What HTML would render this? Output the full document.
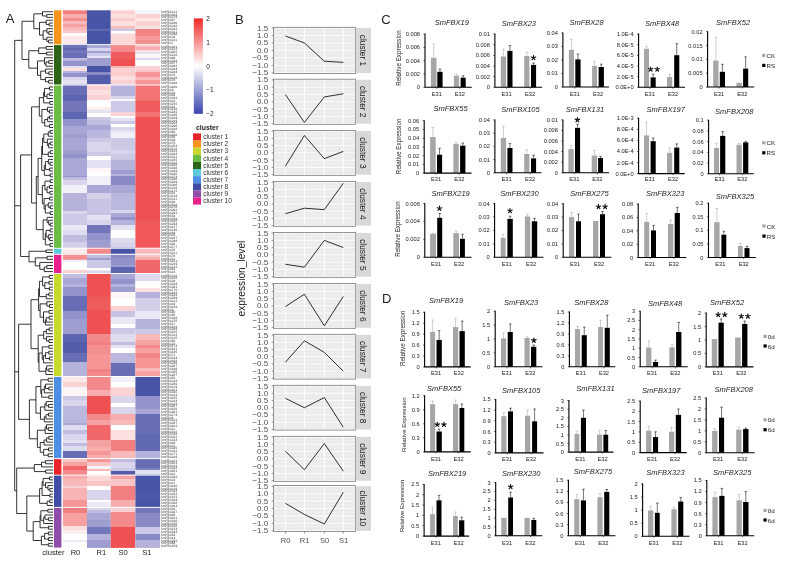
<!DOCTYPE html>
<html><head><meta charset="utf-8"><title>Figure</title>
<style>
html,body{margin:0;padding:0;background:#fff;}
body{width:785px;height:561px;overflow:hidden;position:relative;}
svg{position:absolute;left:0;top:0;font-family:"Liberation Sans", sans-serif;will-change:transform;filter:blur(0.3px);}
</style></head><body>
<svg width="785" height="561" viewBox="0 0 785 561">
<rect width="785" height="561" fill="#fff"/>
<rect x="62.9" y="10.3" width="24.1" height="4" fill="#f37e7f"/>
<rect x="62.9" y="14" width="24.1" height="4.3" fill="#f7adae"/>
<rect x="62.9" y="18" width="24.1" height="3.3" fill="#f48f90"/>
<rect x="62.9" y="21" width="24.1" height="3.3" fill="#f8b9ba"/>
<rect x="62.9" y="24" width="24.1" height="3.3" fill="#f6a1a2"/>
<rect x="62.9" y="27" width="24.1" height="3.3" fill="#f8b9ba"/>
<rect x="62.9" y="30" width="24.1" height="3.3" fill="#fac5c6"/>
<rect x="62.9" y="33" width="24.1" height="3.3" fill="#ffffff"/>
<rect x="62.9" y="36" width="24.1" height="8.6" fill="#fde7e7"/>
<rect x="62.9" y="44.3" width="24.1" height="3.5" fill="#686eb5"/>
<rect x="62.9" y="47.5" width="24.1" height="2.8" fill="#5d65b0"/>
<rect x="62.9" y="50" width="24.1" height="3.3" fill="#7376bb"/>
<rect x="62.9" y="53" width="24.1" height="5.3" fill="#686eb5"/>
<rect x="62.9" y="58" width="24.1" height="2.8" fill="#c0bde0"/>
<rect x="62.9" y="60.5" width="24.1" height="5.8" fill="#9393cb"/>
<rect x="62.9" y="66" width="24.1" height="2.3" fill="#e4e2f2"/>
<rect x="62.9" y="68" width="24.1" height="3.3" fill="#fce0e0"/>
<rect x="62.9" y="71" width="24.1" height="2.3" fill="#b5b2db"/>
<rect x="62.9" y="73" width="24.1" height="4.3" fill="#9393cb"/>
<rect x="62.9" y="77" width="24.1" height="3.3" fill="#d8d5ec"/>
<rect x="62.9" y="80" width="24.1" height="4.8" fill="#e4e2f2"/>
<rect x="62.9" y="84.5" width="24.1" height="10.8" fill="#686eb5"/>
<rect x="62.9" y="95" width="24.1" height="6.3" fill="#5d65b0"/>
<rect x="62.9" y="101" width="24.1" height="11.3" fill="#7376bb"/>
<rect x="62.9" y="112" width="24.1" height="7.3" fill="#5d65b0"/>
<rect x="62.9" y="119" width="24.1" height="7.3" fill="#9393cb"/>
<rect x="62.9" y="126" width="24.1" height="8.3" fill="#a9a7d5"/>
<rect x="62.9" y="134" width="24.1" height="4.3" fill="#9e9dd0"/>
<rect x="62.9" y="138" width="24.1" height="12.3" fill="#a9a7d5"/>
<rect x="62.9" y="150" width="24.1" height="4.3" fill="#9e9dd0"/>
<rect x="62.9" y="154" width="24.1" height="4.3" fill="#9393cb"/>
<rect x="62.9" y="158" width="24.1" height="18.3" fill="#a9a7d5"/>
<rect x="62.9" y="176" width="24.1" height="1.3" fill="#9393cb"/>
<rect x="62.9" y="177" width="24.1" height="3.3" fill="#c0bde0"/>
<rect x="62.9" y="180" width="24.1" height="5.3" fill="#d8d5ec"/>
<rect x="62.9" y="185" width="24.1" height="8.3" fill="#f1f0f8"/>
<rect x="62.9" y="193" width="24.1" height="18.3" fill="#b5b2db"/>
<rect x="62.9" y="211" width="24.1" height="3.3" fill="#d8d5ec"/>
<rect x="62.9" y="214" width="24.1" height="11.3" fill="#ccc9e6"/>
<rect x="62.9" y="225" width="24.1" height="5.3" fill="#eae9f5"/>
<rect x="62.9" y="230" width="24.1" height="5.3" fill="#dedcef"/>
<rect x="62.9" y="235" width="24.1" height="7.3" fill="#c0bde0"/>
<rect x="62.9" y="242" width="24.1" height="6.1" fill="#d2cfe9"/>
<rect x="62.9" y="247.8" width="24.1" height="6.3" fill="#fdeeee"/>
<rect x="62.9" y="253.8" width="24.1" height="6.3" fill="#f48f90"/>
<rect x="62.9" y="259.8" width="24.1" height="2.5" fill="#f1f0f8"/>
<rect x="62.9" y="262" width="24.1" height="8.3" fill="#ffffff"/>
<rect x="62.9" y="270" width="24.1" height="3.4" fill="#fbd2d3"/>
<rect x="62.9" y="273.1" width="24.1" height="5.2" fill="#c0bde0"/>
<rect x="62.9" y="278" width="24.1" height="6.3" fill="#a9a7d5"/>
<rect x="62.9" y="284" width="24.1" height="3.3" fill="#b5b2db"/>
<rect x="62.9" y="287" width="24.1" height="9.3" fill="#9393cb"/>
<rect x="62.9" y="296" width="24.1" height="15.3" fill="#686eb5"/>
<rect x="62.9" y="311" width="24.1" height="8.3" fill="#9393cb"/>
<rect x="62.9" y="319" width="24.1" height="15.3" fill="#9e9dd0"/>
<rect x="62.9" y="334" width="24.1" height="8.3" fill="#5d65b0"/>
<rect x="62.9" y="342" width="24.1" height="11.3" fill="#535cab"/>
<rect x="62.9" y="353" width="24.1" height="9.3" fill="#686eb5"/>
<rect x="62.9" y="362" width="24.1" height="14.3" fill="#b5b2db"/>
<rect x="62.9" y="376" width="24.1" height="6.3" fill="#fde7e7"/>
<rect x="62.9" y="382" width="24.1" height="5.3" fill="#fbd2d3"/>
<rect x="62.9" y="387" width="24.1" height="3.3" fill="#f7f7fb"/>
<rect x="62.9" y="390" width="24.1" height="6.3" fill="#fef6f6"/>
<rect x="62.9" y="396" width="24.1" height="4.3" fill="#ccc9e6"/>
<rect x="62.9" y="400" width="24.1" height="6.3" fill="#d8d5ec"/>
<rect x="62.9" y="406" width="24.1" height="17.3" fill="#bab8de"/>
<rect x="62.9" y="423" width="24.1" height="2.3" fill="#a9a7d5"/>
<rect x="62.9" y="425" width="24.1" height="5.3" fill="#dedcef"/>
<rect x="62.9" y="430" width="24.1" height="4.3" fill="#c0bde0"/>
<rect x="62.9" y="434" width="24.1" height="6.3" fill="#d8d5ec"/>
<rect x="62.9" y="440" width="24.1" height="3.3" fill="#e4e2f2"/>
<rect x="62.9" y="443" width="24.1" height="3.3" fill="#c0bde0"/>
<rect x="62.9" y="446" width="24.1" height="5.3" fill="#dedcef"/>
<rect x="62.9" y="451" width="24.1" height="7.3" fill="#686eb5"/>
<rect x="62.9" y="458" width="24.1" height="4.3" fill="#fac5c6"/>
<rect x="62.9" y="462" width="24.1" height="4.3" fill="#f6a1a2"/>
<rect x="62.9" y="466" width="24.1" height="4.3" fill="#f16769"/>
<rect x="62.9" y="470" width="24.1" height="5" fill="#f4898b"/>
<rect x="62.9" y="474.7" width="24.1" height="4.6" fill="#f7adae"/>
<rect x="62.9" y="479" width="24.1" height="7.3" fill="#f8b9ba"/>
<rect x="62.9" y="486" width="24.1" height="2.3" fill="#fbd2d3"/>
<rect x="62.9" y="488" width="24.1" height="12.3" fill="#f8b3b4"/>
<rect x="62.9" y="500" width="24.1" height="7.2" fill="#f59596"/>
<rect x="62.9" y="506.9" width="24.1" height="6.4" fill="#f37e7f"/>
<rect x="62.9" y="513" width="24.1" height="13.3" fill="#f6a1a2"/>
<rect x="62.9" y="526" width="24.1" height="4.3" fill="#fce0e0"/>
<rect x="62.9" y="530" width="24.1" height="4.3" fill="#fdeeee"/>
<rect x="62.9" y="534" width="24.1" height="6.3" fill="#ffffff"/>
<rect x="62.9" y="540" width="24.1" height="2.3" fill="#eae9f5"/>
<rect x="62.9" y="542" width="24.1" height="5.9" fill="#ffffff"/>
<rect x="87" y="10.3" width="23.8" height="19.4" fill="#4854a6"/>
<rect x="87" y="29.4" width="23.8" height="1.4" fill="#535cab"/>
<rect x="87" y="30.5" width="23.8" height="14.1" fill="#4854a6"/>
<rect x="87" y="44.3" width="23.8" height="4" fill="#a9a7d5"/>
<rect x="87" y="48" width="23.8" height="3.3" fill="#d8d5ec"/>
<rect x="87" y="51" width="23.8" height="2.3" fill="#9e9dd0"/>
<rect x="87" y="53" width="23.8" height="3.3" fill="#ccc9e6"/>
<rect x="87" y="56" width="23.8" height="2.3" fill="#e4e2f2"/>
<rect x="87" y="58" width="23.8" height="8.3" fill="#9e9dd0"/>
<rect x="87" y="66" width="23.8" height="6.3" fill="#4854a6"/>
<rect x="87" y="72" width="23.8" height="3.3" fill="#8889c5"/>
<rect x="87" y="75" width="23.8" height="9.8" fill="#535cab"/>
<rect x="87" y="84.5" width="23.8" height="5.8" fill="#fbd2d3"/>
<rect x="87" y="90" width="23.8" height="5.3" fill="#fce0e0"/>
<rect x="87" y="95" width="23.8" height="5.3" fill="#fbd2d3"/>
<rect x="87" y="100" width="23.8" height="7.3" fill="#ffffff"/>
<rect x="87" y="107" width="23.8" height="3.3" fill="#fdeeee"/>
<rect x="87" y="110" width="23.8" height="3.3" fill="#e4e2f2"/>
<rect x="87" y="113" width="23.8" height="4.3" fill="#ffffff"/>
<rect x="87" y="117" width="23.8" height="3.3" fill="#ccc9e6"/>
<rect x="87" y="120" width="23.8" height="5.3" fill="#c0bde0"/>
<rect x="87" y="125" width="23.8" height="5.3" fill="#a9a7d5"/>
<rect x="87" y="130" width="23.8" height="8.3" fill="#bab8de"/>
<rect x="87" y="138" width="23.8" height="4.3" fill="#ccc9e6"/>
<rect x="87" y="142" width="23.8" height="10.3" fill="#d8d5ec"/>
<rect x="87" y="152" width="23.8" height="4.3" fill="#ccc9e6"/>
<rect x="87" y="156" width="23.8" height="4.3" fill="#ffffff"/>
<rect x="87" y="160" width="23.8" height="8.3" fill="#e4e2f2"/>
<rect x="87" y="168" width="23.8" height="4.3" fill="#fef6f6"/>
<rect x="87" y="172" width="23.8" height="4.3" fill="#ffffff"/>
<rect x="87" y="176" width="23.8" height="9.3" fill="#f1f0f8"/>
<rect x="87" y="185" width="23.8" height="8.3" fill="#a9a7d5"/>
<rect x="87" y="193" width="23.8" height="6.3" fill="#d2cfe9"/>
<rect x="87" y="199" width="23.8" height="16.3" fill="#c6c3e3"/>
<rect x="87" y="215" width="23.8" height="5.3" fill="#e4e2f2"/>
<rect x="87" y="220" width="23.8" height="5.3" fill="#d8d5ec"/>
<rect x="87" y="225" width="23.8" height="8.3" fill="#7376bb"/>
<rect x="87" y="233" width="23.8" height="7.3" fill="#9393cb"/>
<rect x="87" y="240" width="23.8" height="8.1" fill="#9e9dd0"/>
<rect x="87" y="247.8" width="23.8" height="6.3" fill="#f4898b"/>
<rect x="87" y="253.8" width="23.8" height="4.5" fill="#c0bde0"/>
<rect x="87" y="258" width="23.8" height="2.3" fill="#9e9dd0"/>
<rect x="87" y="260" width="23.8" height="8.3" fill="#ccc9e6"/>
<rect x="87" y="268" width="23.8" height="2.8" fill="#ffffff"/>
<rect x="87" y="270.5" width="23.8" height="2.9" fill="#d8d5ec"/>
<rect x="87" y="273.1" width="23.8" height="23.2" fill="#ef5153"/>
<rect x="87" y="296" width="23.8" height="4.3" fill="#ef5759"/>
<rect x="87" y="300" width="23.8" height="10.3" fill="#f05c5e"/>
<rect x="87" y="310" width="23.8" height="24.3" fill="#ef5153"/>
<rect x="87" y="334" width="23.8" height="8.3" fill="#f4898b"/>
<rect x="87" y="342" width="23.8" height="3.3" fill="#f37e7f"/>
<rect x="87" y="345" width="23.8" height="9.3" fill="#f48f90"/>
<rect x="87" y="354" width="23.8" height="15.3" fill="#f59596"/>
<rect x="87" y="369" width="23.8" height="3.3" fill="#f37e7f"/>
<rect x="87" y="372" width="23.8" height="4.3" fill="#f4898b"/>
<rect x="87" y="376" width="23.8" height="14.3" fill="#f4898b"/>
<rect x="87" y="390" width="23.8" height="6.3" fill="#f7adae"/>
<rect x="87" y="396" width="23.8" height="18.3" fill="#ef5153"/>
<rect x="87" y="414" width="23.8" height="6.3" fill="#f4898b"/>
<rect x="87" y="420" width="23.8" height="5.3" fill="#f6a1a2"/>
<rect x="87" y="425" width="23.8" height="15.3" fill="#f16769"/>
<rect x="87" y="440" width="23.8" height="7.3" fill="#f6a1a2"/>
<rect x="87" y="447" width="23.8" height="4.3" fill="#f7adae"/>
<rect x="87" y="451" width="23.8" height="4.3" fill="#f59596"/>
<rect x="87" y="455" width="23.8" height="3.3" fill="#f7adae"/>
<rect x="87" y="458" width="23.8" height="4.3" fill="#f59596"/>
<rect x="87" y="462" width="23.8" height="4.3" fill="#fac5c6"/>
<rect x="87" y="466" width="23.8" height="3.3" fill="#f7f7fb"/>
<rect x="87" y="469" width="23.8" height="2.3" fill="#f8b9ba"/>
<rect x="87" y="471" width="23.8" height="4" fill="#ffffff"/>
<rect x="87" y="474.7" width="23.8" height="6.6" fill="#fbd9d9"/>
<rect x="87" y="481" width="23.8" height="5.3" fill="#fac5c6"/>
<rect x="87" y="486" width="23.8" height="4.3" fill="#ffffff"/>
<rect x="87" y="490" width="23.8" height="10.3" fill="#d8d5ec"/>
<rect x="87" y="500" width="23.8" height="2.3" fill="#ffffff"/>
<rect x="87" y="502" width="23.8" height="5.2" fill="#eae9f5"/>
<rect x="87" y="506.9" width="23.8" height="3.4" fill="#d8d5ec"/>
<rect x="87" y="510" width="23.8" height="3.3" fill="#c0bde0"/>
<rect x="87" y="513" width="23.8" height="7.3" fill="#a9a7d5"/>
<rect x="87" y="520" width="23.8" height="7.3" fill="#9e9dd0"/>
<rect x="87" y="527" width="23.8" height="7.3" fill="#7376bb"/>
<rect x="87" y="534" width="23.8" height="6.3" fill="#b5b2db"/>
<rect x="87" y="540" width="23.8" height="7.9" fill="#9e9dd0"/>
<rect x="110.8" y="10.3" width="24.6" height="4" fill="#fbd2d3"/>
<rect x="110.8" y="14" width="24.6" height="4.3" fill="#fce0e0"/>
<rect x="110.8" y="18" width="24.6" height="3.3" fill="#facccc"/>
<rect x="110.8" y="21" width="24.6" height="5.3" fill="#fce0e0"/>
<rect x="110.8" y="26" width="24.6" height="3.1" fill="#f9bfc0"/>
<rect x="110.8" y="28.8" width="24.6" height="2.6" fill="#ccc9e6"/>
<rect x="110.8" y="31.1" width="24.6" height="2.7" fill="#ffffff"/>
<rect x="110.8" y="33.5" width="24.6" height="11.1" fill="#fbd9d9"/>
<rect x="110.8" y="44.3" width="24.6" height="8" fill="#f4898b"/>
<rect x="110.8" y="52" width="24.6" height="7.3" fill="#f05c5e"/>
<rect x="110.8" y="59" width="24.6" height="7.3" fill="#ef5153"/>
<rect x="110.8" y="66" width="24.6" height="2.3" fill="#f8b9ba"/>
<rect x="110.8" y="68" width="24.6" height="4.3" fill="#fbd2d3"/>
<rect x="110.8" y="72" width="24.6" height="4.3" fill="#facccc"/>
<rect x="110.8" y="76" width="24.6" height="4.3" fill="#fce0e0"/>
<rect x="110.8" y="80" width="24.6" height="4.8" fill="#fbd2d3"/>
<rect x="110.8" y="84.5" width="24.6" height="11.8" fill="#b5b2db"/>
<rect x="110.8" y="96" width="24.6" height="3.3" fill="#d8d5ec"/>
<rect x="110.8" y="99" width="24.6" height="2.3" fill="#f7f7fb"/>
<rect x="110.8" y="101" width="24.6" height="11.3" fill="#ccc9e6"/>
<rect x="110.8" y="112" width="24.6" height="4.3" fill="#fbd2d3"/>
<rect x="110.8" y="116" width="24.6" height="2.3" fill="#ffffff"/>
<rect x="110.8" y="118" width="24.6" height="3.3" fill="#e4e2f2"/>
<rect x="110.8" y="121" width="24.6" height="3.3" fill="#ccc9e6"/>
<rect x="110.8" y="124" width="24.6" height="3.3" fill="#ffffff"/>
<rect x="110.8" y="127" width="24.6" height="3.3" fill="#d8d5ec"/>
<rect x="110.8" y="130" width="24.6" height="2.3" fill="#e4e2f2"/>
<rect x="110.8" y="132" width="24.6" height="6.3" fill="#f1f0f8"/>
<rect x="110.8" y="138" width="24.6" height="12.3" fill="#ccc9e6"/>
<rect x="110.8" y="150" width="24.6" height="4.3" fill="#d8d5ec"/>
<rect x="110.8" y="154" width="24.6" height="6.3" fill="#ccc9e6"/>
<rect x="110.8" y="160" width="24.6" height="10.3" fill="#b5b2db"/>
<rect x="110.8" y="170" width="24.6" height="4.3" fill="#9e9dd0"/>
<rect x="110.8" y="174" width="24.6" height="2.3" fill="#b5b2db"/>
<rect x="110.8" y="176" width="24.6" height="9.3" fill="#8889c5"/>
<rect x="110.8" y="185" width="24.6" height="8.3" fill="#a9a7d5"/>
<rect x="110.8" y="193" width="24.6" height="17.3" fill="#bab8de"/>
<rect x="110.8" y="210" width="24.6" height="3.3" fill="#d8d5ec"/>
<rect x="110.8" y="213" width="24.6" height="4.3" fill="#a9a7d5"/>
<rect x="110.8" y="217" width="24.6" height="3.3" fill="#9393cb"/>
<rect x="110.8" y="220" width="24.6" height="5.3" fill="#b5b2db"/>
<rect x="110.8" y="225" width="24.6" height="5.3" fill="#e4e2f2"/>
<rect x="110.8" y="230" width="24.6" height="8.3" fill="#ffffff"/>
<rect x="110.8" y="238" width="24.6" height="4.3" fill="#dedcef"/>
<rect x="110.8" y="242" width="24.6" height="6.1" fill="#d8d5ec"/>
<rect x="110.8" y="247.8" width="24.6" height="6.3" fill="#4854a6"/>
<rect x="110.8" y="253.8" width="24.6" height="4.5" fill="#8889c5"/>
<rect x="110.8" y="258" width="24.6" height="7.3" fill="#9393cb"/>
<rect x="110.8" y="265" width="24.6" height="2.3" fill="#9e9dd0"/>
<rect x="110.8" y="267" width="24.6" height="6.4" fill="#5d65b0"/>
<rect x="110.8" y="273.1" width="24.6" height="6.2" fill="#a9a7d5"/>
<rect x="110.8" y="279" width="24.6" height="5.3" fill="#9393cb"/>
<rect x="110.8" y="284" width="24.6" height="3.3" fill="#b5b2db"/>
<rect x="110.8" y="287" width="24.6" height="5.3" fill="#9e9dd0"/>
<rect x="110.8" y="292" width="24.6" height="6.3" fill="#fef6f6"/>
<rect x="110.8" y="298" width="24.6" height="8.3" fill="#ffffff"/>
<rect x="110.8" y="306" width="24.6" height="5.3" fill="#fbd2d3"/>
<rect x="110.8" y="311" width="24.6" height="6.3" fill="#c6c3e3"/>
<rect x="110.8" y="317" width="24.6" height="7.3" fill="#eae9f5"/>
<rect x="110.8" y="324" width="24.6" height="4.3" fill="#ffffff"/>
<rect x="110.8" y="328" width="24.6" height="6.3" fill="#ccc9e6"/>
<rect x="110.8" y="334" width="24.6" height="8.3" fill="#dedcef"/>
<rect x="110.8" y="342" width="24.6" height="3.3" fill="#c0bde0"/>
<rect x="110.8" y="345" width="24.6" height="3.3" fill="#e4e2f2"/>
<rect x="110.8" y="348" width="24.6" height="5.3" fill="#ffffff"/>
<rect x="110.8" y="353" width="24.6" height="10.3" fill="#bab8de"/>
<rect x="110.8" y="363" width="24.6" height="13.3" fill="#686eb5"/>
<rect x="110.8" y="376" width="24.6" height="6.3" fill="#f1f0f8"/>
<rect x="110.8" y="382" width="24.6" height="5.3" fill="#ffffff"/>
<rect x="110.8" y="387" width="24.6" height="1.3" fill="#fce0e0"/>
<rect x="110.8" y="388" width="24.6" height="8.3" fill="#fbd2d3"/>
<rect x="110.8" y="396" width="24.6" height="7.3" fill="#d8d5ec"/>
<rect x="110.8" y="403" width="24.6" height="4.3" fill="#ffffff"/>
<rect x="110.8" y="407" width="24.6" height="7.3" fill="#d8d5ec"/>
<rect x="110.8" y="414" width="24.6" height="6.3" fill="#f7adae"/>
<rect x="110.8" y="420" width="24.6" height="5.3" fill="#f8b9ba"/>
<rect x="110.8" y="425" width="24.6" height="5.3" fill="#ffffff"/>
<rect x="110.8" y="430" width="24.6" height="10.3" fill="#fce0e0"/>
<rect x="110.8" y="440" width="24.6" height="11.3" fill="#f37e7f"/>
<rect x="110.8" y="451" width="24.6" height="7.3" fill="#f8b9ba"/>
<rect x="110.8" y="458" width="24.6" height="4.3" fill="#c0bde0"/>
<rect x="110.8" y="462" width="24.6" height="6.3" fill="#d8d5ec"/>
<rect x="110.8" y="468" width="24.6" height="3.3" fill="#ccc9e6"/>
<rect x="110.8" y="471" width="24.6" height="4" fill="#535cab"/>
<rect x="110.8" y="474.7" width="24.6" height="4.6" fill="#f6a1a2"/>
<rect x="110.8" y="479" width="24.6" height="7.3" fill="#fac5c6"/>
<rect x="110.8" y="486" width="24.6" height="14.3" fill="#f37e7f"/>
<rect x="110.8" y="500" width="24.6" height="7.2" fill="#f7adae"/>
<rect x="110.8" y="506.9" width="24.6" height="5.4" fill="#fbd2d3"/>
<rect x="110.8" y="512" width="24.6" height="8.3" fill="#f4898b"/>
<rect x="110.8" y="520" width="24.6" height="7.3" fill="#f4898b"/>
<rect x="110.8" y="527" width="24.6" height="20.9" fill="#ef5153"/>
<rect x="135.4" y="10.3" width="24.7" height="4" fill="#f7f7fb"/>
<rect x="135.4" y="14" width="24.7" height="4.3" fill="#fbd2d3"/>
<rect x="135.4" y="18" width="24.7" height="3.3" fill="#fde7e7"/>
<rect x="135.4" y="21" width="24.7" height="5.3" fill="#fbd2d3"/>
<rect x="135.4" y="26" width="24.7" height="3.3" fill="#fce0e0"/>
<rect x="135.4" y="29" width="24.7" height="7.3" fill="#f38485"/>
<rect x="135.4" y="36" width="24.7" height="4.3" fill="#f59b9c"/>
<rect x="135.4" y="40" width="24.7" height="4.6" fill="#f48f90"/>
<rect x="135.4" y="44.3" width="24.7" height="3" fill="#fac5c6"/>
<rect x="135.4" y="47" width="24.7" height="3.3" fill="#f7adae"/>
<rect x="135.4" y="50" width="24.7" height="2.3" fill="#fce0e0"/>
<rect x="135.4" y="52" width="24.7" height="2.3" fill="#e4e2f2"/>
<rect x="135.4" y="54" width="24.7" height="4.3" fill="#fef6f6"/>
<rect x="135.4" y="58" width="24.7" height="2.3" fill="#d8d5ec"/>
<rect x="135.4" y="60" width="24.7" height="6.3" fill="#ffffff"/>
<rect x="135.4" y="66" width="24.7" height="4.3" fill="#fbd2d3"/>
<rect x="135.4" y="70" width="24.7" height="2.3" fill="#fac5c6"/>
<rect x="135.4" y="72" width="24.7" height="5.3" fill="#f59596"/>
<rect x="135.4" y="77" width="24.7" height="3.3" fill="#f8b9ba"/>
<rect x="135.4" y="80" width="24.7" height="4.8" fill="#f59596"/>
<rect x="135.4" y="84.5" width="24.7" height="16.8" fill="#f27374"/>
<rect x="135.4" y="101" width="24.7" height="11.3" fill="#f05c5e"/>
<rect x="135.4" y="112" width="24.7" height="5.3" fill="#f27374"/>
<rect x="135.4" y="117" width="24.7" height="103.3" fill="#ef5153"/>
<rect x="135.4" y="220" width="24.7" height="28.1" fill="#ef5759"/>
<rect x="135.4" y="247.8" width="24.7" height="6.3" fill="#f8b9ba"/>
<rect x="135.4" y="253.8" width="24.7" height="3.5" fill="#fac5c6"/>
<rect x="135.4" y="257" width="24.7" height="3.3" fill="#f7adae"/>
<rect x="135.4" y="260" width="24.7" height="13.4" fill="#f16769"/>
<rect x="135.4" y="273.1" width="24.7" height="8.2" fill="#dedcef"/>
<rect x="135.4" y="281" width="24.7" height="7.3" fill="#ffffff"/>
<rect x="135.4" y="288" width="24.7" height="4.3" fill="#fce0e0"/>
<rect x="135.4" y="292" width="24.7" height="6.3" fill="#b5b2db"/>
<rect x="135.4" y="298" width="24.7" height="13.3" fill="#d2cfe9"/>
<rect x="135.4" y="311" width="24.7" height="8.3" fill="#eae9f5"/>
<rect x="135.4" y="319" width="24.7" height="10.3" fill="#b5b2db"/>
<rect x="135.4" y="329" width="24.7" height="5.3" fill="#ccc9e6"/>
<rect x="135.4" y="334" width="24.7" height="6.3" fill="#f8b9ba"/>
<rect x="135.4" y="340" width="24.7" height="5.3" fill="#f6a1a2"/>
<rect x="135.4" y="345" width="24.7" height="3.3" fill="#f4898b"/>
<rect x="135.4" y="348" width="24.7" height="5.3" fill="#f6a1a2"/>
<rect x="135.4" y="353" width="24.7" height="5.3" fill="#f38485"/>
<rect x="135.4" y="358" width="24.7" height="10.3" fill="#f59596"/>
<rect x="135.4" y="368" width="24.7" height="3.3" fill="#f8b9ba"/>
<rect x="135.4" y="371" width="24.7" height="5.3" fill="#f6a1a2"/>
<rect x="135.4" y="376" width="24.7" height="20.3" fill="#4854a6"/>
<rect x="135.4" y="396" width="24.7" height="13.3" fill="#9393cb"/>
<rect x="135.4" y="409" width="24.7" height="5.3" fill="#a9a7d5"/>
<rect x="135.4" y="414" width="24.7" height="11.3" fill="#686eb5"/>
<rect x="135.4" y="425" width="24.7" height="9.3" fill="#686eb5"/>
<rect x="135.4" y="434" width="24.7" height="17.3" fill="#6269b3"/>
<rect x="135.4" y="451" width="24.7" height="7.3" fill="#b5b2db"/>
<rect x="135.4" y="458" width="24.7" height="10.3" fill="#686eb5"/>
<rect x="135.4" y="468" width="24.7" height="2.3" fill="#7d80c0"/>
<rect x="135.4" y="470" width="24.7" height="5" fill="#e4e2f2"/>
<rect x="135.4" y="474.7" width="24.7" height="15.6" fill="#4854a6"/>
<rect x="135.4" y="490" width="24.7" height="10.3" fill="#4d58a9"/>
<rect x="135.4" y="500" width="24.7" height="7.2" fill="#4854a6"/>
<rect x="135.4" y="506.9" width="24.7" height="6.4" fill="#7376bb"/>
<rect x="135.4" y="513" width="24.7" height="14.3" fill="#8889c5"/>
<rect x="135.4" y="527" width="24.7" height="7.3" fill="#ccc9e6"/>
<rect x="135.4" y="534" width="24.7" height="6.3" fill="#8889c5"/>
<rect x="135.4" y="540" width="24.7" height="7.9" fill="#b5b2db"/>
<rect x="54" y="44.3" width="107" height="0.8" fill="#fff"/>
<rect x="54" y="84.5" width="107" height="1" fill="#fff"/>
<rect x="54" y="247.8" width="107" height="0.9" fill="#fff"/>
<rect x="54" y="253.8" width="107" height="1" fill="#fff"/>
<rect x="54" y="273.1" width="107" height="0.9" fill="#fff"/>
<rect x="54" y="376" width="107" height="0.9" fill="#fff"/>
<rect x="54" y="458.1" width="107" height="1" fill="#fff"/>
<rect x="54" y="474.7" width="107" height="0.9" fill="#fff"/>
<rect x="54" y="506.9" width="107" height="1" fill="#fff"/>
<rect x="54" y="10.3" width="7.4" height="34" fill="#F7941D"/>
<rect x="54" y="45.1" width="7.4" height="39.4" fill="#2B6416"/>
<rect x="54" y="85.5" width="7.4" height="162.3" fill="#6CBD45"/>
<rect x="54" y="248.7" width="7.4" height="5.1" fill="#5DC9DD"/>
<rect x="54" y="254.8" width="7.4" height="18.3" fill="#E8208C"/>
<rect x="54" y="274" width="7.4" height="102" fill="#C8D92E"/>
<rect x="54" y="376.9" width="7.4" height="81.2" fill="#4E8FE5"/>
<rect x="54" y="459.1" width="7.4" height="15.6" fill="#E8242A"/>
<rect x="54" y="475.6" width="7.4" height="31.3" fill="#3F4DA6"/>
<rect x="54" y="507.9" width="7.4" height="39.7" fill="#8E4DA8"/>
<g transform="scale(0.1)" font-size="32" fill="#333" dominant-baseline="central" text-rendering="geometricPrecision"><text x="1608" y="117.17">SmFBX122</text><text x="1608" y="145.5">SmFBX304</text><text x="1608" y="173.83">SmFBX279</text><text x="1608" y="202.17">SmFBX67</text><text x="1608" y="230.5">SmFBX190</text><text x="1608" y="258.83">SmFBX310</text><text x="1608" y="287.17">SmFBX243</text><text x="1608" y="315.5">SmFBX321</text><text x="1608" y="343.83">SmFBX298</text><text x="1608" y="372.17">SmFBX34</text><text x="1608" y="400.5">SmFBX311</text><text x="1608" y="428.83">SmFBX7</text><text x="1608" y="465.07">SmFBX241</text><text x="1608" y="493.21">SmFBX133</text><text x="1608" y="521.36">SmFBX283</text><text x="1608" y="549.5">SmFBX120</text><text x="1608" y="577.64">SmFBX99</text><text x="1608" y="605.79">SmFBX241</text><text x="1608" y="633.93">SmFBX277</text><text x="1608" y="662.07">SmFBX282</text><text x="1608" y="690.21">SmFBX244</text><text x="1608" y="718.36">SmFBX204</text><text x="1608" y="746.5">SmFBX78</text><text x="1608" y="774.64">SmFBX119</text><text x="1608" y="802.79">SmFBX78</text><text x="1608" y="830.93">SmFBX268</text><text x="1608" y="868.99">SmFBX200</text><text x="1608" y="896.97">SmFBX8</text><text x="1608" y="924.96">SmFBX33</text><text x="1608" y="952.94">SmFBX82</text><text x="1608" y="980.92">SmFBX303</text><text x="1608" y="1008.91">SmFBX22</text><text x="1608" y="1036.89">SmFBX155</text><text x="1608" y="1064.87">SmFBX16</text><text x="1608" y="1092.85">SmFBX138</text><text x="1608" y="1120.84">SmFBX243</text><text x="1608" y="1148.82">SmFBX305</text><text x="1608" y="1176.8">SmFBX199</text><text x="1608" y="1204.78">SmFBX219</text><text x="1608" y="1232.77">SmFBX203</text><text x="1608" y="1260.75">SmFBX296</text><text x="1608" y="1288.73">SmFBX228</text><text x="1608" y="1316.72">SmFBX69</text><text x="1608" y="1344.7">SmFBX188</text><text x="1608" y="1372.68">SmFBX50</text><text x="1608" y="1400.66">SmFBX19</text><text x="1608" y="1428.65">SmFBX70</text><text x="1608" y="1456.63">SmFBX254</text><text x="1608" y="1484.61">SmFBX112</text><text x="1608" y="1512.59">SmFBX133</text><text x="1608" y="1540.58">SmFBX224</text><text x="1608" y="1568.56">SmFBX321</text><text x="1608" y="1596.54">SmFBX155</text><text x="1608" y="1624.53">SmFBX216</text><text x="1608" y="1652.51">SmFBX260</text><text x="1608" y="1680.49">SmFBX198</text><text x="1608" y="1708.47">SmFBX294</text><text x="1608" y="1736.46">SmFBX180</text><text x="1608" y="1764.44">SmFBX274</text><text x="1608" y="1792.42">SmFBX300</text><text x="1608" y="1820.41">SmFBX209</text><text x="1608" y="1848.39">SmFBX300</text><text x="1608" y="1876.37">SmFBX119</text><text x="1608" y="1904.35">SmFBX173</text><text x="1608" y="1932.34">SmFBX15</text><text x="1608" y="1960.32">SmFBX144</text><text x="1608" y="1988.3">SmFBX311</text><text x="1608" y="2016.28">SmFBX84</text><text x="1608" y="2044.27">SmFBX168</text><text x="1608" y="2072.25">SmFBX278</text><text x="1608" y="2100.23">SmFBX293</text><text x="1608" y="2128.22">SmFBX292</text><text x="1608" y="2156.2">SmFBX54</text><text x="1608" y="2184.18">SmFBX109</text><text x="1608" y="2212.16">SmFBX325</text><text x="1608" y="2240.15">SmFBX294</text><text x="1608" y="2268.13">SmFBX137</text><text x="1608" y="2296.11">SmFBX146</text><text x="1608" y="2324.09">SmFBX64</text><text x="1608" y="2352.08">SmFBX33</text><text x="1608" y="2380.06">SmFBX247</text><text x="1608" y="2408.04">SmFBX248</text><text x="1608" y="2436.03">SmFBX46</text><text x="1608" y="2464.01">SmFBX177</text><text x="1608" y="2499.75">SmFBX35</text><text x="1608" y="2525.25">SmFBX211</text><text x="1608" y="2561.07">SmFBX78</text><text x="1608" y="2587.21">SmFBX11</text><text x="1608" y="2613.36">SmFBX151</text><text x="1608" y="2639.5">SmFBX219</text><text x="1608" y="2665.64">SmFBX213</text><text x="1608" y="2691.79">SmFBX61</text><text x="1608" y="2717.93">SmFBX23</text><text x="1608" y="2754.17">SmFBX310</text><text x="1608" y="2782.5">SmFBX315</text><text x="1608" y="2810.83">SmFBX24</text><text x="1608" y="2839.17">SmFBX194</text><text x="1608" y="2867.5">SmFBX301</text><text x="1608" y="2895.83">SmFBX170</text><text x="1608" y="2924.17">SmFBX283</text><text x="1608" y="2952.5">SmFBX143</text><text x="1608" y="2980.83">SmFBX259</text><text x="1608" y="3009.17">SmFBX121</text><text x="1608" y="3037.5">SmFBX19</text><text x="1608" y="3065.83">SmFBX159</text><text x="1608" y="3094.17">SmFBX4</text><text x="1608" y="3122.5">SmFBX40</text><text x="1608" y="3150.83">SmFBX56</text><text x="1608" y="3179.17">SmFBX308</text><text x="1608" y="3207.5">SmFBX275</text><text x="1608" y="3235.83">SmFBX17</text><text x="1608" y="3264.17">SmFBX102</text><text x="1608" y="3292.5">SmFBX209</text><text x="1608" y="3320.83">SmFBX150</text><text x="1608" y="3349.17">SmFBX313</text><text x="1608" y="3377.5">SmFBX135</text><text x="1608" y="3405.83">SmFBX80</text><text x="1608" y="3434.17">SmFBX22</text><text x="1608" y="3462.5">SmFBX174</text><text x="1608" y="3490.83">SmFBX161</text><text x="1608" y="3519.17">SmFBX185</text><text x="1608" y="3547.5">SmFBX71</text><text x="1608" y="3575.83">SmFBX194</text><text x="1608" y="3604.17">SmFBX193</text><text x="1608" y="3632.5">SmFBX236</text><text x="1608" y="3660.83">SmFBX267</text><text x="1608" y="3689.17">SmFBX198</text><text x="1608" y="3717.5">SmFBX305</text><text x="1608" y="3745.83">SmFBX287</text><text x="1608" y="3783">SmFBX53</text><text x="1608" y="3811">SmFBX318</text><text x="1608" y="3839">SmFBX260</text><text x="1608" y="3867">SmFBX139</text><text x="1608" y="3895">SmFBX221</text><text x="1608" y="3923">SmFBX325</text><text x="1608" y="3951">SmFBX122</text><text x="1608" y="3979">SmFBX155</text><text x="1608" y="4007">SmFBX224</text><text x="1608" y="4035">SmFBX133</text><text x="1608" y="4063">SmFBX267</text><text x="1608" y="4091">SmFBX156</text><text x="1608" y="4119">SmFBX281</text><text x="1608" y="4147">SmFBX174</text><text x="1608" y="4175">SmFBX6</text><text x="1608" y="4203">SmFBX213</text><text x="1608" y="4231">SmFBX297</text><text x="1608" y="4259">SmFBX162</text><text x="1608" y="4287">SmFBX11</text><text x="1608" y="4315">SmFBX193</text><text x="1608" y="4343">SmFBX316</text><text x="1608" y="4371">SmFBX302</text><text x="1608" y="4399">SmFBX324</text><text x="1608" y="4427">SmFBX69</text><text x="1608" y="4455">SmFBX31</text><text x="1608" y="4483">SmFBX325</text><text x="1608" y="4511">SmFBX322</text><text x="1608" y="4539">SmFBX171</text><text x="1608" y="4567">SmFBX239</text><text x="1608" y="4604">SmFBX181</text><text x="1608" y="4630">SmFBX181</text><text x="1608" y="4656">SmFBX312</text><text x="1608" y="4682">SmFBX143</text><text x="1608" y="4708">SmFBX251</text><text x="1608" y="4734">SmFBX12</text><text x="1608" y="4770.23">SmFBX302</text><text x="1608" y="4798.68">SmFBX32</text><text x="1608" y="4827.14">SmFBX11</text><text x="1608" y="4855.59">SmFBX190</text><text x="1608" y="4884.05">SmFBX129</text><text x="1608" y="4912.5">SmFBX322</text><text x="1608" y="4940.95">SmFBX234</text><text x="1608" y="4969.41">SmFBX153</text><text x="1608" y="4997.86">SmFBX304</text><text x="1608" y="5026.32">SmFBX308</text><text x="1608" y="5054.77">SmFBX164</text><text x="1608" y="5093.18">SmFBX91</text><text x="1608" y="5121.54">SmFBX187</text><text x="1608" y="5149.89">SmFBX95</text><text x="1608" y="5178.25">SmFBX161</text><text x="1608" y="5206.61">SmFBX190</text><text x="1608" y="5234.96">SmFBX305</text><text x="1608" y="5263.32">SmFBX136</text><text x="1608" y="5291.68">SmFBX154</text><text x="1608" y="5320.04">SmFBX194</text><text x="1608" y="5348.39">SmFBX54</text><text x="1608" y="5376.75">SmFBX14</text><text x="1608" y="5405.11">SmFBX292</text><text x="1608" y="5433.46">SmFBX68</text><text x="1608" y="5461.82">SmFBX159</text></g>
<line x1="168.2" x2="168.2" y1="11" y2="547" stroke="#999" stroke-width="0.5"/>
<path d="M46.71 14.55V17.38 M46.71 14.55H53 M46.71 17.38H53 M42.5 11.72V15.97 M42.5 11.72H53 M42.5 15.97H46.71 M49.16 23.05V25.88 M49.16 23.05H53 M49.16 25.88H53 M46.2 20.22V24.47 M46.2 20.22H53 M46.2 24.47H49.16 M48.81 31.55V34.38 M48.81 31.55H53 M48.81 34.38H53 M46.9 28.72V32.97 M46.9 28.72H53 M46.9 32.97H48.81 M48.62 40.05V42.88 M48.62 40.05H53 M48.62 42.88H53 M46.81 37.22V41.47 M46.81 37.22H53 M46.81 41.47H48.62 M43.12 30.84V39.34 M43.12 30.84H46.9 M43.12 39.34H46.81 M39.5 22.34V35.09 M39.5 22.34H46.2 M39.5 35.09H43.12 M33.8 13.84V28.72 M33.8 13.84H42.5 M33.8 28.72H39.5 M46.05 46.51V49.32 M46.05 46.51H53 M46.05 49.32H53 M46.61 52.14V54.95 M46.61 52.14H53 M46.61 54.95H53 M38.7 47.91V53.54 M38.7 47.91H46.05 M38.7 53.54H46.61 M48.72 60.58V63.39 M48.72 60.58H53 M48.72 63.39H53 M46.01 61.99V66.21 M46.01 61.99H48.72 M46.01 66.21H53 M44.52 57.76V64.1 M44.52 57.76H53 M44.52 64.1H46.01 M48.84 71.84V74.65 M48.84 71.84H53 M48.84 74.65H53 M45.62 69.02V73.24 M45.62 69.02H53 M45.62 73.24H48.84 M48.58 80.28V83.09 M48.58 80.28H53 M48.58 83.09H53 M45.41 77.46V81.69 M45.41 77.46H53 M45.41 81.69H48.58 M40.73 71.13V79.58 M40.73 71.13H45.62 M40.73 79.58H45.41 M37.5 60.93V75.35 M37.5 60.93H44.52 M37.5 75.35H40.73 M28.8 50.73V68.14 M28.8 50.73H38.7 M28.8 68.14H37.5 M49.44 86.95V89.85 M49.44 86.95H53 M49.44 89.85H53 M49.66 92.75V95.64 M49.66 92.75H53 M49.66 95.64H53 M46.99 94.19V98.54 M46.99 94.19H49.66 M46.99 98.54H53 M44.51 88.4V96.37 M44.51 88.4H49.44 M44.51 96.37H46.99 M49.8 101.44V104.34 M49.8 101.44H53 M49.8 104.34H53 M43.61 92.38V102.89 M43.61 92.38H44.51 M43.61 102.89H49.8 M49.37 110.13V113.03 M49.37 110.13H53 M49.37 113.03H53 M47.46 107.24V111.58 M47.46 107.24H53 M47.46 111.58H49.37 M49.43 115.93V118.83 M49.43 115.93H53 M49.43 118.83H53 M47.68 117.38V121.73 M47.68 117.38H49.43 M47.68 121.73H53 M49.53 124.63V127.52 M49.53 124.63H53 M49.53 127.52H53 M44.74 119.55V126.08 M44.74 119.55H47.68 M44.74 126.08H49.53 M41.9 109.41V122.81 M41.9 109.41H47.46 M41.9 122.81H44.74 M39.3 97.64V116.11 M39.3 97.64H43.61 M39.3 116.11H41.9 M50.27 130.42V133.32 M50.27 130.42H53 M50.27 133.32H53 M48.28 131.87V136.22 M48.28 131.87H50.27 M48.28 136.22H53 M50.19 142.02V144.91 M50.19 142.02H53 M50.19 144.91H53 M48.63 143.46V147.81 M48.63 143.46H50.19 M48.63 147.81H53 M47.34 139.12V145.64 M47.34 139.12H53 M47.34 145.64H48.63 M43.8 134.05V142.38 M43.8 134.05H48.28 M43.8 142.38H47.34 M50.23 150.71V153.61 M50.23 150.71H53 M50.23 153.61H53 M48.27 152.16V156.51 M48.27 152.16H50.23 M48.27 156.51H53 M42.52 138.21V154.33 M42.52 138.21H43.8 M42.52 154.33H48.27 M50.04 162.3V165.2 M50.04 162.3H53 M50.04 165.2H53 M48.39 159.4V163.75 M48.39 159.4H53 M48.39 163.75H50.04 M49.63 168.1V171 M49.63 168.1H53 M49.63 171H53 M45.4 161.58V169.55 M45.4 161.58H48.39 M45.4 169.55H49.63 M50.16 173.9V176.79 M50.16 173.9H53 M50.16 176.79H53 M44.32 165.56V175.34 M44.32 165.56H45.4 M44.32 175.34H50.16 M41.72 146.27V170.45 M41.72 146.27H42.52 M41.72 170.45H44.32 M50.28 179.69V182.59 M50.28 179.69H53 M50.28 182.59H53 M49.63 185.49V188.39 M49.63 185.49H53 M49.63 188.39H53 M49.93 191.28V194.18 M49.93 191.28H53 M49.93 194.18H53 M47.06 186.94V192.73 M47.06 186.94H49.63 M47.06 192.73H49.93 M44.94 181.14V189.84 M44.94 181.14H50.28 M44.94 189.84H47.06 M49.67 197.08V199.98 M49.67 197.08H53 M49.67 199.98H53 M50.21 205.78V208.67 M50.21 205.78H53 M50.21 208.67H53 M48.27 202.88V207.23 M48.27 202.88H53 M48.27 207.23H50.21 M50.24 211.57V214.47 M50.24 211.57H53 M50.24 214.47H53 M45.31 205.05V213.02 M45.31 205.05H48.27 M45.31 213.02H50.24 M44.08 198.53V209.04 M44.08 198.53H49.67 M44.08 209.04H45.31 M42.36 185.49V203.78 M42.36 185.49H44.94 M42.36 203.78H44.08 M38.08 158.36V194.64 M38.08 158.36H41.72 M38.08 194.64H42.36 M50.21 223.17V226.06 M50.21 223.17H53 M50.21 226.06H53 M48.69 220.27V224.61 M48.69 220.27H53 M48.69 224.61H50.21 M47.1 217.37V222.44 M47.1 217.37H53 M47.1 222.44H48.69 M50.11 228.96V231.86 M50.11 228.96H53 M50.11 231.86H53 M49.71 237.66V240.55 M49.71 237.66H53 M49.71 240.55H53 M48.3 234.76V239.11 M48.3 234.76H53 M48.3 239.11H49.71 M46.12 230.41V236.93 M46.12 230.41H50.11 M46.12 236.93H48.3 M49.97 243.45V246.35 M49.97 243.45H53 M49.97 246.35H53 M45.32 233.67V244.9 M45.32 233.67H46.12 M45.32 244.9H49.97 M43.11 219.9V239.29 M43.11 219.9H47.1 M43.11 239.29H45.32 M36.3 176.5V229.6 M36.3 176.5H38.08 M36.3 229.6H43.11 M31.6 106.87V203.05 M31.6 106.87H39.3 M31.6 203.05H36.3 M46 249.97V252.53 M46 249.97H53 M46 252.53H53 M47.05 256.32V259.38 M47.05 256.32H53 M47.05 259.38H53 M46.8 265.48V268.53 M46.8 265.48H53 M46.8 268.53H53 M44.27 267V271.58 M44.27 267H46.8 M44.27 271.58H53 M39.77 262.43V269.29 M39.77 262.43H53 M39.77 269.29H44.27 M35.3 257.85V265.86 M35.3 257.85H47.05 M35.3 265.86H39.77 M49.25 275.46V278.37 M49.25 275.46H53 M49.25 278.37H53 M48.9 281.29V284.2 M48.9 281.29H53 M48.9 284.2H53 M49.38 287.11V290.03 M49.38 287.11H53 M49.38 290.03H53 M44.81 282.74V288.57 M44.81 282.74H48.9 M44.81 288.57H49.38 M42.59 276.91V285.66 M42.59 276.91H49.25 M42.59 285.66H44.81 M48.88 292.94V295.86 M48.88 292.94H53 M48.88 295.86H53 M46.22 294.4V298.77 M46.22 294.4H48.88 M46.22 298.77H53 M39.46 281.29V296.59 M39.46 281.29H42.59 M39.46 296.59H46.22 M49.54 304.6V307.51 M49.54 304.6H53 M49.54 307.51H53 M46.86 301.69V306.06 M46.86 301.69H53 M46.86 306.06H49.54 M48.97 310.43V313.34 M48.97 310.43H53 M48.97 313.34H53 M49.26 316.26V319.17 M49.26 316.26H53 M49.26 319.17H53 M46.22 317.71V322.09 M46.22 317.71H49.26 M46.22 322.09H53 M45.37 319.9V325 M45.37 319.9H46.22 M45.37 325H53 M43.51 311.89V322.45 M43.51 311.89H48.97 M43.51 322.45H45.37 M40.11 303.87V317.17 M40.11 303.87H46.86 M40.11 317.17H43.51 M38.6 288.94V310.52 M38.6 288.94H39.46 M38.6 310.52H40.11 M49.16 327.91V330.83 M49.16 327.91H53 M49.16 330.83H53 M46.34 329.37V333.74 M46.34 329.37H49.16 M46.34 333.74H53 M49 339.57V342.49 M49 339.57H53 M49 342.49H53 M46.47 336.66V341.03 M46.47 336.66H53 M46.47 341.03H49 M43.68 331.56V338.84 M43.68 331.56H46.34 M43.68 338.84H46.47 M48.89 345.4V348.31 M48.89 345.4H53 M48.89 348.31H53 M48.76 351.23V354.14 M48.76 351.23H53 M48.76 354.14H53 M49.42 357.06V359.97 M49.42 357.06H53 M49.42 359.97H53 M45.46 352.69V358.51 M45.46 352.69H48.76 M45.46 358.51H49.42 M43.44 355.6V362.89 M43.44 355.6H45.46 M43.44 362.89H53 M42.22 346.86V359.24 M42.22 346.86H48.89 M42.22 359.24H43.44 M48.86 368.71V371.63 M48.86 368.71H53 M48.86 371.63H53 M46.68 365.8V370.17 M46.68 365.8H53 M46.68 370.17H48.86 M45.88 367.99V374.54 M45.88 367.99H46.68 M45.88 374.54H53 M38.98 353.05V371.26 M38.98 353.05H42.22 M38.98 371.26H45.88 M38.18 335.2V362.16 M38.18 335.2H43.68 M38.18 362.16H38.98 M31 299.73V348.68 M31 299.73H38.6 M31 348.68H38.18 M48.12 378.35V381.25 M48.12 378.35H53 M48.12 381.25H53 M48.83 387.05V389.95 M48.83 387.05H53 M48.83 389.95H53 M45.49 384.15V388.5 M45.49 384.15H53 M45.49 388.5H48.83 M44.29 386.32V392.85 M44.29 386.32H45.49 M44.29 392.85H53 M48.84 395.75V398.65 M48.84 395.75H53 M48.84 398.65H53 M41.63 389.59V397.2 M41.63 389.59H44.29 M41.63 397.2H48.84 M40.83 379.8V393.39 M40.83 379.8H48.12 M40.83 393.39H41.63 M48.5 404.45V407.35 M48.5 404.45H53 M48.5 407.35H53 M46.22 401.55V405.9 M46.22 401.55H53 M46.22 405.9H48.5 M44.89 403.73V410.25 M44.89 403.73H46.22 M44.89 410.25H53 M48.56 413.15V416.05 M48.56 413.15H53 M48.56 416.05H53 M45.99 414.6V418.95 M45.99 414.6H48.56 M45.99 418.95H53 M44.32 416.77V421.85 M44.32 416.77H45.99 M44.32 421.85H53 M40.45 406.99V419.31 M40.45 406.99H44.89 M40.45 419.31H44.32 M35.91 386.6V413.15 M35.91 386.6H40.83 M35.91 413.15H40.45 M48.36 427.65V430.55 M48.36 427.65H53 M48.36 430.55H53 M46.51 424.75V429.1 M46.51 424.75H53 M46.51 429.1H48.36 M45.14 426.93V433.45 M45.14 426.93H46.51 M45.14 433.45H53 M48.83 436.35V439.25 M48.83 436.35H53 M48.83 439.25H53 M46.61 437.8V442.15 M46.61 437.8H48.83 M46.61 442.15H53 M44.05 439.98V445.05 M44.05 439.98H46.61 M44.05 445.05H53 M48.52 447.95V450.85 M48.52 447.95H53 M48.52 450.85H53 M48.18 453.75V456.65 M48.18 453.75H53 M48.18 456.65H53 M43.63 449.4V455.2 M43.63 449.4H48.52 M43.63 455.2H48.18 M40.26 442.51V452.3 M40.26 442.51H44.05 M40.26 452.3H43.63 M37.37 430.19V447.41 M37.37 430.19H45.14 M37.37 447.41H40.26 M29.4 399.87V438.8 M29.4 399.87H35.91 M29.4 438.8H37.37 M45.44 460.66V463.78 M45.44 460.66H53 M45.44 463.78H53 M41.5 462.22V466.9 M41.5 462.22H45.44 M41.5 466.9H53 M45.7 470.02V473.14 M45.7 470.02H53 M45.7 473.14H53 M34.3 464.56V471.58 M34.3 464.56H41.5 M34.3 471.58H45.7 M49.47 477.02V479.87 M49.47 477.02H53 M49.47 479.87H53 M49.85 488.4V491.25 M49.85 488.4H53 M49.85 491.25H53 M47.94 485.56V489.83 M47.94 485.56H53 M47.94 489.83H49.85 M45.5 482.71V487.69 M45.5 482.71H53 M45.5 487.69H47.94 M43.1 478.45V485.2 M43.1 478.45H49.47 M43.1 485.2H45.5 M49.84 494.1V496.94 M49.84 494.1H53 M49.84 496.94H53 M42.08 481.82V495.52 M42.08 481.82H43.1 M42.08 495.52H49.84 M49.78 499.79V502.63 M49.78 499.79H53 M49.78 502.63H53 M47.13 501.21V505.48 M47.13 501.21H49.78 M47.13 505.48H53 M39.6 488.67V503.34 M39.6 488.67H42.08 M39.6 503.34H47.13 M47.85 509.32V512.15 M47.85 509.32H53 M47.85 512.15H53 M48.39 517.83V520.66 M48.39 517.83H53 M48.39 520.66H53 M45.03 514.99V519.24 M45.03 514.99H53 M45.03 519.24H48.39 M43.67 517.12V523.5 M43.67 517.12H45.03 M43.67 523.5H53 M40.87 510.74V520.31 M40.87 510.74H47.85 M40.87 520.31H43.67 M48.49 526.33V529.17 M48.49 526.33H53 M48.49 529.17H53 M40.07 515.52V527.75 M40.07 515.52H40.87 M40.07 527.75H48.49 M48.38 532V534.84 M48.38 532H53 M48.38 534.84H53 M48.49 537.67V540.51 M48.49 537.67H53 M48.49 540.51H53 M44.64 533.42V539.09 M44.64 533.42H48.38 M44.64 539.09H48.49 M48.31 543.35V546.18 M48.31 543.35H53 M48.31 546.18H53 M41.39 536.26V544.76 M41.39 536.26H44.64 M41.39 544.76H48.31 M33.2 521.64V540.51 M33.2 521.64H40.07 M33.2 540.51H41.39 M22 21.28V59.44 M22 21.28H33.8 M22 59.44H28.8 M29 251.25V261.85 M29 251.25H46 M29 261.85H35.3 M20.6 154.96V256.55 M20.6 154.96H31.6 M20.6 256.55H29 M18.6 324.2V419.34 M18.6 324.2H31 M18.6 419.34H29.4 M26.8 496.01V531.07 M26.8 496.01H39.6 M26.8 531.07H33.2 M16.7 468.07V513.54 M16.7 468.07H34.3 M16.7 513.54H26.8 M14.7 40.36V490.81 M14.7 40.36H22 M14.7 205.76H20.6 M14.7 371.77H18.6 M14.7 490.81H16.7" stroke="#111" stroke-width="0.85" fill="none"/>
<text x="53.4" y="552.9" font-size="7.6" text-anchor="middle" fill="#222" dominant-baseline="central" >cluster</text>
<text x="75.5" y="552.9" font-size="7.6" text-anchor="middle" fill="#222" dominant-baseline="central" >R0</text>
<text x="101.3" y="552.9" font-size="7.6" text-anchor="middle" fill="#222" dominant-baseline="central" >R1</text>
<text x="123.1" y="552.9" font-size="7.6" text-anchor="middle" fill="#222" dominant-baseline="central" >S0</text>
<text x="146.9" y="552.9" font-size="7.6" text-anchor="middle" fill="#222" dominant-baseline="central" >S1</text>
<defs><linearGradient id="cb" x1="0" y1="0" x2="0" y2="1"><stop offset="0" stop-color="#ee2a2a"/><stop offset="0.5" stop-color="#ffffff"/><stop offset="1" stop-color="#3a44ae"/></linearGradient></defs>
<rect x="193.8" y="18.4" width="9.1" height="95.4" fill="url(#cb)"/>
<text x="206.3" y="18.6" font-size="6.5" text-anchor="start" fill="#222" dominant-baseline="central" >2</text>
<text x="206.3" y="42.3" font-size="6.5" text-anchor="start" fill="#222" dominant-baseline="central" >1</text>
<text x="206.3" y="66" font-size="6.5" text-anchor="start" fill="#222" dominant-baseline="central" >0</text>
<text x="206.3" y="89.7" font-size="6.5" text-anchor="start" fill="#222" dominant-baseline="central" >−1</text>
<text x="206.3" y="113.3" font-size="6.5" text-anchor="start" fill="#222" dominant-baseline="central" >−2</text>
<text x="196" y="127.5" font-size="6.9" text-anchor="start" fill="#222" dominant-baseline="central" font-weight="bold">cluster</text>
<rect x="193" y="133.4" width="8" height="7.12" fill="#E8242A"/>
<text x="203.3" y="136.7" font-size="6.6" text-anchor="start" fill="#333" dominant-baseline="central" >cluster 1</text>
<rect x="193" y="140.52" width="8" height="7.12" fill="#F7941D"/>
<text x="203.3" y="143.82" font-size="6.6" text-anchor="start" fill="#333" dominant-baseline="central" >cluster 2</text>
<rect x="193" y="147.64" width="8" height="7.12" fill="#C8D92E"/>
<text x="203.3" y="150.94" font-size="6.6" text-anchor="start" fill="#333" dominant-baseline="central" >cluster 3</text>
<rect x="193" y="154.76" width="8" height="7.12" fill="#6CBD45"/>
<text x="203.3" y="158.06" font-size="6.6" text-anchor="start" fill="#333" dominant-baseline="central" >cluster 4</text>
<rect x="193" y="161.88" width="8" height="7.12" fill="#2B6416"/>
<text x="203.3" y="165.18" font-size="6.6" text-anchor="start" fill="#333" dominant-baseline="central" >cluster 5</text>
<rect x="193" y="169" width="8" height="7.12" fill="#5DC9DD"/>
<text x="203.3" y="172.3" font-size="6.6" text-anchor="start" fill="#333" dominant-baseline="central" >cluster 6</text>
<rect x="193" y="176.12" width="8" height="7.12" fill="#4E8FE5"/>
<text x="203.3" y="179.42" font-size="6.6" text-anchor="start" fill="#333" dominant-baseline="central" >cluster 7</text>
<rect x="193" y="183.24" width="8" height="7.12" fill="#3F4DA6"/>
<text x="203.3" y="186.54" font-size="6.6" text-anchor="start" fill="#333" dominant-baseline="central" >cluster 8</text>
<rect x="193" y="190.36" width="8" height="7.12" fill="#8E4DA8"/>
<text x="203.3" y="193.66" font-size="6.6" text-anchor="start" fill="#333" dominant-baseline="central" >cluster 9</text>
<rect x="193" y="197.48" width="8" height="7.12" fill="#E8208C"/>
<text x="203.3" y="200.78" font-size="6.6" text-anchor="start" fill="#333" dominant-baseline="central" >cluster 10</text>
<rect x="273.4" y="27.3" width="82" height="46.3" fill="#ebebeb"/>
<line x1="273.4" x2="355.4" y1="31.78" y2="31.78" stroke="#f6f6f6" stroke-width="0.5"/>
<line x1="273.4" x2="355.4" y1="39.25" y2="39.25" stroke="#f6f6f6" stroke-width="0.5"/>
<line x1="273.4" x2="355.4" y1="46.72" y2="46.72" stroke="#f6f6f6" stroke-width="0.5"/>
<line x1="273.4" x2="355.4" y1="54.18" y2="54.18" stroke="#f6f6f6" stroke-width="0.5"/>
<line x1="273.4" x2="355.4" y1="61.65" y2="61.65" stroke="#f6f6f6" stroke-width="0.5"/>
<line x1="273.4" x2="355.4" y1="69.12" y2="69.12" stroke="#f6f6f6" stroke-width="0.5"/>
<line x1="273.4" x2="355.4" y1="28.05" y2="28.05" stroke="#fff" stroke-width="0.9"/>
<line x1="273.4" x2="355.4" y1="35.51" y2="35.51" stroke="#fff" stroke-width="0.9"/>
<line x1="273.4" x2="355.4" y1="42.98" y2="42.98" stroke="#fff" stroke-width="0.9"/>
<line x1="273.4" x2="355.4" y1="50.45" y2="50.45" stroke="#fff" stroke-width="0.9"/>
<line x1="273.4" x2="355.4" y1="57.92" y2="57.92" stroke="#fff" stroke-width="0.9"/>
<line x1="273.4" x2="355.4" y1="65.39" y2="65.39" stroke="#fff" stroke-width="0.9"/>
<line x1="273.4" x2="355.4" y1="72.85" y2="72.85" stroke="#fff" stroke-width="0.9"/>
<line x1="285.4" x2="285.4" y1="27.3" y2="73.6" stroke="#fff" stroke-width="0.9"/>
<line x1="304.4" x2="304.4" y1="27.3" y2="73.6" stroke="#fff" stroke-width="0.9"/>
<line x1="324.3" x2="324.3" y1="27.3" y2="73.6" stroke="#fff" stroke-width="0.9"/>
<line x1="343.3" x2="343.3" y1="27.3" y2="73.6" stroke="#fff" stroke-width="0.9"/>
<rect x="273.4" y="27.3" width="82" height="46.3" fill="none" stroke="#7a7a7a" stroke-width="0.8"/>
<polyline points="285.4,35.96 304.4,42.98 324.3,61.2 343.3,62.4" fill="none" stroke="#1a1a1a" stroke-width="0.9"/>
<rect x="355.8" y="27.9" width="15.2" height="45.1" fill="#d9d9d9"/>
<text x="0" y="0" font-size="8.3" fill="#1a1a1a" text-anchor="middle" dominant-baseline="central" transform="translate(363,50.45) rotate(90)">cluster 1</text>
<line x1="271.6" x2="273.4" y1="28.05" y2="28.05" stroke="#555" stroke-width="0.6"/>
<text x="268.2" y="28.05" font-size="8.0" text-anchor="end" fill="#4d4d4d" dominant-baseline="central" >1.5</text>
<line x1="271.6" x2="273.4" y1="35.51" y2="35.51" stroke="#555" stroke-width="0.6"/>
<text x="268.2" y="35.51" font-size="8.0" text-anchor="end" fill="#4d4d4d" dominant-baseline="central" >1.0</text>
<line x1="271.6" x2="273.4" y1="42.98" y2="42.98" stroke="#555" stroke-width="0.6"/>
<text x="268.2" y="42.98" font-size="8.0" text-anchor="end" fill="#4d4d4d" dominant-baseline="central" >0.5</text>
<line x1="271.6" x2="273.4" y1="50.45" y2="50.45" stroke="#555" stroke-width="0.6"/>
<text x="268.2" y="50.45" font-size="8.0" text-anchor="end" fill="#4d4d4d" dominant-baseline="central" >0.0</text>
<line x1="271.6" x2="273.4" y1="57.92" y2="57.92" stroke="#555" stroke-width="0.6"/>
<text x="268.2" y="57.92" font-size="8.0" text-anchor="end" fill="#4d4d4d" dominant-baseline="central" >−0.5</text>
<line x1="271.6" x2="273.4" y1="65.39" y2="65.39" stroke="#555" stroke-width="0.6"/>
<text x="268.2" y="65.39" font-size="8.0" text-anchor="end" fill="#4d4d4d" dominant-baseline="central" >−1.0</text>
<line x1="271.6" x2="273.4" y1="72.85" y2="72.85" stroke="#555" stroke-width="0.6"/>
<text x="268.2" y="72.85" font-size="8.0" text-anchor="end" fill="#4d4d4d" dominant-baseline="central" >−1.5</text>
<rect x="273.4" y="79.2" width="82" height="45.1" fill="#ebebeb"/>
<line x1="273.4" x2="355.4" y1="83.56" y2="83.56" stroke="#f6f6f6" stroke-width="0.5"/>
<line x1="273.4" x2="355.4" y1="90.84" y2="90.84" stroke="#f6f6f6" stroke-width="0.5"/>
<line x1="273.4" x2="355.4" y1="98.11" y2="98.11" stroke="#f6f6f6" stroke-width="0.5"/>
<line x1="273.4" x2="355.4" y1="105.39" y2="105.39" stroke="#f6f6f6" stroke-width="0.5"/>
<line x1="273.4" x2="355.4" y1="112.66" y2="112.66" stroke="#f6f6f6" stroke-width="0.5"/>
<line x1="273.4" x2="355.4" y1="119.94" y2="119.94" stroke="#f6f6f6" stroke-width="0.5"/>
<line x1="273.4" x2="355.4" y1="79.93" y2="79.93" stroke="#fff" stroke-width="0.9"/>
<line x1="273.4" x2="355.4" y1="87.2" y2="87.2" stroke="#fff" stroke-width="0.9"/>
<line x1="273.4" x2="355.4" y1="94.48" y2="94.48" stroke="#fff" stroke-width="0.9"/>
<line x1="273.4" x2="355.4" y1="101.75" y2="101.75" stroke="#fff" stroke-width="0.9"/>
<line x1="273.4" x2="355.4" y1="109.02" y2="109.02" stroke="#fff" stroke-width="0.9"/>
<line x1="273.4" x2="355.4" y1="116.3" y2="116.3" stroke="#fff" stroke-width="0.9"/>
<line x1="273.4" x2="355.4" y1="123.57" y2="123.57" stroke="#fff" stroke-width="0.9"/>
<line x1="285.4" x2="285.4" y1="79.2" y2="124.3" stroke="#fff" stroke-width="0.9"/>
<line x1="304.4" x2="304.4" y1="79.2" y2="124.3" stroke="#fff" stroke-width="0.9"/>
<line x1="324.3" x2="324.3" y1="79.2" y2="124.3" stroke="#fff" stroke-width="0.9"/>
<line x1="343.3" x2="343.3" y1="79.2" y2="124.3" stroke="#fff" stroke-width="0.9"/>
<rect x="273.4" y="79.2" width="82" height="45.1" fill="none" stroke="#7a7a7a" stroke-width="0.8"/>
<polyline points="285.4,94.48 304.4,122.41 324.3,96.95 343.3,93.75" fill="none" stroke="#1a1a1a" stroke-width="0.9"/>
<rect x="355.8" y="79.8" width="15.2" height="43.9" fill="#d9d9d9"/>
<text x="0" y="0" font-size="8.3" fill="#1a1a1a" text-anchor="middle" dominant-baseline="central" transform="translate(363,101.75) rotate(90)">cluster 2</text>
<line x1="271.6" x2="273.4" y1="79.93" y2="79.93" stroke="#555" stroke-width="0.6"/>
<text x="268.2" y="79.93" font-size="8.0" text-anchor="end" fill="#4d4d4d" dominant-baseline="central" >1.5</text>
<line x1="271.6" x2="273.4" y1="87.2" y2="87.2" stroke="#555" stroke-width="0.6"/>
<text x="268.2" y="87.2" font-size="8.0" text-anchor="end" fill="#4d4d4d" dominant-baseline="central" >1.0</text>
<line x1="271.6" x2="273.4" y1="94.48" y2="94.48" stroke="#555" stroke-width="0.6"/>
<text x="268.2" y="94.48" font-size="8.0" text-anchor="end" fill="#4d4d4d" dominant-baseline="central" >0.5</text>
<line x1="271.6" x2="273.4" y1="101.75" y2="101.75" stroke="#555" stroke-width="0.6"/>
<text x="268.2" y="101.75" font-size="8.0" text-anchor="end" fill="#4d4d4d" dominant-baseline="central" >0.0</text>
<line x1="271.6" x2="273.4" y1="109.02" y2="109.02" stroke="#555" stroke-width="0.6"/>
<text x="268.2" y="109.02" font-size="8.0" text-anchor="end" fill="#4d4d4d" dominant-baseline="central" >−0.5</text>
<line x1="271.6" x2="273.4" y1="116.3" y2="116.3" stroke="#555" stroke-width="0.6"/>
<text x="268.2" y="116.3" font-size="8.0" text-anchor="end" fill="#4d4d4d" dominant-baseline="central" >−1.0</text>
<line x1="271.6" x2="273.4" y1="123.57" y2="123.57" stroke="#555" stroke-width="0.6"/>
<text x="268.2" y="123.57" font-size="8.0" text-anchor="end" fill="#4d4d4d" dominant-baseline="central" >−1.5</text>
<rect x="273.4" y="130.4" width="82" height="44.9" fill="#ebebeb"/>
<line x1="273.4" x2="355.4" y1="134.75" y2="134.75" stroke="#f6f6f6" stroke-width="0.5"/>
<line x1="273.4" x2="355.4" y1="141.99" y2="141.99" stroke="#f6f6f6" stroke-width="0.5"/>
<line x1="273.4" x2="355.4" y1="149.23" y2="149.23" stroke="#f6f6f6" stroke-width="0.5"/>
<line x1="273.4" x2="355.4" y1="156.47" y2="156.47" stroke="#f6f6f6" stroke-width="0.5"/>
<line x1="273.4" x2="355.4" y1="163.71" y2="163.71" stroke="#f6f6f6" stroke-width="0.5"/>
<line x1="273.4" x2="355.4" y1="170.95" y2="170.95" stroke="#f6f6f6" stroke-width="0.5"/>
<line x1="273.4" x2="355.4" y1="131.12" y2="131.12" stroke="#fff" stroke-width="0.9"/>
<line x1="273.4" x2="355.4" y1="138.37" y2="138.37" stroke="#fff" stroke-width="0.9"/>
<line x1="273.4" x2="355.4" y1="145.61" y2="145.61" stroke="#fff" stroke-width="0.9"/>
<line x1="273.4" x2="355.4" y1="152.85" y2="152.85" stroke="#fff" stroke-width="0.9"/>
<line x1="273.4" x2="355.4" y1="160.09" y2="160.09" stroke="#fff" stroke-width="0.9"/>
<line x1="273.4" x2="355.4" y1="167.33" y2="167.33" stroke="#fff" stroke-width="0.9"/>
<line x1="273.4" x2="355.4" y1="174.58" y2="174.58" stroke="#fff" stroke-width="0.9"/>
<line x1="285.4" x2="285.4" y1="130.4" y2="175.3" stroke="#fff" stroke-width="0.9"/>
<line x1="304.4" x2="304.4" y1="130.4" y2="175.3" stroke="#fff" stroke-width="0.9"/>
<line x1="324.3" x2="324.3" y1="130.4" y2="175.3" stroke="#fff" stroke-width="0.9"/>
<line x1="343.3" x2="343.3" y1="130.4" y2="175.3" stroke="#fff" stroke-width="0.9"/>
<rect x="273.4" y="130.4" width="82" height="44.9" fill="none" stroke="#7a7a7a" stroke-width="0.8"/>
<polyline points="285.4,166.18 304.4,135.47 324.3,158.64 343.3,151.4" fill="none" stroke="#1a1a1a" stroke-width="0.9"/>
<rect x="355.8" y="131" width="15.2" height="43.7" fill="#d9d9d9"/>
<text x="0" y="0" font-size="8.3" fill="#1a1a1a" text-anchor="middle" dominant-baseline="central" transform="translate(363,152.85) rotate(90)">cluster 3</text>
<line x1="271.6" x2="273.4" y1="131.12" y2="131.12" stroke="#555" stroke-width="0.6"/>
<text x="268.2" y="131.12" font-size="8.0" text-anchor="end" fill="#4d4d4d" dominant-baseline="central" >1.5</text>
<line x1="271.6" x2="273.4" y1="138.37" y2="138.37" stroke="#555" stroke-width="0.6"/>
<text x="268.2" y="138.37" font-size="8.0" text-anchor="end" fill="#4d4d4d" dominant-baseline="central" >1.0</text>
<line x1="271.6" x2="273.4" y1="145.61" y2="145.61" stroke="#555" stroke-width="0.6"/>
<text x="268.2" y="145.61" font-size="8.0" text-anchor="end" fill="#4d4d4d" dominant-baseline="central" >0.5</text>
<line x1="271.6" x2="273.4" y1="152.85" y2="152.85" stroke="#555" stroke-width="0.6"/>
<text x="268.2" y="152.85" font-size="8.0" text-anchor="end" fill="#4d4d4d" dominant-baseline="central" >0.0</text>
<line x1="271.6" x2="273.4" y1="160.09" y2="160.09" stroke="#555" stroke-width="0.6"/>
<text x="268.2" y="160.09" font-size="8.0" text-anchor="end" fill="#4d4d4d" dominant-baseline="central" >−0.5</text>
<line x1="271.6" x2="273.4" y1="167.33" y2="167.33" stroke="#555" stroke-width="0.6"/>
<text x="268.2" y="167.33" font-size="8.0" text-anchor="end" fill="#4d4d4d" dominant-baseline="central" >−1.0</text>
<line x1="271.6" x2="273.4" y1="174.58" y2="174.58" stroke="#555" stroke-width="0.6"/>
<text x="268.2" y="174.58" font-size="8.0" text-anchor="end" fill="#4d4d4d" dominant-baseline="central" >−1.5</text>
<rect x="273.4" y="181.4" width="82" height="44.9" fill="#ebebeb"/>
<line x1="273.4" x2="355.4" y1="185.75" y2="185.75" stroke="#f6f6f6" stroke-width="0.5"/>
<line x1="273.4" x2="355.4" y1="192.99" y2="192.99" stroke="#f6f6f6" stroke-width="0.5"/>
<line x1="273.4" x2="355.4" y1="200.23" y2="200.23" stroke="#f6f6f6" stroke-width="0.5"/>
<line x1="273.4" x2="355.4" y1="207.47" y2="207.47" stroke="#f6f6f6" stroke-width="0.5"/>
<line x1="273.4" x2="355.4" y1="214.71" y2="214.71" stroke="#f6f6f6" stroke-width="0.5"/>
<line x1="273.4" x2="355.4" y1="221.95" y2="221.95" stroke="#f6f6f6" stroke-width="0.5"/>
<line x1="273.4" x2="355.4" y1="182.12" y2="182.12" stroke="#fff" stroke-width="0.9"/>
<line x1="273.4" x2="355.4" y1="189.37" y2="189.37" stroke="#fff" stroke-width="0.9"/>
<line x1="273.4" x2="355.4" y1="196.61" y2="196.61" stroke="#fff" stroke-width="0.9"/>
<line x1="273.4" x2="355.4" y1="203.85" y2="203.85" stroke="#fff" stroke-width="0.9"/>
<line x1="273.4" x2="355.4" y1="211.09" y2="211.09" stroke="#fff" stroke-width="0.9"/>
<line x1="273.4" x2="355.4" y1="218.33" y2="218.33" stroke="#fff" stroke-width="0.9"/>
<line x1="273.4" x2="355.4" y1="225.58" y2="225.58" stroke="#fff" stroke-width="0.9"/>
<line x1="285.4" x2="285.4" y1="181.4" y2="226.3" stroke="#fff" stroke-width="0.9"/>
<line x1="304.4" x2="304.4" y1="181.4" y2="226.3" stroke="#fff" stroke-width="0.9"/>
<line x1="324.3" x2="324.3" y1="181.4" y2="226.3" stroke="#fff" stroke-width="0.9"/>
<line x1="343.3" x2="343.3" y1="181.4" y2="226.3" stroke="#fff" stroke-width="0.9"/>
<rect x="273.4" y="181.4" width="82" height="44.9" fill="none" stroke="#7a7a7a" stroke-width="0.8"/>
<polyline points="285.4,213.7 304.4,208.2 324.3,209.64 343.3,183.28" fill="none" stroke="#1a1a1a" stroke-width="0.9"/>
<rect x="355.8" y="182" width="15.2" height="43.7" fill="#d9d9d9"/>
<text x="0" y="0" font-size="8.3" fill="#1a1a1a" text-anchor="middle" dominant-baseline="central" transform="translate(363,203.85) rotate(90)">cluster 4</text>
<line x1="271.6" x2="273.4" y1="182.12" y2="182.12" stroke="#555" stroke-width="0.6"/>
<text x="268.2" y="182.12" font-size="8.0" text-anchor="end" fill="#4d4d4d" dominant-baseline="central" >1.5</text>
<line x1="271.6" x2="273.4" y1="189.37" y2="189.37" stroke="#555" stroke-width="0.6"/>
<text x="268.2" y="189.37" font-size="8.0" text-anchor="end" fill="#4d4d4d" dominant-baseline="central" >1.0</text>
<line x1="271.6" x2="273.4" y1="196.61" y2="196.61" stroke="#555" stroke-width="0.6"/>
<text x="268.2" y="196.61" font-size="8.0" text-anchor="end" fill="#4d4d4d" dominant-baseline="central" >0.5</text>
<line x1="271.6" x2="273.4" y1="203.85" y2="203.85" stroke="#555" stroke-width="0.6"/>
<text x="268.2" y="203.85" font-size="8.0" text-anchor="end" fill="#4d4d4d" dominant-baseline="central" >0.0</text>
<line x1="271.6" x2="273.4" y1="211.09" y2="211.09" stroke="#555" stroke-width="0.6"/>
<text x="268.2" y="211.09" font-size="8.0" text-anchor="end" fill="#4d4d4d" dominant-baseline="central" >−0.5</text>
<line x1="271.6" x2="273.4" y1="218.33" y2="218.33" stroke="#555" stroke-width="0.6"/>
<text x="268.2" y="218.33" font-size="8.0" text-anchor="end" fill="#4d4d4d" dominant-baseline="central" >−1.0</text>
<line x1="271.6" x2="273.4" y1="225.58" y2="225.58" stroke="#555" stroke-width="0.6"/>
<text x="268.2" y="225.58" font-size="8.0" text-anchor="end" fill="#4d4d4d" dominant-baseline="central" >−1.5</text>
<rect x="273.4" y="232.4" width="82" height="44.9" fill="#ebebeb"/>
<line x1="273.4" x2="355.4" y1="236.75" y2="236.75" stroke="#f6f6f6" stroke-width="0.5"/>
<line x1="273.4" x2="355.4" y1="243.99" y2="243.99" stroke="#f6f6f6" stroke-width="0.5"/>
<line x1="273.4" x2="355.4" y1="251.23" y2="251.23" stroke="#f6f6f6" stroke-width="0.5"/>
<line x1="273.4" x2="355.4" y1="258.47" y2="258.47" stroke="#f6f6f6" stroke-width="0.5"/>
<line x1="273.4" x2="355.4" y1="265.71" y2="265.71" stroke="#f6f6f6" stroke-width="0.5"/>
<line x1="273.4" x2="355.4" y1="272.95" y2="272.95" stroke="#f6f6f6" stroke-width="0.5"/>
<line x1="273.4" x2="355.4" y1="233.12" y2="233.12" stroke="#fff" stroke-width="0.9"/>
<line x1="273.4" x2="355.4" y1="240.37" y2="240.37" stroke="#fff" stroke-width="0.9"/>
<line x1="273.4" x2="355.4" y1="247.61" y2="247.61" stroke="#fff" stroke-width="0.9"/>
<line x1="273.4" x2="355.4" y1="254.85" y2="254.85" stroke="#fff" stroke-width="0.9"/>
<line x1="273.4" x2="355.4" y1="262.09" y2="262.09" stroke="#fff" stroke-width="0.9"/>
<line x1="273.4" x2="355.4" y1="269.33" y2="269.33" stroke="#fff" stroke-width="0.9"/>
<line x1="273.4" x2="355.4" y1="276.58" y2="276.58" stroke="#fff" stroke-width="0.9"/>
<line x1="285.4" x2="285.4" y1="232.4" y2="277.3" stroke="#fff" stroke-width="0.9"/>
<line x1="304.4" x2="304.4" y1="232.4" y2="277.3" stroke="#fff" stroke-width="0.9"/>
<line x1="324.3" x2="324.3" y1="232.4" y2="277.3" stroke="#fff" stroke-width="0.9"/>
<line x1="343.3" x2="343.3" y1="232.4" y2="277.3" stroke="#fff" stroke-width="0.9"/>
<rect x="273.4" y="232.4" width="82" height="44.9" fill="none" stroke="#7a7a7a" stroke-width="0.8"/>
<polyline points="285.4,264.26 304.4,267.16 324.3,240.37 343.3,247.61" fill="none" stroke="#1a1a1a" stroke-width="0.9"/>
<rect x="355.8" y="233" width="15.2" height="43.7" fill="#d9d9d9"/>
<text x="0" y="0" font-size="8.3" fill="#1a1a1a" text-anchor="middle" dominant-baseline="central" transform="translate(363,254.85) rotate(90)">cluster 5</text>
<line x1="271.6" x2="273.4" y1="233.12" y2="233.12" stroke="#555" stroke-width="0.6"/>
<text x="268.2" y="233.12" font-size="8.0" text-anchor="end" fill="#4d4d4d" dominant-baseline="central" >1.5</text>
<line x1="271.6" x2="273.4" y1="240.37" y2="240.37" stroke="#555" stroke-width="0.6"/>
<text x="268.2" y="240.37" font-size="8.0" text-anchor="end" fill="#4d4d4d" dominant-baseline="central" >1.0</text>
<line x1="271.6" x2="273.4" y1="247.61" y2="247.61" stroke="#555" stroke-width="0.6"/>
<text x="268.2" y="247.61" font-size="8.0" text-anchor="end" fill="#4d4d4d" dominant-baseline="central" >0.5</text>
<line x1="271.6" x2="273.4" y1="254.85" y2="254.85" stroke="#555" stroke-width="0.6"/>
<text x="268.2" y="254.85" font-size="8.0" text-anchor="end" fill="#4d4d4d" dominant-baseline="central" >0.0</text>
<line x1="271.6" x2="273.4" y1="262.09" y2="262.09" stroke="#555" stroke-width="0.6"/>
<text x="268.2" y="262.09" font-size="8.0" text-anchor="end" fill="#4d4d4d" dominant-baseline="central" >−0.5</text>
<line x1="271.6" x2="273.4" y1="269.33" y2="269.33" stroke="#555" stroke-width="0.6"/>
<text x="268.2" y="269.33" font-size="8.0" text-anchor="end" fill="#4d4d4d" dominant-baseline="central" >−1.0</text>
<line x1="271.6" x2="273.4" y1="276.58" y2="276.58" stroke="#555" stroke-width="0.6"/>
<text x="268.2" y="276.58" font-size="8.0" text-anchor="end" fill="#4d4d4d" dominant-baseline="central" >−1.5</text>
<rect x="273.4" y="283.4" width="82" height="44.9" fill="#ebebeb"/>
<line x1="273.4" x2="355.4" y1="287.75" y2="287.75" stroke="#f6f6f6" stroke-width="0.5"/>
<line x1="273.4" x2="355.4" y1="294.99" y2="294.99" stroke="#f6f6f6" stroke-width="0.5"/>
<line x1="273.4" x2="355.4" y1="302.23" y2="302.23" stroke="#f6f6f6" stroke-width="0.5"/>
<line x1="273.4" x2="355.4" y1="309.47" y2="309.47" stroke="#f6f6f6" stroke-width="0.5"/>
<line x1="273.4" x2="355.4" y1="316.71" y2="316.71" stroke="#f6f6f6" stroke-width="0.5"/>
<line x1="273.4" x2="355.4" y1="323.95" y2="323.95" stroke="#f6f6f6" stroke-width="0.5"/>
<line x1="273.4" x2="355.4" y1="284.12" y2="284.12" stroke="#fff" stroke-width="0.9"/>
<line x1="273.4" x2="355.4" y1="291.37" y2="291.37" stroke="#fff" stroke-width="0.9"/>
<line x1="273.4" x2="355.4" y1="298.61" y2="298.61" stroke="#fff" stroke-width="0.9"/>
<line x1="273.4" x2="355.4" y1="305.85" y2="305.85" stroke="#fff" stroke-width="0.9"/>
<line x1="273.4" x2="355.4" y1="313.09" y2="313.09" stroke="#fff" stroke-width="0.9"/>
<line x1="273.4" x2="355.4" y1="320.33" y2="320.33" stroke="#fff" stroke-width="0.9"/>
<line x1="273.4" x2="355.4" y1="327.58" y2="327.58" stroke="#fff" stroke-width="0.9"/>
<line x1="285.4" x2="285.4" y1="283.4" y2="328.3" stroke="#fff" stroke-width="0.9"/>
<line x1="304.4" x2="304.4" y1="283.4" y2="328.3" stroke="#fff" stroke-width="0.9"/>
<line x1="324.3" x2="324.3" y1="283.4" y2="328.3" stroke="#fff" stroke-width="0.9"/>
<line x1="343.3" x2="343.3" y1="283.4" y2="328.3" stroke="#fff" stroke-width="0.9"/>
<rect x="273.4" y="283.4" width="82" height="44.9" fill="none" stroke="#7a7a7a" stroke-width="0.8"/>
<polyline points="285.4,306.57 304.4,294.26 324.3,325.84 343.3,296.44" fill="none" stroke="#1a1a1a" stroke-width="0.9"/>
<rect x="355.8" y="284" width="15.2" height="43.7" fill="#d9d9d9"/>
<text x="0" y="0" font-size="8.3" fill="#1a1a1a" text-anchor="middle" dominant-baseline="central" transform="translate(363,305.85) rotate(90)">cluster 6</text>
<line x1="271.6" x2="273.4" y1="284.12" y2="284.12" stroke="#555" stroke-width="0.6"/>
<text x="268.2" y="284.12" font-size="8.0" text-anchor="end" fill="#4d4d4d" dominant-baseline="central" >1.5</text>
<line x1="271.6" x2="273.4" y1="291.37" y2="291.37" stroke="#555" stroke-width="0.6"/>
<text x="268.2" y="291.37" font-size="8.0" text-anchor="end" fill="#4d4d4d" dominant-baseline="central" >1.0</text>
<line x1="271.6" x2="273.4" y1="298.61" y2="298.61" stroke="#555" stroke-width="0.6"/>
<text x="268.2" y="298.61" font-size="8.0" text-anchor="end" fill="#4d4d4d" dominant-baseline="central" >0.5</text>
<line x1="271.6" x2="273.4" y1="305.85" y2="305.85" stroke="#555" stroke-width="0.6"/>
<text x="268.2" y="305.85" font-size="8.0" text-anchor="end" fill="#4d4d4d" dominant-baseline="central" >0.0</text>
<line x1="271.6" x2="273.4" y1="313.09" y2="313.09" stroke="#555" stroke-width="0.6"/>
<text x="268.2" y="313.09" font-size="8.0" text-anchor="end" fill="#4d4d4d" dominant-baseline="central" >−0.5</text>
<line x1="271.6" x2="273.4" y1="320.33" y2="320.33" stroke="#555" stroke-width="0.6"/>
<text x="268.2" y="320.33" font-size="8.0" text-anchor="end" fill="#4d4d4d" dominant-baseline="central" >−1.0</text>
<line x1="271.6" x2="273.4" y1="327.58" y2="327.58" stroke="#555" stroke-width="0.6"/>
<text x="268.2" y="327.58" font-size="8.0" text-anchor="end" fill="#4d4d4d" dominant-baseline="central" >−1.5</text>
<rect x="273.4" y="334.3" width="82" height="44.8" fill="#ebebeb"/>
<line x1="273.4" x2="355.4" y1="338.64" y2="338.64" stroke="#f6f6f6" stroke-width="0.5"/>
<line x1="273.4" x2="355.4" y1="345.86" y2="345.86" stroke="#f6f6f6" stroke-width="0.5"/>
<line x1="273.4" x2="355.4" y1="353.09" y2="353.09" stroke="#f6f6f6" stroke-width="0.5"/>
<line x1="273.4" x2="355.4" y1="360.31" y2="360.31" stroke="#f6f6f6" stroke-width="0.5"/>
<line x1="273.4" x2="355.4" y1="367.54" y2="367.54" stroke="#f6f6f6" stroke-width="0.5"/>
<line x1="273.4" x2="355.4" y1="374.76" y2="374.76" stroke="#f6f6f6" stroke-width="0.5"/>
<line x1="273.4" x2="355.4" y1="335.02" y2="335.02" stroke="#fff" stroke-width="0.9"/>
<line x1="273.4" x2="355.4" y1="342.25" y2="342.25" stroke="#fff" stroke-width="0.9"/>
<line x1="273.4" x2="355.4" y1="349.47" y2="349.47" stroke="#fff" stroke-width="0.9"/>
<line x1="273.4" x2="355.4" y1="356.7" y2="356.7" stroke="#fff" stroke-width="0.9"/>
<line x1="273.4" x2="355.4" y1="363.93" y2="363.93" stroke="#fff" stroke-width="0.9"/>
<line x1="273.4" x2="355.4" y1="371.15" y2="371.15" stroke="#fff" stroke-width="0.9"/>
<line x1="273.4" x2="355.4" y1="378.38" y2="378.38" stroke="#fff" stroke-width="0.9"/>
<line x1="285.4" x2="285.4" y1="334.3" y2="379.1" stroke="#fff" stroke-width="0.9"/>
<line x1="304.4" x2="304.4" y1="334.3" y2="379.1" stroke="#fff" stroke-width="0.9"/>
<line x1="324.3" x2="324.3" y1="334.3" y2="379.1" stroke="#fff" stroke-width="0.9"/>
<line x1="343.3" x2="343.3" y1="334.3" y2="379.1" stroke="#fff" stroke-width="0.9"/>
<rect x="273.4" y="334.3" width="82" height="44.8" fill="none" stroke="#7a7a7a" stroke-width="0.8"/>
<polyline points="285.4,362.19 304.4,340.8 324.3,352.36 343.3,371.15" fill="none" stroke="#1a1a1a" stroke-width="0.9"/>
<rect x="355.8" y="334.9" width="15.2" height="43.6" fill="#d9d9d9"/>
<text x="0" y="0" font-size="8.3" fill="#1a1a1a" text-anchor="middle" dominant-baseline="central" transform="translate(363,356.7) rotate(90)">cluster 7</text>
<line x1="271.6" x2="273.4" y1="335.02" y2="335.02" stroke="#555" stroke-width="0.6"/>
<text x="268.2" y="335.02" font-size="8.0" text-anchor="end" fill="#4d4d4d" dominant-baseline="central" >1.5</text>
<line x1="271.6" x2="273.4" y1="342.25" y2="342.25" stroke="#555" stroke-width="0.6"/>
<text x="268.2" y="342.25" font-size="8.0" text-anchor="end" fill="#4d4d4d" dominant-baseline="central" >1.0</text>
<line x1="271.6" x2="273.4" y1="349.47" y2="349.47" stroke="#555" stroke-width="0.6"/>
<text x="268.2" y="349.47" font-size="8.0" text-anchor="end" fill="#4d4d4d" dominant-baseline="central" >0.5</text>
<line x1="271.6" x2="273.4" y1="356.7" y2="356.7" stroke="#555" stroke-width="0.6"/>
<text x="268.2" y="356.7" font-size="8.0" text-anchor="end" fill="#4d4d4d" dominant-baseline="central" >0.0</text>
<line x1="271.6" x2="273.4" y1="363.93" y2="363.93" stroke="#555" stroke-width="0.6"/>
<text x="268.2" y="363.93" font-size="8.0" text-anchor="end" fill="#4d4d4d" dominant-baseline="central" >−0.5</text>
<line x1="271.6" x2="273.4" y1="371.15" y2="371.15" stroke="#555" stroke-width="0.6"/>
<text x="268.2" y="371.15" font-size="8.0" text-anchor="end" fill="#4d4d4d" dominant-baseline="central" >−1.0</text>
<line x1="271.6" x2="273.4" y1="378.38" y2="378.38" stroke="#555" stroke-width="0.6"/>
<text x="268.2" y="378.38" font-size="8.0" text-anchor="end" fill="#4d4d4d" dominant-baseline="central" >−1.5</text>
<rect x="273.4" y="385.3" width="82" height="44.8" fill="#ebebeb"/>
<line x1="273.4" x2="355.4" y1="389.64" y2="389.64" stroke="#f6f6f6" stroke-width="0.5"/>
<line x1="273.4" x2="355.4" y1="396.86" y2="396.86" stroke="#f6f6f6" stroke-width="0.5"/>
<line x1="273.4" x2="355.4" y1="404.09" y2="404.09" stroke="#f6f6f6" stroke-width="0.5"/>
<line x1="273.4" x2="355.4" y1="411.31" y2="411.31" stroke="#f6f6f6" stroke-width="0.5"/>
<line x1="273.4" x2="355.4" y1="418.54" y2="418.54" stroke="#f6f6f6" stroke-width="0.5"/>
<line x1="273.4" x2="355.4" y1="425.76" y2="425.76" stroke="#f6f6f6" stroke-width="0.5"/>
<line x1="273.4" x2="355.4" y1="386.02" y2="386.02" stroke="#fff" stroke-width="0.9"/>
<line x1="273.4" x2="355.4" y1="393.25" y2="393.25" stroke="#fff" stroke-width="0.9"/>
<line x1="273.4" x2="355.4" y1="400.47" y2="400.47" stroke="#fff" stroke-width="0.9"/>
<line x1="273.4" x2="355.4" y1="407.7" y2="407.7" stroke="#fff" stroke-width="0.9"/>
<line x1="273.4" x2="355.4" y1="414.93" y2="414.93" stroke="#fff" stroke-width="0.9"/>
<line x1="273.4" x2="355.4" y1="422.15" y2="422.15" stroke="#fff" stroke-width="0.9"/>
<line x1="273.4" x2="355.4" y1="429.38" y2="429.38" stroke="#fff" stroke-width="0.9"/>
<line x1="285.4" x2="285.4" y1="385.3" y2="430.1" stroke="#fff" stroke-width="0.9"/>
<line x1="304.4" x2="304.4" y1="385.3" y2="430.1" stroke="#fff" stroke-width="0.9"/>
<line x1="324.3" x2="324.3" y1="385.3" y2="430.1" stroke="#fff" stroke-width="0.9"/>
<line x1="343.3" x2="343.3" y1="385.3" y2="430.1" stroke="#fff" stroke-width="0.9"/>
<rect x="273.4" y="385.3" width="82" height="44.8" fill="none" stroke="#7a7a7a" stroke-width="0.8"/>
<polyline points="285.4,398.31 304.4,407.7 324.3,397.58 343.3,427.21" fill="none" stroke="#1a1a1a" stroke-width="0.9"/>
<rect x="355.8" y="385.9" width="15.2" height="43.6" fill="#d9d9d9"/>
<text x="0" y="0" font-size="8.3" fill="#1a1a1a" text-anchor="middle" dominant-baseline="central" transform="translate(363,407.7) rotate(90)">cluster 8</text>
<line x1="271.6" x2="273.4" y1="386.02" y2="386.02" stroke="#555" stroke-width="0.6"/>
<text x="268.2" y="386.02" font-size="8.0" text-anchor="end" fill="#4d4d4d" dominant-baseline="central" >1.5</text>
<line x1="271.6" x2="273.4" y1="393.25" y2="393.25" stroke="#555" stroke-width="0.6"/>
<text x="268.2" y="393.25" font-size="8.0" text-anchor="end" fill="#4d4d4d" dominant-baseline="central" >1.0</text>
<line x1="271.6" x2="273.4" y1="400.47" y2="400.47" stroke="#555" stroke-width="0.6"/>
<text x="268.2" y="400.47" font-size="8.0" text-anchor="end" fill="#4d4d4d" dominant-baseline="central" >0.5</text>
<line x1="271.6" x2="273.4" y1="407.7" y2="407.7" stroke="#555" stroke-width="0.6"/>
<text x="268.2" y="407.7" font-size="8.0" text-anchor="end" fill="#4d4d4d" dominant-baseline="central" >0.0</text>
<line x1="271.6" x2="273.4" y1="414.93" y2="414.93" stroke="#555" stroke-width="0.6"/>
<text x="268.2" y="414.93" font-size="8.0" text-anchor="end" fill="#4d4d4d" dominant-baseline="central" >−0.5</text>
<line x1="271.6" x2="273.4" y1="422.15" y2="422.15" stroke="#555" stroke-width="0.6"/>
<text x="268.2" y="422.15" font-size="8.0" text-anchor="end" fill="#4d4d4d" dominant-baseline="central" >−1.0</text>
<line x1="271.6" x2="273.4" y1="429.38" y2="429.38" stroke="#555" stroke-width="0.6"/>
<text x="268.2" y="429.38" font-size="8.0" text-anchor="end" fill="#4d4d4d" dominant-baseline="central" >−1.5</text>
<rect x="273.4" y="436.3" width="82" height="45" fill="#ebebeb"/>
<line x1="273.4" x2="355.4" y1="440.65" y2="440.65" stroke="#f6f6f6" stroke-width="0.5"/>
<line x1="273.4" x2="355.4" y1="447.91" y2="447.91" stroke="#f6f6f6" stroke-width="0.5"/>
<line x1="273.4" x2="355.4" y1="455.17" y2="455.17" stroke="#f6f6f6" stroke-width="0.5"/>
<line x1="273.4" x2="355.4" y1="462.43" y2="462.43" stroke="#f6f6f6" stroke-width="0.5"/>
<line x1="273.4" x2="355.4" y1="469.69" y2="469.69" stroke="#f6f6f6" stroke-width="0.5"/>
<line x1="273.4" x2="355.4" y1="476.95" y2="476.95" stroke="#f6f6f6" stroke-width="0.5"/>
<line x1="273.4" x2="355.4" y1="437.03" y2="437.03" stroke="#fff" stroke-width="0.9"/>
<line x1="273.4" x2="355.4" y1="444.28" y2="444.28" stroke="#fff" stroke-width="0.9"/>
<line x1="273.4" x2="355.4" y1="451.54" y2="451.54" stroke="#fff" stroke-width="0.9"/>
<line x1="273.4" x2="355.4" y1="458.8" y2="458.8" stroke="#fff" stroke-width="0.9"/>
<line x1="273.4" x2="355.4" y1="466.06" y2="466.06" stroke="#fff" stroke-width="0.9"/>
<line x1="273.4" x2="355.4" y1="473.32" y2="473.32" stroke="#fff" stroke-width="0.9"/>
<line x1="273.4" x2="355.4" y1="480.57" y2="480.57" stroke="#fff" stroke-width="0.9"/>
<line x1="285.4" x2="285.4" y1="436.3" y2="481.3" stroke="#fff" stroke-width="0.9"/>
<line x1="304.4" x2="304.4" y1="436.3" y2="481.3" stroke="#fff" stroke-width="0.9"/>
<line x1="324.3" x2="324.3" y1="436.3" y2="481.3" stroke="#fff" stroke-width="0.9"/>
<line x1="343.3" x2="343.3" y1="436.3" y2="481.3" stroke="#fff" stroke-width="0.9"/>
<rect x="273.4" y="436.3" width="82" height="45" fill="none" stroke="#7a7a7a" stroke-width="0.8"/>
<polyline points="285.4,451.25 304.4,469.69 324.3,443.56 343.3,471.14" fill="none" stroke="#1a1a1a" stroke-width="0.9"/>
<rect x="355.8" y="436.9" width="15.2" height="43.8" fill="#d9d9d9"/>
<text x="0" y="0" font-size="8.3" fill="#1a1a1a" text-anchor="middle" dominant-baseline="central" transform="translate(363,458.8) rotate(90)">cluster 9</text>
<line x1="271.6" x2="273.4" y1="437.03" y2="437.03" stroke="#555" stroke-width="0.6"/>
<text x="268.2" y="437.03" font-size="8.0" text-anchor="end" fill="#4d4d4d" dominant-baseline="central" >1.5</text>
<line x1="271.6" x2="273.4" y1="444.28" y2="444.28" stroke="#555" stroke-width="0.6"/>
<text x="268.2" y="444.28" font-size="8.0" text-anchor="end" fill="#4d4d4d" dominant-baseline="central" >1.0</text>
<line x1="271.6" x2="273.4" y1="451.54" y2="451.54" stroke="#555" stroke-width="0.6"/>
<text x="268.2" y="451.54" font-size="8.0" text-anchor="end" fill="#4d4d4d" dominant-baseline="central" >0.5</text>
<line x1="271.6" x2="273.4" y1="458.8" y2="458.8" stroke="#555" stroke-width="0.6"/>
<text x="268.2" y="458.8" font-size="8.0" text-anchor="end" fill="#4d4d4d" dominant-baseline="central" >0.0</text>
<line x1="271.6" x2="273.4" y1="466.06" y2="466.06" stroke="#555" stroke-width="0.6"/>
<text x="268.2" y="466.06" font-size="8.0" text-anchor="end" fill="#4d4d4d" dominant-baseline="central" >−0.5</text>
<line x1="271.6" x2="273.4" y1="473.32" y2="473.32" stroke="#555" stroke-width="0.6"/>
<text x="268.2" y="473.32" font-size="8.0" text-anchor="end" fill="#4d4d4d" dominant-baseline="central" >−1.0</text>
<line x1="271.6" x2="273.4" y1="480.57" y2="480.57" stroke="#555" stroke-width="0.6"/>
<text x="268.2" y="480.57" font-size="8.0" text-anchor="end" fill="#4d4d4d" dominant-baseline="central" >−1.5</text>
<rect x="273.4" y="485.6" width="82" height="45.8" fill="#ebebeb"/>
<line x1="273.4" x2="355.4" y1="490.03" y2="490.03" stroke="#f6f6f6" stroke-width="0.5"/>
<line x1="273.4" x2="355.4" y1="497.42" y2="497.42" stroke="#f6f6f6" stroke-width="0.5"/>
<line x1="273.4" x2="355.4" y1="504.81" y2="504.81" stroke="#f6f6f6" stroke-width="0.5"/>
<line x1="273.4" x2="355.4" y1="512.19" y2="512.19" stroke="#f6f6f6" stroke-width="0.5"/>
<line x1="273.4" x2="355.4" y1="519.58" y2="519.58" stroke="#f6f6f6" stroke-width="0.5"/>
<line x1="273.4" x2="355.4" y1="526.97" y2="526.97" stroke="#f6f6f6" stroke-width="0.5"/>
<line x1="273.4" x2="355.4" y1="486.34" y2="486.34" stroke="#fff" stroke-width="0.9"/>
<line x1="273.4" x2="355.4" y1="493.73" y2="493.73" stroke="#fff" stroke-width="0.9"/>
<line x1="273.4" x2="355.4" y1="501.11" y2="501.11" stroke="#fff" stroke-width="0.9"/>
<line x1="273.4" x2="355.4" y1="508.5" y2="508.5" stroke="#fff" stroke-width="0.9"/>
<line x1="273.4" x2="355.4" y1="515.89" y2="515.89" stroke="#fff" stroke-width="0.9"/>
<line x1="273.4" x2="355.4" y1="523.27" y2="523.27" stroke="#fff" stroke-width="0.9"/>
<line x1="273.4" x2="355.4" y1="530.66" y2="530.66" stroke="#fff" stroke-width="0.9"/>
<line x1="285.4" x2="285.4" y1="485.6" y2="531.4" stroke="#fff" stroke-width="0.9"/>
<line x1="304.4" x2="304.4" y1="485.6" y2="531.4" stroke="#fff" stroke-width="0.9"/>
<line x1="324.3" x2="324.3" y1="485.6" y2="531.4" stroke="#fff" stroke-width="0.9"/>
<line x1="343.3" x2="343.3" y1="485.6" y2="531.4" stroke="#fff" stroke-width="0.9"/>
<rect x="273.4" y="485.6" width="82" height="45.8" fill="none" stroke="#7a7a7a" stroke-width="0.8"/>
<polyline points="285.4,503.33 304.4,514.41 324.3,524.01 343.3,492.25" fill="none" stroke="#1a1a1a" stroke-width="0.9"/>
<rect x="355.8" y="486.2" width="15.2" height="44.6" fill="#d9d9d9"/>
<text x="0" y="0" font-size="8.3" fill="#1a1a1a" text-anchor="middle" dominant-baseline="central" transform="translate(363,508.5) rotate(90)">cluster 10</text>
<line x1="271.6" x2="273.4" y1="486.34" y2="486.34" stroke="#555" stroke-width="0.6"/>
<text x="268.2" y="486.34" font-size="8.0" text-anchor="end" fill="#4d4d4d" dominant-baseline="central" >1.5</text>
<line x1="271.6" x2="273.4" y1="493.73" y2="493.73" stroke="#555" stroke-width="0.6"/>
<text x="268.2" y="493.73" font-size="8.0" text-anchor="end" fill="#4d4d4d" dominant-baseline="central" >1.0</text>
<line x1="271.6" x2="273.4" y1="501.11" y2="501.11" stroke="#555" stroke-width="0.6"/>
<text x="268.2" y="501.11" font-size="8.0" text-anchor="end" fill="#4d4d4d" dominant-baseline="central" >0.5</text>
<line x1="271.6" x2="273.4" y1="508.5" y2="508.5" stroke="#555" stroke-width="0.6"/>
<text x="268.2" y="508.5" font-size="8.0" text-anchor="end" fill="#4d4d4d" dominant-baseline="central" >0.0</text>
<line x1="271.6" x2="273.4" y1="515.89" y2="515.89" stroke="#555" stroke-width="0.6"/>
<text x="268.2" y="515.89" font-size="8.0" text-anchor="end" fill="#4d4d4d" dominant-baseline="central" >−0.5</text>
<line x1="271.6" x2="273.4" y1="523.27" y2="523.27" stroke="#555" stroke-width="0.6"/>
<text x="268.2" y="523.27" font-size="8.0" text-anchor="end" fill="#4d4d4d" dominant-baseline="central" >−1.0</text>
<line x1="271.6" x2="273.4" y1="530.66" y2="530.66" stroke="#555" stroke-width="0.6"/>
<text x="268.2" y="530.66" font-size="8.0" text-anchor="end" fill="#4d4d4d" dominant-baseline="central" >−1.5</text>
<line x1="285.4" x2="285.4" y1="531.4" y2="533.6" stroke="#555" stroke-width="0.6"/>
<text x="285.7" y="540.5" font-size="7.6" text-anchor="middle" fill="#4d4d4d" dominant-baseline="central" >R0</text>
<line x1="304.4" x2="304.4" y1="531.4" y2="533.6" stroke="#555" stroke-width="0.6"/>
<text x="304.7" y="540.5" font-size="7.6" text-anchor="middle" fill="#4d4d4d" dominant-baseline="central" >R1</text>
<line x1="324.3" x2="324.3" y1="531.4" y2="533.6" stroke="#555" stroke-width="0.6"/>
<text x="324.6" y="540.5" font-size="7.6" text-anchor="middle" fill="#4d4d4d" dominant-baseline="central" >S0</text>
<line x1="343.3" x2="343.3" y1="531.4" y2="533.6" stroke="#555" stroke-width="0.6"/>
<text x="343.6" y="540.5" font-size="7.6" text-anchor="middle" fill="#4d4d4d" dominant-baseline="central" >S1</text>
<text x="0" y="0" font-size="10.2" fill="#1a1a1a" text-anchor="middle" dominant-baseline="central" transform="translate(241.2,278.6) rotate(-90)">expression_level</text>
<text x="5.8" y="18.6" font-size="13" text-anchor="start" fill="#222" dominant-baseline="central" >A</text>
<text x="235.1" y="19.5" font-size="13" text-anchor="start" fill="#222" dominant-baseline="central" >B</text>
<text x="381.2" y="19.6" font-size="13" text-anchor="start" fill="#222" dominant-baseline="central" >C</text>
<text x="382" y="298.9" font-size="13" text-anchor="start" fill="#222" dominant-baseline="central" >D</text>
<line x1="423.4" x2="425" y1="87.3" y2="87.3" stroke="#000" stroke-width="0.6"/>
<text x="420" y="87.3" font-size="5.7" text-anchor="end" fill="#222" dominant-baseline="central" >0</text>
<line x1="423.4" x2="425" y1="74" y2="74" stroke="#000" stroke-width="0.6"/>
<text x="420" y="74" font-size="5.7" text-anchor="end" fill="#222" dominant-baseline="central" >0.002</text>
<line x1="423.4" x2="425" y1="60.7" y2="60.7" stroke="#000" stroke-width="0.6"/>
<text x="420" y="60.7" font-size="5.7" text-anchor="end" fill="#222" dominant-baseline="central" >0.004</text>
<line x1="423.4" x2="425" y1="47.4" y2="47.4" stroke="#000" stroke-width="0.6"/>
<text x="420" y="47.4" font-size="5.7" text-anchor="end" fill="#222" dominant-baseline="central" >0.006</text>
<line x1="423.4" x2="425" y1="34.1" y2="34.1" stroke="#000" stroke-width="0.6"/>
<text x="420" y="34.1" font-size="5.7" text-anchor="end" fill="#222" dominant-baseline="central" >0.008</text>
<rect x="430.9" y="57.8" width="5.6" height="29.5" fill="#a6a6a6"/>
<path d="M433.7 57.8V44M432.4 44H435" stroke="#a6a6a6" stroke-width="0.55" fill="none"/>
<rect x="437.3" y="71.8" width="5.3" height="15.5" fill="#000"/>
<path d="M439.95 71.8V69M438.65 69H441.25" stroke="#000" stroke-width="0.55" fill="none"/>
<rect x="453.9" y="75.8" width="5.1" height="11.5" fill="#a6a6a6"/>
<path d="M456.45 75.8V74.2M455.15 74.2H457.75" stroke="#a6a6a6" stroke-width="0.55" fill="none"/>
<rect x="460.6" y="77.7" width="5.1" height="9.6" fill="#000"/>
<path d="M463.15 77.7V75.8M461.85 75.8H464.45" stroke="#000" stroke-width="0.55" fill="none"/>
<path d="M425 33.6V87.3H471.8" stroke="#000" stroke-width="1.1" fill="none"/>
<line x1="436.75" x2="436.75" y1="87.3" y2="88.8" stroke="#000" stroke-width="0.6"/>
<line x1="459.8" x2="459.8" y1="87.3" y2="88.8" stroke="#000" stroke-width="0.6"/>
<text x="436.75" y="93.7" font-size="5.7" text-anchor="middle" fill="#222" dominant-baseline="central" >E31</text>
<text x="459.8" y="93.7" font-size="5.7" text-anchor="middle" fill="#222" dominant-baseline="central" >E32</text>
<text x="451.8" y="22.8" font-size="7.5" text-anchor="middle" dominant-baseline="central" font-style="italic" fill="#222">SmFBX19</text>
<line x1="493.3" x2="494.9" y1="87.3" y2="87.3" stroke="#000" stroke-width="0.6"/>
<text x="489.9" y="87.3" font-size="5.7" text-anchor="end" fill="#222" dominant-baseline="central" >0</text>
<line x1="493.3" x2="494.9" y1="76.66" y2="76.66" stroke="#000" stroke-width="0.6"/>
<text x="489.9" y="76.66" font-size="5.7" text-anchor="end" fill="#222" dominant-baseline="central" >0.002</text>
<line x1="493.3" x2="494.9" y1="66.02" y2="66.02" stroke="#000" stroke-width="0.6"/>
<text x="489.9" y="66.02" font-size="5.7" text-anchor="end" fill="#222" dominant-baseline="central" >0.004</text>
<line x1="493.3" x2="494.9" y1="55.38" y2="55.38" stroke="#000" stroke-width="0.6"/>
<text x="489.9" y="55.38" font-size="5.7" text-anchor="end" fill="#222" dominant-baseline="central" >0.006</text>
<line x1="493.3" x2="494.9" y1="44.74" y2="44.74" stroke="#000" stroke-width="0.6"/>
<text x="489.9" y="44.74" font-size="5.7" text-anchor="end" fill="#222" dominant-baseline="central" >0.008</text>
<line x1="493.3" x2="494.9" y1="34.1" y2="34.1" stroke="#000" stroke-width="0.6"/>
<text x="489.9" y="34.1" font-size="5.7" text-anchor="end" fill="#222" dominant-baseline="central" >0.01</text>
<rect x="500.8" y="56.5" width="5.3" height="30.8" fill="#a6a6a6"/>
<path d="M503.45 56.5V49.3M502.15 49.3H504.75" stroke="#a6a6a6" stroke-width="0.55" fill="none"/>
<rect x="507.4" y="50.9" width="5.1" height="36.4" fill="#000"/>
<path d="M509.95 50.9V45.6M508.65 45.6H511.25" stroke="#000" stroke-width="0.55" fill="none"/>
<rect x="524.2" y="56" width="5.2" height="31.3" fill="#a6a6a6"/>
<path d="M526.8 56V52.2M525.5 52.2H528.1" stroke="#a6a6a6" stroke-width="0.55" fill="none"/>
<rect x="531" y="64.9" width="5.1" height="22.4" fill="#000"/>
<path d="M533.55 64.9V63M532.25 63H534.85" stroke="#000" stroke-width="0.55" fill="none"/>
<path d="M494.9 33.6V87.3H542.2" stroke="#000" stroke-width="1.1" fill="none"/>
<line x1="506.65" x2="506.65" y1="87.3" y2="88.8" stroke="#000" stroke-width="0.6"/>
<line x1="530.15" x2="530.15" y1="87.3" y2="88.8" stroke="#000" stroke-width="0.6"/>
<text x="506.65" y="93.7" font-size="5.7" text-anchor="middle" fill="#222" dominant-baseline="central" >E31</text>
<text x="530.15" y="93.7" font-size="5.7" text-anchor="middle" fill="#222" dominant-baseline="central" >E32</text>
<text x="518.9" y="23.5" font-size="7.5" text-anchor="middle" dominant-baseline="central" font-style="italic" fill="#222">SmFBX23</text>
<path d="M533.5 57.8L533.5 55.45M533.5 57.8L535.73 57.07M533.5 57.8L534.88 59.7M533.5 57.8L532.12 59.7M533.5 57.8L531.27 57.07" stroke="#111" stroke-width="1.15" stroke-linecap="round" fill="none"/>
<line x1="561.3" x2="562.9" y1="87" y2="87" stroke="#000" stroke-width="0.6"/>
<text x="557.9" y="87" font-size="5.7" text-anchor="end" fill="#222" dominant-baseline="central" >0</text>
<line x1="561.3" x2="562.9" y1="73.47" y2="73.47" stroke="#000" stroke-width="0.6"/>
<text x="557.9" y="73.47" font-size="5.7" text-anchor="end" fill="#222" dominant-baseline="central" >0.01</text>
<line x1="561.3" x2="562.9" y1="59.95" y2="59.95" stroke="#000" stroke-width="0.6"/>
<text x="557.9" y="59.95" font-size="5.7" text-anchor="end" fill="#222" dominant-baseline="central" >0.02</text>
<line x1="561.3" x2="562.9" y1="46.42" y2="46.42" stroke="#000" stroke-width="0.6"/>
<text x="557.9" y="46.42" font-size="5.7" text-anchor="end" fill="#222" dominant-baseline="central" >0.03</text>
<line x1="561.3" x2="562.9" y1="32.9" y2="32.9" stroke="#000" stroke-width="0.6"/>
<text x="557.9" y="32.9" font-size="5.7" text-anchor="end" fill="#222" dominant-baseline="central" >0.04</text>
<rect x="568.9" y="49.8" width="5.1" height="37.2" fill="#a6a6a6"/>
<path d="M571.45 49.8V39.4M570.15 39.4H572.75" stroke="#a6a6a6" stroke-width="0.55" fill="none"/>
<rect x="575.3" y="59.4" width="5.3" height="27.6" fill="#000"/>
<path d="M577.95 59.4V54.1M576.65 54.1H579.25" stroke="#000" stroke-width="0.55" fill="none"/>
<rect x="592.1" y="65.8" width="4.9" height="21.2" fill="#a6a6a6"/>
<path d="M594.55 65.8V61.3M593.25 61.3H595.85" stroke="#a6a6a6" stroke-width="0.55" fill="none"/>
<rect x="598.6" y="67" width="5.3" height="20" fill="#000"/>
<path d="M601.25 67V64.2M599.95 64.2H602.55" stroke="#000" stroke-width="0.55" fill="none"/>
<path d="M562.9 32.4V87H609" stroke="#000" stroke-width="1.1" fill="none"/>
<line x1="574.75" x2="574.75" y1="87" y2="88.5" stroke="#000" stroke-width="0.6"/>
<line x1="598" x2="598" y1="87" y2="88.5" stroke="#000" stroke-width="0.6"/>
<text x="574.75" y="93.7" font-size="5.7" text-anchor="middle" fill="#222" dominant-baseline="central" >E31</text>
<text x="598" y="93.7" font-size="5.7" text-anchor="middle" fill="#222" dominant-baseline="central" >E32</text>
<text x="586.5" y="22.8" font-size="7.5" text-anchor="middle" dominant-baseline="central" font-style="italic" fill="#222">SmFBX28</text>
<line x1="637" x2="638.6" y1="87.3" y2="87.3" stroke="#000" stroke-width="0.6"/>
<text x="633.6" y="87.3" font-size="5.7" text-anchor="end" fill="#222" dominant-baseline="central" >0.0E+0</text>
<line x1="637" x2="638.6" y1="76.66" y2="76.66" stroke="#000" stroke-width="0.6"/>
<text x="633.6" y="76.66" font-size="5.7" text-anchor="end" fill="#222" dominant-baseline="central" >2.0E-5</text>
<line x1="637" x2="638.6" y1="66.02" y2="66.02" stroke="#000" stroke-width="0.6"/>
<text x="633.6" y="66.02" font-size="5.7" text-anchor="end" fill="#222" dominant-baseline="central" >4.0E-5</text>
<line x1="637" x2="638.6" y1="55.38" y2="55.38" stroke="#000" stroke-width="0.6"/>
<text x="633.6" y="55.38" font-size="5.7" text-anchor="end" fill="#222" dominant-baseline="central" >6.0E-5</text>
<line x1="637" x2="638.6" y1="44.74" y2="44.74" stroke="#000" stroke-width="0.6"/>
<text x="633.6" y="44.74" font-size="5.7" text-anchor="end" fill="#222" dominant-baseline="central" >8.0E-5</text>
<line x1="637" x2="638.6" y1="34.1" y2="34.1" stroke="#000" stroke-width="0.6"/>
<text x="633.6" y="34.1" font-size="5.7" text-anchor="end" fill="#222" dominant-baseline="central" >1.0E-4</text>
<rect x="644" y="48.8" width="5" height="38.5" fill="#a6a6a6"/>
<path d="M646.5 48.8V46.6M645.2 46.6H647.8" stroke="#a6a6a6" stroke-width="0.55" fill="none"/>
<rect x="650.6" y="77.4" width="5.1" height="9.9" fill="#000"/>
<path d="M653.15 77.4V74.2M651.85 74.2H654.45" stroke="#000" stroke-width="0.55" fill="none"/>
<rect x="667" y="77" width="5.2" height="10.3" fill="#a6a6a6"/>
<path d="M669.6 77V74.2M668.3 74.2H670.9" stroke="#a6a6a6" stroke-width="0.55" fill="none"/>
<rect x="674.2" y="55.2" width="5.1" height="32.1" fill="#000"/>
<path d="M676.75 55.2V43.7M675.45 43.7H678.05" stroke="#000" stroke-width="0.55" fill="none"/>
<path d="M638.6 33.6V87.3H685" stroke="#000" stroke-width="1.1" fill="none"/>
<line x1="649.85" x2="649.85" y1="87.3" y2="88.8" stroke="#000" stroke-width="0.6"/>
<line x1="673.15" x2="673.15" y1="87.3" y2="88.8" stroke="#000" stroke-width="0.6"/>
<text x="649.85" y="93.7" font-size="5.7" text-anchor="middle" fill="#222" dominant-baseline="central" >E31</text>
<text x="673.15" y="93.7" font-size="5.7" text-anchor="middle" fill="#222" dominant-baseline="central" >E32</text>
<text x="662.1" y="23.5" font-size="7.5" text-anchor="middle" dominant-baseline="central" font-style="italic" fill="#222">SmFBX48</text>
<path d="M650.65 69.3L650.65 66.95M650.65 69.3L652.88 68.57M650.65 69.3L652.03 71.2M650.65 69.3L649.27 71.2M650.65 69.3L648.42 68.57" stroke="#111" stroke-width="1.15" stroke-linecap="round" fill="none"/>
<path d="M657.25 69.3L657.25 66.95M657.25 69.3L659.48 68.57M657.25 69.3L658.63 71.2M657.25 69.3L655.87 71.2M657.25 69.3L655.02 68.57" stroke="#111" stroke-width="1.15" stroke-linecap="round" fill="none"/>
<line x1="706" x2="707.6" y1="87" y2="87" stroke="#000" stroke-width="0.6"/>
<text x="702.6" y="87" font-size="5.7" text-anchor="end" fill="#222" dominant-baseline="central" >0</text>
<line x1="706" x2="707.6" y1="73.17" y2="73.17" stroke="#000" stroke-width="0.6"/>
<text x="702.6" y="73.17" font-size="5.7" text-anchor="end" fill="#222" dominant-baseline="central" >0.005</text>
<line x1="706" x2="707.6" y1="59.35" y2="59.35" stroke="#000" stroke-width="0.6"/>
<text x="702.6" y="59.35" font-size="5.7" text-anchor="end" fill="#222" dominant-baseline="central" >0.01</text>
<line x1="706" x2="707.6" y1="45.53" y2="45.53" stroke="#000" stroke-width="0.6"/>
<text x="702.6" y="45.53" font-size="5.7" text-anchor="end" fill="#222" dominant-baseline="central" >0.015</text>
<line x1="706" x2="707.6" y1="31.7" y2="31.7" stroke="#000" stroke-width="0.6"/>
<text x="702.6" y="31.7" font-size="5.7" text-anchor="end" fill="#222" dominant-baseline="central" >0.02</text>
<rect x="713.2" y="60.6" width="5.3" height="26.4" fill="#a6a6a6"/>
<path d="M715.85 60.6V37.3M714.55 37.3H717.15" stroke="#a6a6a6" stroke-width="0.55" fill="none"/>
<rect x="719.8" y="71.8" width="5.2" height="15.2" fill="#000"/>
<path d="M722.4 71.8V64.3M721.1 64.3H723.7" stroke="#000" stroke-width="0.55" fill="none"/>
<rect x="736.5" y="82.7" width="5.3" height="4.3" fill="#a6a6a6"/>
<rect x="743.1" y="68.6" width="5.1" height="18.4" fill="#000"/>
<path d="M745.65 68.6V56.9M744.35 56.9H746.95" stroke="#000" stroke-width="0.55" fill="none"/>
<path d="M707.6 31.2V87H754.2" stroke="#000" stroke-width="1.1" fill="none"/>
<line x1="719.1" x2="719.1" y1="87" y2="88.5" stroke="#000" stroke-width="0.6"/>
<line x1="742.35" x2="742.35" y1="87" y2="88.5" stroke="#000" stroke-width="0.6"/>
<text x="719.1" y="93.7" font-size="5.7" text-anchor="middle" fill="#222" dominant-baseline="central" >E31</text>
<text x="742.35" y="93.7" font-size="5.7" text-anchor="middle" fill="#222" dominant-baseline="central" >E32</text>
<text x="733" y="22.5" font-size="7.5" text-anchor="middle" dominant-baseline="central" font-style="italic" fill="#222">SmFBX52</text>
<rect x="762.2" y="53.8" width="3.2" height="3.2" fill="#a6a6a6"/>
<rect x="762.2" y="63.8" width="3.2" height="3.2" fill="#000"/>
<text x="766.5" y="55.4" font-size="6.2" text-anchor="start" fill="#222" dominant-baseline="central" >CK</text>
<text x="766.5" y="65.4" font-size="6.2" text-anchor="start" fill="#222" dominant-baseline="central" >RS</text>
<text x="0" y="0" font-size="6.3" fill="#222" text-anchor="middle" dominant-baseline="central" transform="translate(398.2,58) rotate(-90)">Relative Expression</text>
<line x1="422.6" x2="424.2" y1="173.1" y2="173.1" stroke="#000" stroke-width="0.6"/>
<text x="419.2" y="173.1" font-size="5.7" text-anchor="end" fill="#222" dominant-baseline="central" >0</text>
<line x1="422.6" x2="424.2" y1="164.37" y2="164.37" stroke="#000" stroke-width="0.6"/>
<text x="419.2" y="164.37" font-size="5.7" text-anchor="end" fill="#222" dominant-baseline="central" >0.01</text>
<line x1="422.6" x2="424.2" y1="155.63" y2="155.63" stroke="#000" stroke-width="0.6"/>
<text x="419.2" y="155.63" font-size="5.7" text-anchor="end" fill="#222" dominant-baseline="central" >0.02</text>
<line x1="422.6" x2="424.2" y1="146.9" y2="146.9" stroke="#000" stroke-width="0.6"/>
<text x="419.2" y="146.9" font-size="5.7" text-anchor="end" fill="#222" dominant-baseline="central" >0.03</text>
<line x1="422.6" x2="424.2" y1="138.17" y2="138.17" stroke="#000" stroke-width="0.6"/>
<text x="419.2" y="138.17" font-size="5.7" text-anchor="end" fill="#222" dominant-baseline="central" >0.04</text>
<line x1="422.6" x2="424.2" y1="129.43" y2="129.43" stroke="#000" stroke-width="0.6"/>
<text x="419.2" y="129.43" font-size="5.7" text-anchor="end" fill="#222" dominant-baseline="central" >0.05</text>
<line x1="422.6" x2="424.2" y1="120.7" y2="120.7" stroke="#000" stroke-width="0.6"/>
<text x="419.2" y="120.7" font-size="5.7" text-anchor="end" fill="#222" dominant-baseline="central" >0.06</text>
<rect x="430.1" y="137" width="5.6" height="36.1" fill="#a6a6a6"/>
<path d="M432.9 137V127.4M431.6 127.4H434.2" stroke="#a6a6a6" stroke-width="0.55" fill="none"/>
<rect x="437" y="154.7" width="5.1" height="18.4" fill="#000"/>
<path d="M439.55 154.7V148.3M438.25 148.3H440.85" stroke="#000" stroke-width="0.55" fill="none"/>
<rect x="453.4" y="143.9" width="5.3" height="29.2" fill="#a6a6a6"/>
<path d="M456.05 143.9V142.5M454.75 142.5H457.35" stroke="#a6a6a6" stroke-width="0.55" fill="none"/>
<rect x="460.1" y="145.7" width="5.3" height="27.4" fill="#000"/>
<path d="M462.75 145.7V143.1M461.45 143.1H464.05" stroke="#000" stroke-width="0.55" fill="none"/>
<path d="M424.2 120.2V173.1H471.5" stroke="#000" stroke-width="1.1" fill="none"/>
<line x1="436.1" x2="436.1" y1="173.1" y2="174.6" stroke="#000" stroke-width="0.6"/>
<line x1="459.4" x2="459.4" y1="173.1" y2="174.6" stroke="#000" stroke-width="0.6"/>
<text x="436.1" y="179.2" font-size="5.7" text-anchor="middle" fill="#222" dominant-baseline="central" >E31</text>
<text x="459.4" y="179.2" font-size="5.7" text-anchor="middle" fill="#222" dominant-baseline="central" >E32</text>
<text x="450.6" y="108.6" font-size="7.5" text-anchor="middle" dominant-baseline="central" font-style="italic" fill="#222">SmFBX55</text>
<line x1="493.3" x2="494.9" y1="172.8" y2="172.8" stroke="#000" stroke-width="0.6"/>
<text x="489.9" y="172.8" font-size="5.7" text-anchor="end" fill="#222" dominant-baseline="central" >0</text>
<line x1="493.3" x2="494.9" y1="159.58" y2="159.58" stroke="#000" stroke-width="0.6"/>
<text x="489.9" y="159.58" font-size="5.7" text-anchor="end" fill="#222" dominant-baseline="central" >0.01</text>
<line x1="493.3" x2="494.9" y1="146.35" y2="146.35" stroke="#000" stroke-width="0.6"/>
<text x="489.9" y="146.35" font-size="5.7" text-anchor="end" fill="#222" dominant-baseline="central" >0.02</text>
<line x1="493.3" x2="494.9" y1="133.12" y2="133.12" stroke="#000" stroke-width="0.6"/>
<text x="489.9" y="133.12" font-size="5.7" text-anchor="end" fill="#222" dominant-baseline="central" >0.03</text>
<line x1="493.3" x2="494.9" y1="119.9" y2="119.9" stroke="#000" stroke-width="0.6"/>
<text x="489.9" y="119.9" font-size="5.7" text-anchor="end" fill="#222" dominant-baseline="central" >0.04</text>
<rect x="500.8" y="138" width="5.3" height="34.8" fill="#a6a6a6"/>
<path d="M503.45 138V126.3M502.15 126.3H504.75" stroke="#a6a6a6" stroke-width="0.55" fill="none"/>
<rect x="507.4" y="148" width="5.1" height="24.8" fill="#000"/>
<path d="M509.95 148V143.6M508.65 143.6H511.25" stroke="#000" stroke-width="0.55" fill="none"/>
<rect x="524.2" y="154" width="5.2" height="18.8" fill="#a6a6a6"/>
<path d="M526.8 154V149.9M525.5 149.9H528.1" stroke="#a6a6a6" stroke-width="0.55" fill="none"/>
<rect x="531" y="158.4" width="5.1" height="14.4" fill="#000"/>
<path d="M533.55 158.4V155.2M532.25 155.2H534.85" stroke="#000" stroke-width="0.55" fill="none"/>
<path d="M494.9 119.4V172.8H541.4" stroke="#000" stroke-width="1.1" fill="none"/>
<line x1="506.65" x2="506.65" y1="172.8" y2="174.3" stroke="#000" stroke-width="0.6"/>
<line x1="530.15" x2="530.15" y1="172.8" y2="174.3" stroke="#000" stroke-width="0.6"/>
<text x="506.65" y="179.2" font-size="5.7" text-anchor="middle" fill="#222" dominant-baseline="central" >E31</text>
<text x="530.15" y="179.2" font-size="5.7" text-anchor="middle" fill="#222" dominant-baseline="central" >E32</text>
<text x="520.5" y="109.5" font-size="7.5" text-anchor="middle" dominant-baseline="central" font-style="italic" fill="#222">SmFBX105</text>
<line x1="561.3" x2="562.9" y1="172.8" y2="172.8" stroke="#000" stroke-width="0.6"/>
<text x="557.9" y="172.8" font-size="5.7" text-anchor="end" fill="#222" dominant-baseline="central" >0</text>
<line x1="561.3" x2="562.9" y1="162.22" y2="162.22" stroke="#000" stroke-width="0.6"/>
<text x="557.9" y="162.22" font-size="5.7" text-anchor="end" fill="#222" dominant-baseline="central" >0.002</text>
<line x1="561.3" x2="562.9" y1="151.64" y2="151.64" stroke="#000" stroke-width="0.6"/>
<text x="557.9" y="151.64" font-size="5.7" text-anchor="end" fill="#222" dominant-baseline="central" >0.004</text>
<line x1="561.3" x2="562.9" y1="141.06" y2="141.06" stroke="#000" stroke-width="0.6"/>
<text x="557.9" y="141.06" font-size="5.7" text-anchor="end" fill="#222" dominant-baseline="central" >0.006</text>
<line x1="561.3" x2="562.9" y1="130.48" y2="130.48" stroke="#000" stroke-width="0.6"/>
<text x="557.9" y="130.48" font-size="5.7" text-anchor="end" fill="#222" dominant-baseline="central" >0.008</text>
<line x1="561.3" x2="562.9" y1="119.9" y2="119.9" stroke="#000" stroke-width="0.6"/>
<text x="557.9" y="119.9" font-size="5.7" text-anchor="end" fill="#222" dominant-baseline="central" >0.01</text>
<rect x="568.4" y="149.1" width="5.3" height="23.7" fill="#a6a6a6"/>
<path d="M571.05 149.1V145.5M569.75 145.5H572.35" stroke="#a6a6a6" stroke-width="0.55" fill="none"/>
<rect x="575" y="127.9" width="5.1" height="44.9" fill="#000"/>
<path d="M577.55 127.9V124.4M576.25 124.4H578.85" stroke="#000" stroke-width="0.55" fill="none"/>
<rect x="591.7" y="155.6" width="5.3" height="17.2" fill="#a6a6a6"/>
<path d="M594.35 155.6V150.4M593.05 150.4H595.65" stroke="#a6a6a6" stroke-width="0.55" fill="none"/>
<rect x="598.1" y="158" width="4.9" height="14.8" fill="#000"/>
<path d="M600.55 158V156.4M599.25 156.4H601.85" stroke="#000" stroke-width="0.55" fill="none"/>
<path d="M562.9 119.4V172.8H609" stroke="#000" stroke-width="1.1" fill="none"/>
<line x1="574.25" x2="574.25" y1="172.8" y2="174.3" stroke="#000" stroke-width="0.6"/>
<line x1="597.35" x2="597.35" y1="172.8" y2="174.3" stroke="#000" stroke-width="0.6"/>
<text x="574.25" y="179.2" font-size="5.7" text-anchor="middle" fill="#222" dominant-baseline="central" >E31</text>
<text x="597.35" y="179.2" font-size="5.7" text-anchor="middle" fill="#222" dominant-baseline="central" >E32</text>
<text x="584.9" y="109" font-size="7.5" text-anchor="middle" dominant-baseline="central" font-style="italic" fill="#222">SmFBX131</text>
<path d="M577.4 119.9L577.4 117.55M577.4 119.9L579.63 119.17M577.4 119.9L578.78 121.8M577.4 119.9L576.02 121.8M577.4 119.9L575.17 119.17" stroke="#111" stroke-width="1.15" stroke-linecap="round" fill="none"/>
<line x1="637" x2="638.6" y1="173.6" y2="173.6" stroke="#000" stroke-width="0.6"/>
<text x="633.6" y="173.6" font-size="5.7" text-anchor="end" fill="#222" dominant-baseline="central" >0.0E+0</text>
<line x1="637" x2="638.6" y1="162.54" y2="162.54" stroke="#000" stroke-width="0.6"/>
<text x="633.6" y="162.54" font-size="5.7" text-anchor="end" fill="#222" dominant-baseline="central" >2.0E-4</text>
<line x1="637" x2="638.6" y1="151.48" y2="151.48" stroke="#000" stroke-width="0.6"/>
<text x="633.6" y="151.48" font-size="5.7" text-anchor="end" fill="#222" dominant-baseline="central" >4.0E-4</text>
<line x1="637" x2="638.6" y1="140.42" y2="140.42" stroke="#000" stroke-width="0.6"/>
<text x="633.6" y="140.42" font-size="5.7" text-anchor="end" fill="#222" dominant-baseline="central" >6.0E-4</text>
<line x1="637" x2="638.6" y1="129.36" y2="129.36" stroke="#000" stroke-width="0.6"/>
<text x="633.6" y="129.36" font-size="5.7" text-anchor="end" fill="#222" dominant-baseline="central" >8.0E-4</text>
<line x1="637" x2="638.6" y1="118.3" y2="118.3" stroke="#000" stroke-width="0.6"/>
<text x="633.6" y="118.3" font-size="5.7" text-anchor="end" fill="#222" dominant-baseline="central" >1.0E-3</text>
<rect x="644" y="135.4" width="5" height="38.2" fill="#a6a6a6"/>
<path d="M646.5 135.4V122.3M645.2 122.3H647.8" stroke="#a6a6a6" stroke-width="0.55" fill="none"/>
<rect x="650.6" y="141.2" width="5.1" height="32.4" fill="#000"/>
<path d="M653.15 141.2V138M651.85 138H654.45" stroke="#000" stroke-width="0.55" fill="none"/>
<rect x="667" y="152.8" width="5.2" height="20.8" fill="#a6a6a6"/>
<path d="M669.6 152.8V148M668.3 148H670.9" stroke="#a6a6a6" stroke-width="0.55" fill="none"/>
<rect x="674.2" y="147.6" width="5.1" height="26" fill="#000"/>
<path d="M676.75 147.6V143.9M675.45 143.9H678.05" stroke="#000" stroke-width="0.55" fill="none"/>
<path d="M638.6 117.8V173.6H684.6" stroke="#000" stroke-width="1.1" fill="none"/>
<line x1="649.85" x2="649.85" y1="173.6" y2="175.1" stroke="#000" stroke-width="0.6"/>
<line x1="673.15" x2="673.15" y1="173.6" y2="175.1" stroke="#000" stroke-width="0.6"/>
<text x="649.85" y="179.2" font-size="5.7" text-anchor="middle" fill="#222" dominant-baseline="central" >E31</text>
<text x="673.15" y="179.2" font-size="5.7" text-anchor="middle" fill="#222" dominant-baseline="central" >E32</text>
<text x="665.8" y="109" font-size="7.5" text-anchor="middle" dominant-baseline="central" font-style="italic" fill="#222">SmFBX197</text>
<line x1="707" x2="708.6" y1="173.7" y2="173.7" stroke="#000" stroke-width="0.6"/>
<text x="703.6" y="173.7" font-size="5.7" text-anchor="end" fill="#222" dominant-baseline="central" >0</text>
<line x1="707" x2="708.6" y1="163" y2="163" stroke="#000" stroke-width="0.6"/>
<text x="703.6" y="163" font-size="5.7" text-anchor="end" fill="#222" dominant-baseline="central" >0.02</text>
<line x1="707" x2="708.6" y1="152.3" y2="152.3" stroke="#000" stroke-width="0.6"/>
<text x="703.6" y="152.3" font-size="5.7" text-anchor="end" fill="#222" dominant-baseline="central" >0.04</text>
<line x1="707" x2="708.6" y1="141.6" y2="141.6" stroke="#000" stroke-width="0.6"/>
<text x="703.6" y="141.6" font-size="5.7" text-anchor="end" fill="#222" dominant-baseline="central" >0.06</text>
<line x1="707" x2="708.6" y1="130.9" y2="130.9" stroke="#000" stroke-width="0.6"/>
<text x="703.6" y="130.9" font-size="5.7" text-anchor="end" fill="#222" dominant-baseline="central" >0.08</text>
<line x1="707" x2="708.6" y1="120.2" y2="120.2" stroke="#000" stroke-width="0.6"/>
<text x="703.6" y="120.2" font-size="5.7" text-anchor="end" fill="#222" dominant-baseline="central" >0.1</text>
<rect x="714" y="148" width="5" height="25.7" fill="#a6a6a6"/>
<path d="M716.5 148V143.2M715.2 143.2H717.8" stroke="#a6a6a6" stroke-width="0.55" fill="none"/>
<rect x="720.1" y="135.9" width="5.2" height="37.8" fill="#000"/>
<path d="M722.7 135.9V131.6M721.4 131.6H724" stroke="#000" stroke-width="0.55" fill="none"/>
<rect x="736.5" y="144.8" width="5.3" height="28.9" fill="#a6a6a6"/>
<path d="M739.15 144.8V143.5M737.85 143.5H740.45" stroke="#a6a6a6" stroke-width="0.55" fill="none"/>
<rect x="743.1" y="142.4" width="5.2" height="31.3" fill="#000"/>
<path d="M745.7 142.4V141.6M744.4 141.6H747" stroke="#000" stroke-width="0.55" fill="none"/>
<path d="M708.6 119.7V173.7H753.8" stroke="#000" stroke-width="1.1" fill="none"/>
<line x1="719.65" x2="719.65" y1="173.7" y2="175.2" stroke="#000" stroke-width="0.6"/>
<line x1="742.4" x2="742.4" y1="173.7" y2="175.2" stroke="#000" stroke-width="0.6"/>
<text x="719.65" y="179.2" font-size="5.7" text-anchor="middle" fill="#222" dominant-baseline="central" >E31</text>
<text x="742.4" y="179.2" font-size="5.7" text-anchor="middle" fill="#222" dominant-baseline="central" >E32</text>
<text x="734.3" y="111" font-size="7.5" text-anchor="middle" dominant-baseline="central" font-style="italic" fill="#222">SmFBX208</text>
<rect x="762.2" y="141.2" width="3.2" height="3.2" fill="#a6a6a6"/>
<rect x="762.2" y="151.2" width="3.2" height="3.2" fill="#000"/>
<text x="766.5" y="142.8" font-size="6.2" text-anchor="start" fill="#222" dominant-baseline="central" >CK</text>
<text x="766.5" y="152.8" font-size="6.2" text-anchor="start" fill="#222" dominant-baseline="central" >RS</text>
<text x="0" y="0" font-size="6.3" fill="#222" text-anchor="middle" dominant-baseline="central" transform="translate(398.5,146.3) rotate(-90)">Relative Expression</text>
<line x1="423.2" x2="424.8" y1="257.2" y2="257.2" stroke="#000" stroke-width="0.6"/>
<text x="419.8" y="257.2" font-size="5.7" text-anchor="end" fill="#222" dominant-baseline="central" >0</text>
<line x1="423.2" x2="424.8" y1="239.3" y2="239.3" stroke="#000" stroke-width="0.6"/>
<text x="419.8" y="239.3" font-size="5.7" text-anchor="end" fill="#222" dominant-baseline="central" >0.002</text>
<line x1="423.2" x2="424.8" y1="221.4" y2="221.4" stroke="#000" stroke-width="0.6"/>
<text x="419.8" y="221.4" font-size="5.7" text-anchor="end" fill="#222" dominant-baseline="central" >0.004</text>
<line x1="423.2" x2="424.8" y1="203.5" y2="203.5" stroke="#000" stroke-width="0.6"/>
<text x="419.8" y="203.5" font-size="5.7" text-anchor="end" fill="#222" dominant-baseline="central" >0.006</text>
<rect x="430.1" y="233.8" width="5.9" height="23.4" fill="#a6a6a6"/>
<path d="M433.05 233.8V233.1M431.75 233.1H434.35" stroke="#a6a6a6" stroke-width="0.55" fill="none"/>
<rect x="437.2" y="217.8" width="5" height="39.4" fill="#000"/>
<path d="M439.7 217.8V213.5M438.4 213.5H441" stroke="#000" stroke-width="0.55" fill="none"/>
<rect x="453.3" y="233.1" width="5.7" height="24.1" fill="#a6a6a6"/>
<path d="M456.15 233.1V231.1M454.85 231.1H457.45" stroke="#a6a6a6" stroke-width="0.55" fill="none"/>
<rect x="460" y="238.8" width="4.9" height="18.4" fill="#000"/>
<path d="M462.45 238.8V234.4M461.15 234.4H463.75" stroke="#000" stroke-width="0.55" fill="none"/>
<path d="M424.8 203V257.2H471.6" stroke="#000" stroke-width="1.1" fill="none"/>
<line x1="436.15" x2="436.15" y1="257.2" y2="258.7" stroke="#000" stroke-width="0.6"/>
<line x1="459.1" x2="459.1" y1="257.2" y2="258.7" stroke="#000" stroke-width="0.6"/>
<text x="436.15" y="263.8" font-size="5.7" text-anchor="middle" fill="#222" dominant-baseline="central" >E31</text>
<text x="459.1" y="263.8" font-size="5.7" text-anchor="middle" fill="#222" dominant-baseline="central" >E32</text>
<text x="450.6" y="193.9" font-size="7.5" text-anchor="middle" dominant-baseline="central" font-style="italic" fill="#222">SmFBX219</text>
<path d="M439.5 208.5L439.5 206.15M439.5 208.5L441.73 207.77M439.5 208.5L440.88 210.4M439.5 208.5L438.12 210.4M439.5 208.5L437.27 207.77" stroke="#111" stroke-width="1.15" stroke-linecap="round" fill="none"/>
<line x1="493" x2="494.6" y1="257.2" y2="257.2" stroke="#000" stroke-width="0.6"/>
<text x="489.6" y="257.2" font-size="5.7" text-anchor="end" fill="#222" dominant-baseline="central" >0</text>
<line x1="493" x2="494.6" y1="243.77" y2="243.77" stroke="#000" stroke-width="0.6"/>
<text x="489.6" y="243.77" font-size="5.7" text-anchor="end" fill="#222" dominant-baseline="central" >0.01</text>
<line x1="493" x2="494.6" y1="230.35" y2="230.35" stroke="#000" stroke-width="0.6"/>
<text x="489.6" y="230.35" font-size="5.7" text-anchor="end" fill="#222" dominant-baseline="central" >0.02</text>
<line x1="493" x2="494.6" y1="216.93" y2="216.93" stroke="#000" stroke-width="0.6"/>
<text x="489.6" y="216.93" font-size="5.7" text-anchor="end" fill="#222" dominant-baseline="central" >0.03</text>
<line x1="493" x2="494.6" y1="203.5" y2="203.5" stroke="#000" stroke-width="0.6"/>
<text x="489.6" y="203.5" font-size="5.7" text-anchor="end" fill="#222" dominant-baseline="central" >0.04</text>
<rect x="500.7" y="237.9" width="4.9" height="19.3" fill="#a6a6a6"/>
<path d="M503.15 237.9V234.4M501.85 234.4H504.45" stroke="#a6a6a6" stroke-width="0.55" fill="none"/>
<rect x="507.4" y="218.9" width="5.4" height="38.3" fill="#000"/>
<path d="M510.1 218.9V216.2M508.8 216.2H511.4" stroke="#000" stroke-width="0.55" fill="none"/>
<rect x="524.9" y="216.5" width="5.3" height="40.7" fill="#a6a6a6"/>
<path d="M527.55 216.5V214.2M526.25 214.2H528.85" stroke="#a6a6a6" stroke-width="0.55" fill="none"/>
<rect x="531.8" y="221.3" width="5.4" height="35.9" fill="#000"/>
<path d="M534.5 221.3V218.3M533.2 218.3H535.8" stroke="#000" stroke-width="0.55" fill="none"/>
<path d="M494.6 203V257.2H543.4" stroke="#000" stroke-width="1.1" fill="none"/>
<line x1="506.75" x2="506.75" y1="257.2" y2="258.7" stroke="#000" stroke-width="0.6"/>
<line x1="531.05" x2="531.05" y1="257.2" y2="258.7" stroke="#000" stroke-width="0.6"/>
<text x="506.75" y="263.8" font-size="5.7" text-anchor="middle" fill="#222" dominant-baseline="central" >E31</text>
<text x="531.05" y="263.8" font-size="5.7" text-anchor="middle" fill="#222" dominant-baseline="central" >E32</text>
<text x="519.5" y="193.9" font-size="7.5" text-anchor="middle" dominant-baseline="central" font-style="italic" fill="#222">SmFBX230</text>
<path d="M510 210.8L510 208.45M510 210.8L512.23 210.07M510 210.8L511.38 212.7M510 210.8L508.62 212.7M510 210.8L507.77 210.07" stroke="#111" stroke-width="1.15" stroke-linecap="round" fill="none"/>
<line x1="561.6" x2="563.2" y1="257.2" y2="257.2" stroke="#000" stroke-width="0.6"/>
<text x="558.2" y="257.2" font-size="5.7" text-anchor="end" fill="#222" dominant-baseline="central" >0</text>
<line x1="561.6" x2="563.2" y1="243.82" y2="243.82" stroke="#000" stroke-width="0.6"/>
<text x="558.2" y="243.82" font-size="5.7" text-anchor="end" fill="#222" dominant-baseline="central" >0.01</text>
<line x1="561.6" x2="563.2" y1="230.45" y2="230.45" stroke="#000" stroke-width="0.6"/>
<text x="558.2" y="230.45" font-size="5.7" text-anchor="end" fill="#222" dominant-baseline="central" >0.02</text>
<line x1="561.6" x2="563.2" y1="217.07" y2="217.07" stroke="#000" stroke-width="0.6"/>
<text x="558.2" y="217.07" font-size="5.7" text-anchor="end" fill="#222" dominant-baseline="central" >0.03</text>
<line x1="561.6" x2="563.2" y1="203.7" y2="203.7" stroke="#000" stroke-width="0.6"/>
<text x="558.2" y="203.7" font-size="5.7" text-anchor="end" fill="#222" dominant-baseline="central" >0.04</text>
<rect x="569" y="217.1" width="5.2" height="40.1" fill="#a6a6a6"/>
<path d="M571.6 217.1V212.4M570.3 212.4H572.9" stroke="#a6a6a6" stroke-width="0.55" fill="none"/>
<rect x="576" y="221.3" width="5" height="35.9" fill="#000"/>
<path d="M578.5 221.3V214.2M577.2 214.2H579.8" stroke="#000" stroke-width="0.55" fill="none"/>
<rect x="593.1" y="221" width="5.2" height="36.2" fill="#a6a6a6"/>
<rect x="600" y="214.2" width="5" height="43" fill="#000"/>
<path d="M602.5 214.2V211.5M601.2 211.5H603.8" stroke="#000" stroke-width="0.55" fill="none"/>
<path d="M563.2 203.2V257.2H611.3" stroke="#000" stroke-width="1.1" fill="none"/>
<line x1="575" x2="575" y1="257.2" y2="258.7" stroke="#000" stroke-width="0.6"/>
<line x1="599.05" x2="599.05" y1="257.2" y2="258.7" stroke="#000" stroke-width="0.6"/>
<text x="575" y="263.8" font-size="5.7" text-anchor="middle" fill="#222" dominant-baseline="central" >E31</text>
<text x="599.05" y="263.8" font-size="5.7" text-anchor="middle" fill="#222" dominant-baseline="central" >E32</text>
<text x="589.5" y="193.9" font-size="7.5" text-anchor="middle" dominant-baseline="central" font-style="italic" fill="#222">SmFBX275</text>
<path d="M598.5 206.7L598.5 204.35M598.5 206.7L600.73 205.97M598.5 206.7L599.88 208.6M598.5 206.7L597.12 208.6M598.5 206.7L596.27 205.97" stroke="#111" stroke-width="1.15" stroke-linecap="round" fill="none"/>
<path d="M605.1 206.7L605.1 204.35M605.1 206.7L607.33 205.97M605.1 206.7L606.48 208.6M605.1 206.7L603.72 208.6M605.1 206.7L602.87 205.97" stroke="#111" stroke-width="1.15" stroke-linecap="round" fill="none"/>
<line x1="636.6" x2="638.2" y1="257.5" y2="257.5" stroke="#000" stroke-width="0.6"/>
<text x="633.2" y="257.5" font-size="5.7" text-anchor="end" fill="#222" dominant-baseline="central" >0</text>
<line x1="636.6" x2="638.2" y1="244.15" y2="244.15" stroke="#000" stroke-width="0.6"/>
<text x="633.2" y="244.15" font-size="5.7" text-anchor="end" fill="#222" dominant-baseline="central" >0.02</text>
<line x1="636.6" x2="638.2" y1="230.8" y2="230.8" stroke="#000" stroke-width="0.6"/>
<text x="633.2" y="230.8" font-size="5.7" text-anchor="end" fill="#222" dominant-baseline="central" >0.04</text>
<line x1="636.6" x2="638.2" y1="217.45" y2="217.45" stroke="#000" stroke-width="0.6"/>
<text x="633.2" y="217.45" font-size="5.7" text-anchor="end" fill="#222" dominant-baseline="central" >0.06</text>
<line x1="636.6" x2="638.2" y1="204.1" y2="204.1" stroke="#000" stroke-width="0.6"/>
<text x="633.2" y="204.1" font-size="5.7" text-anchor="end" fill="#222" dominant-baseline="central" >0.08</text>
<rect x="644.2" y="221.9" width="5" height="35.6" fill="#a6a6a6"/>
<path d="M646.7 221.9V213.3M645.4 213.3H648" stroke="#a6a6a6" stroke-width="0.55" fill="none"/>
<rect x="651" y="230.4" width="5" height="27.1" fill="#000"/>
<path d="M653.5 230.4V225.4M652.2 225.4H654.8" stroke="#000" stroke-width="0.55" fill="none"/>
<rect x="667.9" y="224" width="5.4" height="33.5" fill="#a6a6a6"/>
<path d="M670.6 224V220.1M669.3 220.1H671.9" stroke="#a6a6a6" stroke-width="0.55" fill="none"/>
<rect x="674.7" y="213" width="5.2" height="44.5" fill="#000"/>
<path d="M677.3 213V207.3M676 207.3H678.6" stroke="#000" stroke-width="0.55" fill="none"/>
<path d="M638.2 203.6V257.5H686.3" stroke="#000" stroke-width="1.1" fill="none"/>
<line x1="650.1" x2="650.1" y1="257.5" y2="259" stroke="#000" stroke-width="0.6"/>
<line x1="673.9" x2="673.9" y1="257.5" y2="259" stroke="#000" stroke-width="0.6"/>
<text x="650.1" y="263.8" font-size="5.7" text-anchor="middle" fill="#222" dominant-baseline="central" >E31</text>
<text x="673.9" y="263.8" font-size="5.7" text-anchor="middle" fill="#222" dominant-baseline="central" >E32</text>
<text x="665.2" y="193.9" font-size="7.5" text-anchor="middle" dominant-baseline="central" font-style="italic" fill="#222">SmFBX323</text>
<line x1="706.9" x2="708.5" y1="257.5" y2="257.5" stroke="#000" stroke-width="0.6"/>
<text x="703.5" y="257.5" font-size="5.7" text-anchor="end" fill="#222" dominant-baseline="central" >0</text>
<line x1="706.9" x2="708.5" y1="243.93" y2="243.93" stroke="#000" stroke-width="0.6"/>
<text x="703.5" y="243.93" font-size="5.7" text-anchor="end" fill="#222" dominant-baseline="central" >0.05</text>
<line x1="706.9" x2="708.5" y1="230.35" y2="230.35" stroke="#000" stroke-width="0.6"/>
<text x="703.5" y="230.35" font-size="5.7" text-anchor="end" fill="#222" dominant-baseline="central" >0.1</text>
<line x1="706.9" x2="708.5" y1="216.77" y2="216.77" stroke="#000" stroke-width="0.6"/>
<text x="703.5" y="216.77" font-size="5.7" text-anchor="end" fill="#222" dominant-baseline="central" >0.15</text>
<line x1="706.9" x2="708.5" y1="203.2" y2="203.2" stroke="#000" stroke-width="0.6"/>
<text x="703.5" y="203.2" font-size="5.7" text-anchor="end" fill="#222" dominant-baseline="central" >0.2</text>
<rect x="714.2" y="222.2" width="5.4" height="35.3" fill="#a6a6a6"/>
<path d="M716.9 222.2V208.5M715.6 208.5H718.2" stroke="#a6a6a6" stroke-width="0.55" fill="none"/>
<rect x="721.4" y="234.7" width="4.9" height="22.8" fill="#000"/>
<path d="M723.85 234.7V231.3M722.55 231.3H725.15" stroke="#000" stroke-width="0.55" fill="none"/>
<rect x="737.9" y="246" width="4.8" height="11.5" fill="#a6a6a6"/>
<path d="M740.3 246V243.3M739 243.3H741.6" stroke="#a6a6a6" stroke-width="0.55" fill="none"/>
<rect x="744.5" y="248.1" width="5" height="9.4" fill="#000"/>
<path d="M747 248.1V246.3M745.7 246.3H748.3" stroke="#000" stroke-width="0.55" fill="none"/>
<path d="M708.5 202.7V257.5H755.8" stroke="#000" stroke-width="1.1" fill="none"/>
<line x1="720.25" x2="720.25" y1="257.5" y2="259" stroke="#000" stroke-width="0.6"/>
<line x1="743.7" x2="743.7" y1="257.5" y2="259" stroke="#000" stroke-width="0.6"/>
<text x="720.25" y="263.8" font-size="5.7" text-anchor="middle" fill="#222" dominant-baseline="central" >E31</text>
<text x="743.7" y="263.8" font-size="5.7" text-anchor="middle" fill="#222" dominant-baseline="central" >E32</text>
<text x="734.9" y="196" font-size="7.5" text-anchor="middle" dominant-baseline="central" font-style="italic" fill="#222">SmFBX325</text>
<rect x="762.4" y="224.4" width="3.2" height="3.2" fill="#a6a6a6"/>
<rect x="762.4" y="234.5" width="3.2" height="3.2" fill="#000"/>
<text x="766.7" y="226" font-size="6.2" text-anchor="start" fill="#222" dominant-baseline="central" >CK</text>
<text x="766.7" y="236.1" font-size="6.2" text-anchor="start" fill="#222" dominant-baseline="central" >RS</text>
<text x="0" y="0" font-size="6.3" fill="#222" text-anchor="middle" dominant-baseline="central" transform="translate(397.8,229) rotate(-90)">Relative Expression</text>
<line x1="423" x2="424.6" y1="366.9" y2="366.9" stroke="#000" stroke-width="0.6"/>
<text x="419.6" y="366.9" font-size="5.7" text-anchor="end" fill="#222" dominant-baseline="central" >0</text>
<line x1="423" x2="424.6" y1="355.98" y2="355.98" stroke="#000" stroke-width="0.6"/>
<text x="419.6" y="355.98" font-size="5.7" text-anchor="end" fill="#222" dominant-baseline="central" >0.3</text>
<line x1="423" x2="424.6" y1="345.06" y2="345.06" stroke="#000" stroke-width="0.6"/>
<text x="419.6" y="345.06" font-size="5.7" text-anchor="end" fill="#222" dominant-baseline="central" >0.6</text>
<line x1="423" x2="424.6" y1="334.14" y2="334.14" stroke="#000" stroke-width="0.6"/>
<text x="419.6" y="334.14" font-size="5.7" text-anchor="end" fill="#222" dominant-baseline="central" >0.9</text>
<line x1="423" x2="424.6" y1="323.22" y2="323.22" stroke="#000" stroke-width="0.6"/>
<text x="419.6" y="323.22" font-size="5.7" text-anchor="end" fill="#222" dominant-baseline="central" >1.2</text>
<line x1="423" x2="424.6" y1="312.3" y2="312.3" stroke="#000" stroke-width="0.6"/>
<text x="419.6" y="312.3" font-size="5.7" text-anchor="end" fill="#222" dominant-baseline="central" >1.5</text>
<rect x="430.2" y="331.9" width="4.9" height="35" fill="#a6a6a6"/>
<path d="M432.65 331.9V320M431.35 320H433.95" stroke="#a6a6a6" stroke-width="0.55" fill="none"/>
<rect x="436.5" y="339.9" width="5.3" height="27" fill="#000"/>
<path d="M439.15 339.9V330.7M437.85 330.7H440.45" stroke="#000" stroke-width="0.55" fill="none"/>
<rect x="453" y="327.1" width="5.2" height="39.8" fill="#a6a6a6"/>
<path d="M455.6 327.1V318.4M454.3 318.4H456.9" stroke="#a6a6a6" stroke-width="0.55" fill="none"/>
<rect x="459.5" y="331.1" width="5.3" height="35.8" fill="#000"/>
<path d="M462.15 331.1V321.1M460.85 321.1H463.45" stroke="#000" stroke-width="0.55" fill="none"/>
<path d="M424.6 311.8V366.9H470.7" stroke="#000" stroke-width="1.1" fill="none"/>
<line x1="436" x2="436" y1="366.9" y2="368.4" stroke="#000" stroke-width="0.6"/>
<line x1="458.9" x2="458.9" y1="366.9" y2="368.4" stroke="#000" stroke-width="0.6"/>
<text x="436" y="373.4" font-size="5.7" text-anchor="middle" fill="#222" dominant-baseline="central" >E31</text>
<text x="458.9" y="373.4" font-size="5.7" text-anchor="middle" fill="#222" dominant-baseline="central" >E32</text>
<text x="446.1" y="300.6" font-size="7.5" text-anchor="middle" dominant-baseline="central" font-style="italic" fill="#222">SmFBX19</text>
<line x1="493.6" x2="495.2" y1="366.8" y2="366.8" stroke="#000" stroke-width="0.6"/>
<text x="490.2" y="366.8" font-size="5.7" text-anchor="end" fill="#222" dominant-baseline="central" >0</text>
<line x1="493.6" x2="495.2" y1="352.9" y2="352.9" stroke="#000" stroke-width="0.6"/>
<text x="490.2" y="352.9" font-size="5.7" text-anchor="end" fill="#222" dominant-baseline="central" >0.5</text>
<line x1="493.6" x2="495.2" y1="339" y2="339" stroke="#000" stroke-width="0.6"/>
<text x="490.2" y="339" font-size="5.7" text-anchor="end" fill="#222" dominant-baseline="central" >1</text>
<line x1="493.6" x2="495.2" y1="325.1" y2="325.1" stroke="#000" stroke-width="0.6"/>
<text x="490.2" y="325.1" font-size="5.7" text-anchor="end" fill="#222" dominant-baseline="central" >1.5</text>
<line x1="493.6" x2="495.2" y1="311.2" y2="311.2" stroke="#000" stroke-width="0.6"/>
<text x="490.2" y="311.2" font-size="5.7" text-anchor="end" fill="#222" dominant-baseline="central" >2</text>
<rect x="501" y="338.4" width="5.1" height="28.4" fill="#a6a6a6"/>
<path d="M503.55 338.4V333.1M502.25 333.1H504.85" stroke="#a6a6a6" stroke-width="0.55" fill="none"/>
<rect x="507.7" y="332" width="5.1" height="34.8" fill="#000"/>
<path d="M510.25 332V324M508.95 324H511.55" stroke="#000" stroke-width="0.55" fill="none"/>
<rect x="524.5" y="338" width="5.2" height="28.8" fill="#a6a6a6"/>
<path d="M527.1 338V336.7M525.8 336.7H528.4" stroke="#a6a6a6" stroke-width="0.55" fill="none"/>
<rect x="531" y="346.8" width="5.3" height="20" fill="#000"/>
<path d="M533.65 346.8V345.2M532.35 345.2H534.95" stroke="#000" stroke-width="0.55" fill="none"/>
<path d="M495.2 310.7V366.8H542.5" stroke="#000" stroke-width="1.1" fill="none"/>
<line x1="506.9" x2="506.9" y1="366.8" y2="368.3" stroke="#000" stroke-width="0.6"/>
<line x1="530.4" x2="530.4" y1="366.8" y2="368.3" stroke="#000" stroke-width="0.6"/>
<text x="506.9" y="373.4" font-size="5.7" text-anchor="middle" fill="#222" dominant-baseline="central" >E31</text>
<text x="530.4" y="373.4" font-size="5.7" text-anchor="middle" fill="#222" dominant-baseline="central" >E32</text>
<text x="521" y="302.2" font-size="7.5" text-anchor="middle" dominant-baseline="central" font-style="italic" fill="#222">SmFBX23</text>
<path d="M533.9 340.4L533.9 338.05M533.9 340.4L536.13 339.67M533.9 340.4L535.28 342.3M533.9 340.4L532.52 342.3M533.9 340.4L531.67 339.67" stroke="#111" stroke-width="1.15" stroke-linecap="round" fill="none"/>
<line x1="567.8" x2="569.4" y1="366.8" y2="366.8" stroke="#000" stroke-width="0.6"/>
<text x="564.4" y="366.8" font-size="5.7" text-anchor="end" fill="#222" dominant-baseline="central" >0</text>
<line x1="567.8" x2="569.4" y1="355.84" y2="355.84" stroke="#000" stroke-width="0.6"/>
<text x="564.4" y="355.84" font-size="5.7" text-anchor="end" fill="#222" dominant-baseline="central" >0.3</text>
<line x1="567.8" x2="569.4" y1="344.88" y2="344.88" stroke="#000" stroke-width="0.6"/>
<text x="564.4" y="344.88" font-size="5.7" text-anchor="end" fill="#222" dominant-baseline="central" >0.6</text>
<line x1="567.8" x2="569.4" y1="333.92" y2="333.92" stroke="#000" stroke-width="0.6"/>
<text x="564.4" y="333.92" font-size="5.7" text-anchor="end" fill="#222" dominant-baseline="central" >0.9</text>
<line x1="567.8" x2="569.4" y1="322.96" y2="322.96" stroke="#000" stroke-width="0.6"/>
<text x="564.4" y="322.96" font-size="5.7" text-anchor="end" fill="#222" dominant-baseline="central" >1.2</text>
<line x1="567.8" x2="569.4" y1="312" y2="312" stroke="#000" stroke-width="0.6"/>
<text x="564.4" y="312" font-size="5.7" text-anchor="end" fill="#222" dominant-baseline="central" >1.5</text>
<rect x="575" y="329.1" width="5.1" height="37.7" fill="#a6a6a6"/>
<path d="M577.55 329.1V326.4M576.25 326.4H578.85" stroke="#a6a6a6" stroke-width="0.55" fill="none"/>
<rect x="581.7" y="335.2" width="5.1" height="31.6" fill="#000"/>
<path d="M584.25 335.2V327.2M582.95 327.2H585.55" stroke="#000" stroke-width="0.55" fill="none"/>
<rect x="598.1" y="327" width="4.9" height="39.8" fill="#a6a6a6"/>
<path d="M600.55 327V320.3M599.25 320.3H601.85" stroke="#a6a6a6" stroke-width="0.55" fill="none"/>
<rect x="604.7" y="327.8" width="5.1" height="39" fill="#000"/>
<path d="M607.25 327.8V315.2M605.95 315.2H608.55" stroke="#000" stroke-width="0.55" fill="none"/>
<path d="M569.4 311.5V366.8H615.4" stroke="#000" stroke-width="1.1" fill="none"/>
<line x1="580.9" x2="580.9" y1="366.8" y2="368.3" stroke="#000" stroke-width="0.6"/>
<line x1="603.95" x2="603.95" y1="366.8" y2="368.3" stroke="#000" stroke-width="0.6"/>
<text x="580.9" y="373.4" font-size="5.7" text-anchor="middle" fill="#222" dominant-baseline="central" >E31</text>
<text x="603.95" y="373.4" font-size="5.7" text-anchor="middle" fill="#222" dominant-baseline="central" >E32</text>
<text x="591.3" y="302.2" font-size="7.5" text-anchor="middle" dominant-baseline="central" font-style="italic" fill="#222">SmFBX28</text>
<line x1="638.6" x2="640.2" y1="366.8" y2="366.8" stroke="#000" stroke-width="0.6"/>
<text x="635.2" y="366.8" font-size="5.7" text-anchor="end" fill="#222" dominant-baseline="central" >0</text>
<line x1="638.6" x2="640.2" y1="357.53" y2="357.53" stroke="#000" stroke-width="0.6"/>
<text x="635.2" y="357.53" font-size="5.7" text-anchor="end" fill="#222" dominant-baseline="central" >0.5</text>
<line x1="638.6" x2="640.2" y1="348.27" y2="348.27" stroke="#000" stroke-width="0.6"/>
<text x="635.2" y="348.27" font-size="5.7" text-anchor="end" fill="#222" dominant-baseline="central" >1</text>
<line x1="638.6" x2="640.2" y1="339" y2="339" stroke="#000" stroke-width="0.6"/>
<text x="635.2" y="339" font-size="5.7" text-anchor="end" fill="#222" dominant-baseline="central" >1.5</text>
<line x1="638.6" x2="640.2" y1="329.73" y2="329.73" stroke="#000" stroke-width="0.6"/>
<text x="635.2" y="329.73" font-size="5.7" text-anchor="end" fill="#222" dominant-baseline="central" >2</text>
<line x1="638.6" x2="640.2" y1="320.47" y2="320.47" stroke="#000" stroke-width="0.6"/>
<text x="635.2" y="320.47" font-size="5.7" text-anchor="end" fill="#222" dominant-baseline="central" >2.5</text>
<line x1="638.6" x2="640.2" y1="311.2" y2="311.2" stroke="#000" stroke-width="0.6"/>
<text x="635.2" y="311.2" font-size="5.7" text-anchor="end" fill="#222" dominant-baseline="central" >3</text>
<rect x="646.1" y="347.6" width="5.3" height="19.2" fill="#a6a6a6"/>
<path d="M648.75 347.6V340.8M647.45 340.8H650.05" stroke="#a6a6a6" stroke-width="0.55" fill="none"/>
<rect x="653" y="362" width="5.1" height="4.8" fill="#000"/>
<path d="M655.55 362V360.1M654.25 360.1H656.85" stroke="#000" stroke-width="0.55" fill="none"/>
<rect x="669.4" y="347.2" width="5.3" height="19.6" fill="#a6a6a6"/>
<path d="M672.05 347.2V344.4M670.75 344.4H673.35" stroke="#a6a6a6" stroke-width="0.55" fill="none"/>
<rect x="676.1" y="332" width="5.3" height="34.8" fill="#000"/>
<path d="M678.75 332V322.4M677.45 322.4H680.05" stroke="#000" stroke-width="0.55" fill="none"/>
<path d="M640.2 310.7V366.8H687.8" stroke="#000" stroke-width="1.1" fill="none"/>
<line x1="652.1" x2="652.1" y1="366.8" y2="368.3" stroke="#000" stroke-width="0.6"/>
<line x1="675.4" x2="675.4" y1="366.8" y2="368.3" stroke="#000" stroke-width="0.6"/>
<text x="652.1" y="373.4" font-size="5.7" text-anchor="middle" fill="#222" dominant-baseline="central" >E31</text>
<text x="675.4" y="373.4" font-size="5.7" text-anchor="middle" fill="#222" dominant-baseline="central" >E32</text>
<text x="665" y="303.9" font-size="7.5" text-anchor="middle" dominant-baseline="central" font-style="italic" fill="#222">SmFBX48</text>
<line x1="704.6" x2="706.2" y1="366.9" y2="366.9" stroke="#000" stroke-width="0.6"/>
<text x="701.2" y="366.9" font-size="5.7" text-anchor="end" fill="#222" dominant-baseline="central" >0</text>
<line x1="704.6" x2="706.2" y1="353.45" y2="353.45" stroke="#000" stroke-width="0.6"/>
<text x="701.2" y="353.45" font-size="5.7" text-anchor="end" fill="#222" dominant-baseline="central" >0.5</text>
<line x1="704.6" x2="706.2" y1="340" y2="340" stroke="#000" stroke-width="0.6"/>
<text x="701.2" y="340" font-size="5.7" text-anchor="end" fill="#222" dominant-baseline="central" >1</text>
<line x1="704.6" x2="706.2" y1="326.55" y2="326.55" stroke="#000" stroke-width="0.6"/>
<text x="701.2" y="326.55" font-size="5.7" text-anchor="end" fill="#222" dominant-baseline="central" >1.5</text>
<line x1="704.6" x2="706.2" y1="313.1" y2="313.1" stroke="#000" stroke-width="0.6"/>
<text x="701.2" y="313.1" font-size="5.7" text-anchor="end" fill="#222" dominant-baseline="central" >2</text>
<rect x="711.8" y="339.1" width="5.4" height="27.8" fill="#a6a6a6"/>
<rect x="718.5" y="322.7" width="5.3" height="44.2" fill="#000"/>
<path d="M721.15 322.7V319M719.85 319H722.45" stroke="#000" stroke-width="0.55" fill="none"/>
<rect x="735.1" y="337.5" width="5.6" height="29.4" fill="#a6a6a6"/>
<rect x="742.1" y="323.9" width="5.3" height="43" fill="#000"/>
<path d="M744.75 323.9V321.1M743.45 321.1H746.05" stroke="#000" stroke-width="0.55" fill="none"/>
<path d="M706.2 312.6V366.9H753.5" stroke="#000" stroke-width="1.1" fill="none"/>
<line x1="717.8" x2="717.8" y1="366.9" y2="368.4" stroke="#000" stroke-width="0.6"/>
<line x1="741.25" x2="741.25" y1="366.9" y2="368.4" stroke="#000" stroke-width="0.6"/>
<text x="717.8" y="373.4" font-size="5.7" text-anchor="middle" fill="#222" dominant-baseline="central" >E31</text>
<text x="741.25" y="373.4" font-size="5.7" text-anchor="middle" fill="#222" dominant-baseline="central" >E32</text>
<text x="727" y="302.3" font-size="7.5" text-anchor="middle" dominant-baseline="central" font-style="italic" fill="#222">SmFBX52</text>
<path d="M718.15 314.7L718.15 312.35M718.15 314.7L720.38 313.97M718.15 314.7L719.53 316.6M718.15 314.7L716.77 316.6M718.15 314.7L715.92 313.97" stroke="#111" stroke-width="1.15" stroke-linecap="round" fill="none"/>
<path d="M724.75 314.7L724.75 312.35M724.75 314.7L726.98 313.97M724.75 314.7L726.13 316.6M724.75 314.7L723.37 316.6M724.75 314.7L722.52 313.97" stroke="#111" stroke-width="1.15" stroke-linecap="round" fill="none"/>
<path d="M741.3 316.3L741.3 313.95M741.3 316.3L743.53 315.57M741.3 316.3L742.68 318.2M741.3 316.3L739.92 318.2M741.3 316.3L739.07 315.57" stroke="#111" stroke-width="1.15" stroke-linecap="round" fill="none"/>
<path d="M747.9 316.3L747.9 313.95M747.9 316.3L750.13 315.57M747.9 316.3L749.28 318.2M747.9 316.3L746.52 318.2M747.9 316.3L745.67 315.57" stroke="#111" stroke-width="1.15" stroke-linecap="round" fill="none"/>
<rect x="763.5" y="334.8" width="3.2" height="3.2" fill="#a6a6a6"/>
<rect x="763.5" y="344.4" width="3.2" height="3.2" fill="#000"/>
<text x="767.8" y="336.4" font-size="6.2" text-anchor="start" fill="#222" dominant-baseline="central" >0d</text>
<text x="767.8" y="346" font-size="6.2" text-anchor="start" fill="#222" dominant-baseline="central" >6d</text>
<text x="0" y="0" font-size="6.3" fill="#222" text-anchor="middle" dominant-baseline="central" transform="translate(402.8,338.2) rotate(-90)">Relative Expression</text>
<line x1="423" x2="424.6" y1="451.9" y2="451.9" stroke="#000" stroke-width="0.6"/>
<text x="419.6" y="451.9" font-size="5.7" text-anchor="end" fill="#222" dominant-baseline="central" >0</text>
<line x1="423" x2="424.6" y1="437.85" y2="437.85" stroke="#000" stroke-width="0.6"/>
<text x="419.6" y="437.85" font-size="5.7" text-anchor="end" fill="#222" dominant-baseline="central" >0.3</text>
<line x1="423" x2="424.6" y1="423.8" y2="423.8" stroke="#000" stroke-width="0.6"/>
<text x="419.6" y="423.8" font-size="5.7" text-anchor="end" fill="#222" dominant-baseline="central" >0.6</text>
<line x1="423" x2="424.6" y1="409.75" y2="409.75" stroke="#000" stroke-width="0.6"/>
<text x="419.6" y="409.75" font-size="5.7" text-anchor="end" fill="#222" dominant-baseline="central" >0.9</text>
<line x1="423" x2="424.6" y1="395.7" y2="395.7" stroke="#000" stroke-width="0.6"/>
<text x="419.6" y="395.7" font-size="5.7" text-anchor="end" fill="#222" dominant-baseline="central" >1.2</text>
<rect x="430.1" y="404.2" width="5" height="47.7" fill="#a6a6a6"/>
<path d="M432.6 404.2V401M431.3 401H433.9" stroke="#a6a6a6" stroke-width="0.55" fill="none"/>
<rect x="436.5" y="431.5" width="5.3" height="20.4" fill="#000"/>
<path d="M439.15 431.5V429.1M437.85 429.1H440.45" stroke="#000" stroke-width="0.55" fill="none"/>
<rect x="453" y="404" width="5.2" height="47.9" fill="#a6a6a6"/>
<path d="M455.6 404V400M454.3 400H456.9" stroke="#a6a6a6" stroke-width="0.55" fill="none"/>
<rect x="459.5" y="408" width="4.8" height="43.9" fill="#000"/>
<path d="M461.9 408V404M460.6 404H463.2" stroke="#000" stroke-width="0.55" fill="none"/>
<path d="M424.6 395.2V451.9H470.7" stroke="#000" stroke-width="1.1" fill="none"/>
<line x1="435.95" x2="435.95" y1="451.9" y2="453.4" stroke="#000" stroke-width="0.6"/>
<line x1="458.65" x2="458.65" y1="451.9" y2="453.4" stroke="#000" stroke-width="0.6"/>
<text x="435.95" y="458.5" font-size="5.7" text-anchor="middle" fill="#222" dominant-baseline="central" >E31</text>
<text x="458.65" y="458.5" font-size="5.7" text-anchor="middle" fill="#222" dominant-baseline="central" >E32</text>
<text x="444.2" y="388" font-size="7.5" text-anchor="middle" dominant-baseline="central" font-style="italic" fill="#222">SmFBX55</text>
<path d="M437.3 424.6L437.3 422.25M437.3 424.6L439.53 423.87M437.3 424.6L438.68 426.5M437.3 424.6L435.92 426.5M437.3 424.6L435.07 423.87" stroke="#111" stroke-width="1.15" stroke-linecap="round" fill="none"/>
<path d="M443.9 424.6L443.9 422.25M443.9 424.6L446.13 423.87M443.9 424.6L445.28 426.5M443.9 424.6L442.52 426.5M443.9 424.6L441.67 423.87" stroke="#111" stroke-width="1.15" stroke-linecap="round" fill="none"/>
<line x1="494.1" x2="495.7" y1="452.9" y2="452.9" stroke="#000" stroke-width="0.6"/>
<text x="490.7" y="452.9" font-size="5.7" text-anchor="end" fill="#222" dominant-baseline="central" >0</text>
<line x1="494.1" x2="495.7" y1="442.2" y2="442.2" stroke="#000" stroke-width="0.6"/>
<text x="490.7" y="442.2" font-size="5.7" text-anchor="end" fill="#222" dominant-baseline="central" >0.3</text>
<line x1="494.1" x2="495.7" y1="431.5" y2="431.5" stroke="#000" stroke-width="0.6"/>
<text x="490.7" y="431.5" font-size="5.7" text-anchor="end" fill="#222" dominant-baseline="central" >0.6</text>
<line x1="494.1" x2="495.7" y1="420.8" y2="420.8" stroke="#000" stroke-width="0.6"/>
<text x="490.7" y="420.8" font-size="5.7" text-anchor="end" fill="#222" dominant-baseline="central" >0.9</text>
<line x1="494.1" x2="495.7" y1="410.1" y2="410.1" stroke="#000" stroke-width="0.6"/>
<text x="490.7" y="410.1" font-size="5.7" text-anchor="end" fill="#222" dominant-baseline="central" >1.2</text>
<line x1="494.1" x2="495.7" y1="399.4" y2="399.4" stroke="#000" stroke-width="0.6"/>
<text x="490.7" y="399.4" font-size="5.7" text-anchor="end" fill="#222" dominant-baseline="central" >1.5</text>
<rect x="501.3" y="416.2" width="5.1" height="36.7" fill="#a6a6a6"/>
<path d="M503.85 416.2V412.5M502.55 412.5H505.15" stroke="#a6a6a6" stroke-width="0.55" fill="none"/>
<rect x="508" y="411.4" width="5" height="41.5" fill="#000"/>
<path d="M510.5 411.4V408.2M509.2 408.2H511.8" stroke="#000" stroke-width="0.55" fill="none"/>
<rect x="525" y="415.7" width="5.2" height="37.2" fill="#a6a6a6"/>
<path d="M527.6 415.7V410.1M526.3 410.1H528.9" stroke="#a6a6a6" stroke-width="0.55" fill="none"/>
<rect x="532.1" y="421.3" width="5" height="31.6" fill="#000"/>
<path d="M534.6 421.3V409M533.3 409H535.9" stroke="#000" stroke-width="0.55" fill="none"/>
<path d="M495.7 398.9V452.9H543.5" stroke="#000" stroke-width="1.1" fill="none"/>
<line x1="507.15" x2="507.15" y1="452.9" y2="454.4" stroke="#000" stroke-width="0.6"/>
<line x1="531.05" x2="531.05" y1="452.9" y2="454.4" stroke="#000" stroke-width="0.6"/>
<text x="507.15" y="458.5" font-size="5.7" text-anchor="middle" fill="#222" dominant-baseline="central" >E31</text>
<text x="531.05" y="458.5" font-size="5.7" text-anchor="middle" fill="#222" dominant-baseline="central" >E32</text>
<text x="521.3" y="390" font-size="7.5" text-anchor="middle" dominant-baseline="central" font-style="italic" fill="#222">SmFBX105</text>
<line x1="567.3" x2="568.9" y1="452.1" y2="452.1" stroke="#000" stroke-width="0.6"/>
<text x="563.9" y="452.1" font-size="5.7" text-anchor="end" fill="#222" dominant-baseline="central" >0</text>
<line x1="567.3" x2="568.9" y1="443.5" y2="443.5" stroke="#000" stroke-width="0.6"/>
<text x="563.9" y="443.5" font-size="5.7" text-anchor="end" fill="#222" dominant-baseline="central" >0.5</text>
<line x1="567.3" x2="568.9" y1="434.9" y2="434.9" stroke="#000" stroke-width="0.6"/>
<text x="563.9" y="434.9" font-size="5.7" text-anchor="end" fill="#222" dominant-baseline="central" >1</text>
<line x1="567.3" x2="568.9" y1="426.3" y2="426.3" stroke="#000" stroke-width="0.6"/>
<text x="563.9" y="426.3" font-size="5.7" text-anchor="end" fill="#222" dominant-baseline="central" >1.5</text>
<line x1="567.3" x2="568.9" y1="417.7" y2="417.7" stroke="#000" stroke-width="0.6"/>
<text x="563.9" y="417.7" font-size="5.7" text-anchor="end" fill="#222" dominant-baseline="central" >2</text>
<line x1="567.3" x2="568.9" y1="409.1" y2="409.1" stroke="#000" stroke-width="0.6"/>
<text x="563.9" y="409.1" font-size="5.7" text-anchor="end" fill="#222" dominant-baseline="central" >2.5</text>
<line x1="567.3" x2="568.9" y1="400.5" y2="400.5" stroke="#000" stroke-width="0.6"/>
<text x="563.9" y="400.5" font-size="5.7" text-anchor="end" fill="#222" dominant-baseline="central" >3</text>
<rect x="574.5" y="433.9" width="4.8" height="18.2" fill="#a6a6a6"/>
<path d="M576.9 433.9V431M575.6 431H578.2" stroke="#a6a6a6" stroke-width="0.55" fill="none"/>
<rect x="580.9" y="417.8" width="5.1" height="34.3" fill="#000"/>
<path d="M583.45 417.8V410.1M582.15 410.1H584.75" stroke="#000" stroke-width="0.55" fill="none"/>
<rect x="597" y="434.7" width="5.2" height="17.4" fill="#a6a6a6"/>
<path d="M599.6 434.7V430.2M598.3 430.2H600.9" stroke="#a6a6a6" stroke-width="0.55" fill="none"/>
<rect x="603.4" y="434.7" width="4.8" height="17.4" fill="#000"/>
<path d="M605.8 434.7V430.6M604.5 430.6H607.1" stroke="#000" stroke-width="0.55" fill="none"/>
<path d="M568.9 400V452.1H613.5" stroke="#000" stroke-width="1.1" fill="none"/>
<line x1="580.25" x2="580.25" y1="452.1" y2="453.6" stroke="#000" stroke-width="0.6"/>
<line x1="602.6" x2="602.6" y1="452.1" y2="453.6" stroke="#000" stroke-width="0.6"/>
<text x="580.25" y="458.5" font-size="5.7" text-anchor="middle" fill="#222" dominant-baseline="central" >E31</text>
<text x="602.6" y="458.5" font-size="5.7" text-anchor="middle" fill="#222" dominant-baseline="central" >E32</text>
<text x="595.4" y="388.5" font-size="7.5" text-anchor="middle" dominant-baseline="central" font-style="italic" fill="#222">SmFBX131</text>
<line x1="638.6" x2="640.2" y1="452.6" y2="452.6" stroke="#000" stroke-width="0.6"/>
<text x="635.2" y="452.6" font-size="5.7" text-anchor="end" fill="#222" dominant-baseline="central" >0</text>
<line x1="638.6" x2="640.2" y1="442.28" y2="442.28" stroke="#000" stroke-width="0.6"/>
<text x="635.2" y="442.28" font-size="5.7" text-anchor="end" fill="#222" dominant-baseline="central" >0.5</text>
<line x1="638.6" x2="640.2" y1="431.96" y2="431.96" stroke="#000" stroke-width="0.6"/>
<text x="635.2" y="431.96" font-size="5.7" text-anchor="end" fill="#222" dominant-baseline="central" >1</text>
<line x1="638.6" x2="640.2" y1="421.64" y2="421.64" stroke="#000" stroke-width="0.6"/>
<text x="635.2" y="421.64" font-size="5.7" text-anchor="end" fill="#222" dominant-baseline="central" >1.5</text>
<line x1="638.6" x2="640.2" y1="411.32" y2="411.32" stroke="#000" stroke-width="0.6"/>
<text x="635.2" y="411.32" font-size="5.7" text-anchor="end" fill="#222" dominant-baseline="central" >2</text>
<line x1="638.6" x2="640.2" y1="401" y2="401" stroke="#000" stroke-width="0.6"/>
<text x="635.2" y="401" font-size="5.7" text-anchor="end" fill="#222" dominant-baseline="central" >2.5</text>
<rect x="646.1" y="430.6" width="5.3" height="22" fill="#a6a6a6"/>
<path d="M648.75 430.6V426.2M647.45 426.2H650.05" stroke="#a6a6a6" stroke-width="0.55" fill="none"/>
<rect x="653" y="437.1" width="5.1" height="15.5" fill="#000"/>
<path d="M655.55 437.1V431.8M654.25 431.8H656.85" stroke="#000" stroke-width="0.55" fill="none"/>
<rect x="669" y="431.8" width="5.2" height="20.8" fill="#a6a6a6"/>
<path d="M671.6 431.8V427.4M670.3 427.4H672.9" stroke="#a6a6a6" stroke-width="0.55" fill="none"/>
<rect x="675.8" y="414.9" width="5.3" height="37.7" fill="#000"/>
<path d="M678.45 414.9V409M677.15 409H679.75" stroke="#000" stroke-width="0.55" fill="none"/>
<path d="M640.2 400.5V452.6H686.7" stroke="#000" stroke-width="1.1" fill="none"/>
<line x1="652.1" x2="652.1" y1="452.6" y2="454.1" stroke="#000" stroke-width="0.6"/>
<line x1="675.05" x2="675.05" y1="452.6" y2="454.1" stroke="#000" stroke-width="0.6"/>
<text x="652.1" y="458.5" font-size="5.7" text-anchor="middle" fill="#222" dominant-baseline="central" >E31</text>
<text x="675.05" y="458.5" font-size="5.7" text-anchor="middle" fill="#222" dominant-baseline="central" >E32</text>
<text x="661.3" y="390" font-size="7.5" text-anchor="middle" dominant-baseline="central" font-style="italic" fill="#222">SmFBX197</text>
<line x1="704.6" x2="706.2" y1="452.7" y2="452.7" stroke="#000" stroke-width="0.6"/>
<text x="701.2" y="452.7" font-size="5.7" text-anchor="end" fill="#222" dominant-baseline="central" >0</text>
<line x1="704.6" x2="706.2" y1="441.78" y2="441.78" stroke="#000" stroke-width="0.6"/>
<text x="701.2" y="441.78" font-size="5.7" text-anchor="end" fill="#222" dominant-baseline="central" >0.5</text>
<line x1="704.6" x2="706.2" y1="430.86" y2="430.86" stroke="#000" stroke-width="0.6"/>
<text x="701.2" y="430.86" font-size="5.7" text-anchor="end" fill="#222" dominant-baseline="central" >1</text>
<line x1="704.6" x2="706.2" y1="419.94" y2="419.94" stroke="#000" stroke-width="0.6"/>
<text x="701.2" y="419.94" font-size="5.7" text-anchor="end" fill="#222" dominant-baseline="central" >1.5</text>
<line x1="704.6" x2="706.2" y1="409.02" y2="409.02" stroke="#000" stroke-width="0.6"/>
<text x="701.2" y="409.02" font-size="5.7" text-anchor="end" fill="#222" dominant-baseline="central" >2</text>
<line x1="704.6" x2="706.2" y1="398.1" y2="398.1" stroke="#000" stroke-width="0.6"/>
<text x="701.2" y="398.1" font-size="5.7" text-anchor="end" fill="#222" dominant-baseline="central" >2.5</text>
<rect x="712.1" y="431" width="5.3" height="21.7" fill="#a6a6a6"/>
<path d="M714.75 431V428.6M713.45 428.6H716.05" stroke="#a6a6a6" stroke-width="0.55" fill="none"/>
<rect x="719" y="417.7" width="5.1" height="35" fill="#000"/>
<path d="M721.55 417.7V407.2M720.25 407.2H722.85" stroke="#000" stroke-width="0.55" fill="none"/>
<rect x="736.2" y="429.7" width="5.3" height="23" fill="#a6a6a6"/>
<path d="M738.85 429.7V427.3M737.55 427.3H740.15" stroke="#a6a6a6" stroke-width="0.55" fill="none"/>
<rect x="743.1" y="429.1" width="5.4" height="23.6" fill="#000"/>
<path d="M745.8 429.1V428.1M744.5 428.1H747.1" stroke="#000" stroke-width="0.55" fill="none"/>
<path d="M706.2 397.6V452.7H754.6" stroke="#000" stroke-width="1.1" fill="none"/>
<line x1="718.1" x2="718.1" y1="452.7" y2="454.2" stroke="#000" stroke-width="0.6"/>
<line x1="742.35" x2="742.35" y1="452.7" y2="454.2" stroke="#000" stroke-width="0.6"/>
<text x="718.1" y="458.5" font-size="5.7" text-anchor="middle" fill="#222" dominant-baseline="central" >E31</text>
<text x="742.35" y="458.5" font-size="5.7" text-anchor="middle" fill="#222" dominant-baseline="central" >E32</text>
<text x="733.8" y="389.3" font-size="7.5" text-anchor="middle" dominant-baseline="central" font-style="italic" fill="#222">SmFBX208</text>
<rect x="763.5" y="418.2" width="3.2" height="3.2" fill="#a6a6a6"/>
<rect x="763.5" y="428.1" width="3.2" height="3.2" fill="#000"/>
<text x="767.8" y="419.8" font-size="6.2" text-anchor="start" fill="#222" dominant-baseline="central" >0d</text>
<text x="767.8" y="429.7" font-size="6.2" text-anchor="start" fill="#222" dominant-baseline="central" >6d</text>
<text x="0" y="0" font-size="6.2" fill="#222" text-anchor="middle" dominant-baseline="central" transform="translate(403.9,424.6) rotate(-90)">Relative Expression</text>
<line x1="422.5" x2="424.1" y1="536.1" y2="536.1" stroke="#000" stroke-width="0.6"/>
<text x="419.1" y="536.1" font-size="5.7" text-anchor="end" fill="#222" dominant-baseline="central" >0</text>
<line x1="422.5" x2="424.1" y1="525.76" y2="525.76" stroke="#000" stroke-width="0.6"/>
<text x="419.1" y="525.76" font-size="5.7" text-anchor="end" fill="#222" dominant-baseline="central" >0.5</text>
<line x1="422.5" x2="424.1" y1="515.42" y2="515.42" stroke="#000" stroke-width="0.6"/>
<text x="419.1" y="515.42" font-size="5.7" text-anchor="end" fill="#222" dominant-baseline="central" >1</text>
<line x1="422.5" x2="424.1" y1="505.08" y2="505.08" stroke="#000" stroke-width="0.6"/>
<text x="419.1" y="505.08" font-size="5.7" text-anchor="end" fill="#222" dominant-baseline="central" >1.5</text>
<line x1="422.5" x2="424.1" y1="494.74" y2="494.74" stroke="#000" stroke-width="0.6"/>
<text x="419.1" y="494.74" font-size="5.7" text-anchor="end" fill="#222" dominant-baseline="central" >2</text>
<line x1="422.5" x2="424.1" y1="484.4" y2="484.4" stroke="#000" stroke-width="0.6"/>
<text x="419.1" y="484.4" font-size="5.7" text-anchor="end" fill="#222" dominant-baseline="central" >2.5</text>
<rect x="430.1" y="514.1" width="4.8" height="22" fill="#a6a6a6"/>
<path d="M432.5 514.1V507.2M431.2 507.2H433.8" stroke="#a6a6a6" stroke-width="0.55" fill="none"/>
<rect x="436.5" y="500.3" width="5" height="35.8" fill="#000"/>
<path d="M439 500.3V495.4M437.7 495.4H440.3" stroke="#000" stroke-width="0.55" fill="none"/>
<rect x="453" y="516" width="4.8" height="20.1" fill="#a6a6a6"/>
<path d="M455.4 516V512M454.1 512H456.7" stroke="#a6a6a6" stroke-width="0.55" fill="none"/>
<rect x="459.1" y="520.3" width="5.2" height="15.8" fill="#000"/>
<path d="M461.7 520.3V517.3M460.4 517.3H463" stroke="#000" stroke-width="0.55" fill="none"/>
<path d="M424.1 483.9V536.1H469.1" stroke="#000" stroke-width="1.1" fill="none"/>
<line x1="435.8" x2="435.8" y1="536.1" y2="537.6" stroke="#000" stroke-width="0.6"/>
<line x1="458.65" x2="458.65" y1="536.1" y2="537.6" stroke="#000" stroke-width="0.6"/>
<text x="435.8" y="542.5" font-size="5.7" text-anchor="middle" fill="#222" dominant-baseline="central" >E31</text>
<text x="458.65" y="542.5" font-size="5.7" text-anchor="middle" fill="#222" dominant-baseline="central" >E32</text>
<text x="447.1" y="473" font-size="7.5" text-anchor="middle" dominant-baseline="central" font-style="italic" fill="#222">SmFBX219</text>
<line x1="494.1" x2="495.7" y1="535.7" y2="535.7" stroke="#000" stroke-width="0.6"/>
<text x="490.7" y="535.7" font-size="5.7" text-anchor="end" fill="#222" dominant-baseline="central" >0</text>
<line x1="494.1" x2="495.7" y1="526.85" y2="526.85" stroke="#000" stroke-width="0.6"/>
<text x="490.7" y="526.85" font-size="5.7" text-anchor="end" fill="#222" dominant-baseline="central" >0.5</text>
<line x1="494.1" x2="495.7" y1="518" y2="518" stroke="#000" stroke-width="0.6"/>
<text x="490.7" y="518" font-size="5.7" text-anchor="end" fill="#222" dominant-baseline="central" >1</text>
<line x1="494.1" x2="495.7" y1="509.15" y2="509.15" stroke="#000" stroke-width="0.6"/>
<text x="490.7" y="509.15" font-size="5.7" text-anchor="end" fill="#222" dominant-baseline="central" >1.5</text>
<line x1="494.1" x2="495.7" y1="500.3" y2="500.3" stroke="#000" stroke-width="0.6"/>
<text x="490.7" y="500.3" font-size="5.7" text-anchor="end" fill="#222" dominant-baseline="central" >2</text>
<line x1="494.1" x2="495.7" y1="491.45" y2="491.45" stroke="#000" stroke-width="0.6"/>
<text x="490.7" y="491.45" font-size="5.7" text-anchor="end" fill="#222" dominant-baseline="central" >2.5</text>
<line x1="494.1" x2="495.7" y1="482.6" y2="482.6" stroke="#000" stroke-width="0.6"/>
<text x="490.7" y="482.6" font-size="5.7" text-anchor="end" fill="#222" dominant-baseline="central" >3</text>
<rect x="501.3" y="517.9" width="5.3" height="17.8" fill="#a6a6a6"/>
<rect x="508.2" y="497.5" width="4.8" height="38.2" fill="#000"/>
<path d="M510.6 497.5V492.2M509.3 492.2H511.9" stroke="#000" stroke-width="0.55" fill="none"/>
<rect x="524.5" y="517.9" width="5.2" height="17.8" fill="#a6a6a6"/>
<rect x="531.3" y="520" width="5" height="15.7" fill="#000"/>
<path d="M533.8 520V518.4M532.5 518.4H535.1" stroke="#000" stroke-width="0.55" fill="none"/>
<path d="M495.7 482.1V535.7H542.2" stroke="#000" stroke-width="1.1" fill="none"/>
<line x1="507.15" x2="507.15" y1="535.7" y2="537.2" stroke="#000" stroke-width="0.6"/>
<line x1="530.4" x2="530.4" y1="535.7" y2="537.2" stroke="#000" stroke-width="0.6"/>
<text x="507.15" y="542.5" font-size="5.7" text-anchor="middle" fill="#222" dominant-baseline="central" >E31</text>
<text x="530.4" y="542.5" font-size="5.7" text-anchor="middle" fill="#222" dominant-baseline="central" >E32</text>
<text x="521.3" y="473.5" font-size="7.5" text-anchor="middle" dominant-baseline="central" font-style="italic" fill="#222">SmFBX230</text>
<path d="M510.6 486.8L510.6 484.45M510.6 486.8L512.83 486.07M510.6 486.8L511.98 488.7M510.6 486.8L509.22 488.7M510.6 486.8L508.37 486.07" stroke="#111" stroke-width="1.15" stroke-linecap="round" fill="none"/>
<line x1="566.8" x2="568.4" y1="535.7" y2="535.7" stroke="#000" stroke-width="0.6"/>
<text x="563.4" y="535.7" font-size="5.7" text-anchor="end" fill="#222" dominant-baseline="central" >0</text>
<line x1="566.8" x2="568.4" y1="524.62" y2="524.62" stroke="#000" stroke-width="0.6"/>
<text x="563.4" y="524.62" font-size="5.7" text-anchor="end" fill="#222" dominant-baseline="central" >0.3</text>
<line x1="566.8" x2="568.4" y1="513.54" y2="513.54" stroke="#000" stroke-width="0.6"/>
<text x="563.4" y="513.54" font-size="5.7" text-anchor="end" fill="#222" dominant-baseline="central" >0.6</text>
<line x1="566.8" x2="568.4" y1="502.46" y2="502.46" stroke="#000" stroke-width="0.6"/>
<text x="563.4" y="502.46" font-size="5.7" text-anchor="end" fill="#222" dominant-baseline="central" >0.9</text>
<line x1="566.8" x2="568.4" y1="491.38" y2="491.38" stroke="#000" stroke-width="0.6"/>
<text x="563.4" y="491.38" font-size="5.7" text-anchor="end" fill="#222" dominant-baseline="central" >1.2</text>
<line x1="566.8" x2="568.4" y1="480.3" y2="480.3" stroke="#000" stroke-width="0.6"/>
<text x="563.4" y="480.3" font-size="5.7" text-anchor="end" fill="#222" dominant-baseline="central" >1.5</text>
<rect x="574.2" y="499.1" width="5.1" height="36.6" fill="#a6a6a6"/>
<path d="M576.75 499.1V494.3M575.45 494.3H578.05" stroke="#a6a6a6" stroke-width="0.55" fill="none"/>
<rect x="580.9" y="500.4" width="5.1" height="35.3" fill="#000"/>
<path d="M583.45 500.4V489.2M582.15 489.2H584.75" stroke="#000" stroke-width="0.55" fill="none"/>
<rect x="597.4" y="497.2" width="5.2" height="38.5" fill="#a6a6a6"/>
<path d="M600 497.2V493.5M598.7 493.5H601.3" stroke="#a6a6a6" stroke-width="0.55" fill="none"/>
<rect x="604.2" y="491.9" width="5.1" height="43.8" fill="#000"/>
<path d="M606.75 491.9V489.5M605.45 489.5H608.05" stroke="#000" stroke-width="0.55" fill="none"/>
<path d="M568.4 479.8V535.7H615.4" stroke="#000" stroke-width="1.1" fill="none"/>
<line x1="580.1" x2="580.1" y1="535.7" y2="537.2" stroke="#000" stroke-width="0.6"/>
<line x1="603.35" x2="603.35" y1="535.7" y2="537.2" stroke="#000" stroke-width="0.6"/>
<text x="580.1" y="542.5" font-size="5.7" text-anchor="middle" fill="#222" dominant-baseline="central" >E31</text>
<text x="603.35" y="542.5" font-size="5.7" text-anchor="middle" fill="#222" dominant-baseline="central" >E32</text>
<text x="593" y="471" font-size="7.5" text-anchor="middle" dominant-baseline="central" font-style="italic" fill="#222">SmFBX275</text>
<line x1="641" x2="642.6" y1="536.3" y2="536.3" stroke="#000" stroke-width="0.6"/>
<text x="637.6" y="536.3" font-size="5.7" text-anchor="end" fill="#222" dominant-baseline="central" >0</text>
<line x1="641" x2="642.6" y1="523.2" y2="523.2" stroke="#000" stroke-width="0.6"/>
<text x="637.6" y="523.2" font-size="5.7" text-anchor="end" fill="#222" dominant-baseline="central" >0.5</text>
<line x1="641" x2="642.6" y1="510.1" y2="510.1" stroke="#000" stroke-width="0.6"/>
<text x="637.6" y="510.1" font-size="5.7" text-anchor="end" fill="#222" dominant-baseline="central" >1</text>
<line x1="641" x2="642.6" y1="497" y2="497" stroke="#000" stroke-width="0.6"/>
<text x="637.6" y="497" font-size="5.7" text-anchor="end" fill="#222" dominant-baseline="central" >1.5</text>
<line x1="641" x2="642.6" y1="483.9" y2="483.9" stroke="#000" stroke-width="0.6"/>
<text x="637.6" y="483.9" font-size="5.7" text-anchor="end" fill="#222" dominant-baseline="central" >2</text>
<rect x="648" y="510.4" width="5.3" height="25.9" fill="#a6a6a6"/>
<path d="M650.65 510.4V506.3M649.35 506.3H651.95" stroke="#a6a6a6" stroke-width="0.55" fill="none"/>
<rect x="654.9" y="512.8" width="4.8" height="23.5" fill="#000"/>
<path d="M657.3 512.8V503.1M656 503.1H658.6" stroke="#000" stroke-width="0.55" fill="none"/>
<rect x="671.4" y="509.2" width="5.2" height="27.1" fill="#a6a6a6"/>
<path d="M674 509.2V507.1M672.7 507.1H675.3" stroke="#a6a6a6" stroke-width="0.55" fill="none"/>
<rect x="678.2" y="501.5" width="5.1" height="34.8" fill="#000"/>
<path d="M680.75 501.5V497.5M679.45 497.5H682.05" stroke="#000" stroke-width="0.55" fill="none"/>
<path d="M642.6 483.4V536.3H689.4" stroke="#000" stroke-width="1.1" fill="none"/>
<line x1="653.85" x2="653.85" y1="536.3" y2="537.8" stroke="#000" stroke-width="0.6"/>
<line x1="677.35" x2="677.35" y1="536.3" y2="537.8" stroke="#000" stroke-width="0.6"/>
<text x="653.85" y="542.5" font-size="5.7" text-anchor="middle" fill="#222" dominant-baseline="central" >E31</text>
<text x="677.35" y="542.5" font-size="5.7" text-anchor="middle" fill="#222" dominant-baseline="central" >E32</text>
<text x="665.4" y="472.3" font-size="7.5" text-anchor="middle" dominant-baseline="central" font-style="italic" fill="#222">SmFBX323</text>
<line x1="705.2" x2="706.8" y1="535.8" y2="535.8" stroke="#000" stroke-width="0.6"/>
<text x="701.8" y="535.8" font-size="5.7" text-anchor="end" fill="#222" dominant-baseline="central" >0</text>
<line x1="705.2" x2="706.8" y1="524.72" y2="524.72" stroke="#000" stroke-width="0.6"/>
<text x="701.8" y="524.72" font-size="5.7" text-anchor="end" fill="#222" dominant-baseline="central" >0.3</text>
<line x1="705.2" x2="706.8" y1="513.64" y2="513.64" stroke="#000" stroke-width="0.6"/>
<text x="701.8" y="513.64" font-size="5.7" text-anchor="end" fill="#222" dominant-baseline="central" >0.6</text>
<line x1="705.2" x2="706.8" y1="502.56" y2="502.56" stroke="#000" stroke-width="0.6"/>
<text x="701.8" y="502.56" font-size="5.7" text-anchor="end" fill="#222" dominant-baseline="central" >0.9</text>
<line x1="705.2" x2="706.8" y1="491.48" y2="491.48" stroke="#000" stroke-width="0.6"/>
<text x="701.8" y="491.48" font-size="5.7" text-anchor="end" fill="#222" dominant-baseline="central" >1.2</text>
<line x1="705.2" x2="706.8" y1="480.4" y2="480.4" stroke="#000" stroke-width="0.6"/>
<text x="701.8" y="480.4" font-size="5.7" text-anchor="end" fill="#222" dominant-baseline="central" >1.5</text>
<rect x="712.4" y="497.1" width="5.3" height="38.7" fill="#a6a6a6"/>
<path d="M715.05 497.1V492.2M713.75 492.2H716.35" stroke="#a6a6a6" stroke-width="0.55" fill="none"/>
<rect x="719.3" y="495.9" width="5.2" height="39.9" fill="#000"/>
<path d="M721.9 495.9V488.4M720.6 488.4H723.2" stroke="#000" stroke-width="0.55" fill="none"/>
<rect x="736.5" y="500.3" width="5.3" height="35.5" fill="#a6a6a6"/>
<path d="M739.15 500.3V494.3M737.85 494.3H740.45" stroke="#a6a6a6" stroke-width="0.55" fill="none"/>
<rect x="743.1" y="502" width="5.4" height="33.8" fill="#000"/>
<path d="M745.8 502V491.6M744.5 491.6H747.1" stroke="#000" stroke-width="0.55" fill="none"/>
<path d="M706.8 479.9V535.8H754.2" stroke="#000" stroke-width="1.1" fill="none"/>
<line x1="718.45" x2="718.45" y1="535.8" y2="537.3" stroke="#000" stroke-width="0.6"/>
<line x1="742.5" x2="742.5" y1="535.8" y2="537.3" stroke="#000" stroke-width="0.6"/>
<text x="718.45" y="542.5" font-size="5.7" text-anchor="middle" fill="#222" dominant-baseline="central" >E31</text>
<text x="742.5" y="542.5" font-size="5.7" text-anchor="middle" fill="#222" dominant-baseline="central" >E32</text>
<text x="732.2" y="472.7" font-size="7.5" text-anchor="middle" dominant-baseline="central" font-style="italic" fill="#222">SmFBX325</text>
<rect x="763.5" y="508.8" width="3.2" height="3.2" fill="#a6a6a6"/>
<rect x="763.5" y="518.4" width="3.2" height="3.2" fill="#000"/>
<text x="767.8" y="510.4" font-size="6.2" text-anchor="start" fill="#222" dominant-baseline="central" >0d</text>
<text x="767.8" y="520" font-size="6.2" text-anchor="start" fill="#222" dominant-baseline="central" >6d</text>
<text x="0" y="0" font-size="5.9" fill="#222" text-anchor="middle" dominant-baseline="central" transform="translate(402.1,506) rotate(-90)">Relative Expression</text>
</svg>
</body></html>
